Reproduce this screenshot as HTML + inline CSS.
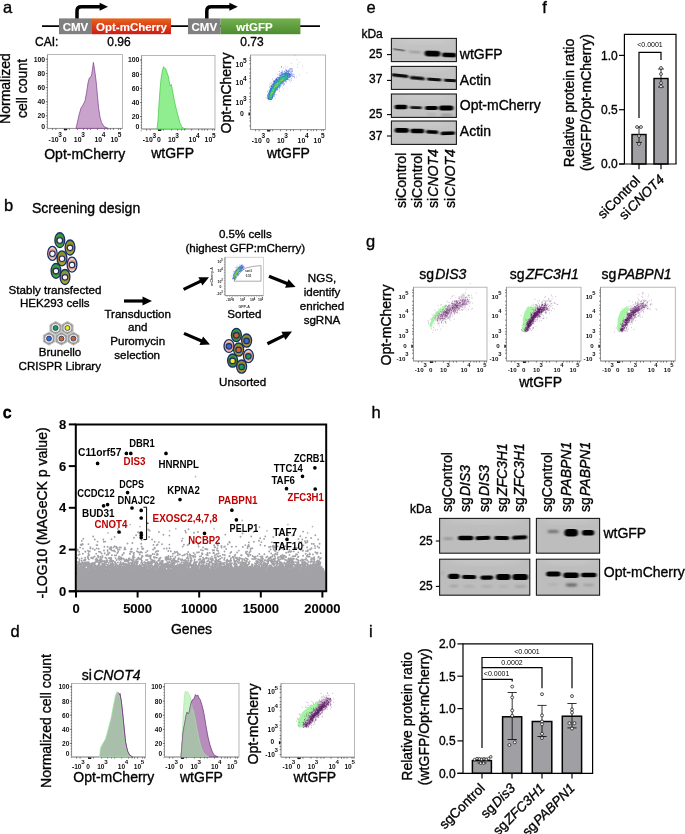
<!DOCTYPE html>
<html><head><meta charset="utf-8"><title>Figure</title><style>html,body{margin:0;padding:0;background:#fff}body{width:685px;height:834px;overflow:hidden;font-family:"Liberation Sans",sans-serif}svg{display:block;opacity:0.999;will-change:transform;filter:blur(0.35px)}</style></head><body><svg width="685" height="834" viewBox="0 0 685 834" font-family="'Liberation Sans', sans-serif" fill="#000"><defs><linearGradient id="gor" x1="0" y1="0" x2="0" y2="1"><stop offset="0" stop-color="#e8641c"/><stop offset="1" stop-color="#d01a12"/></linearGradient><linearGradient id="ggr" x1="0" y1="0" x2="0" y2="1"><stop offset="0" stop-color="#74b050"/><stop offset="1" stop-color="#4c8c30"/></linearGradient><linearGradient id="cellg" x1="0" y1="0" x2="0" y2="1"><stop offset="0.05" stop-color="#1f8a34"/><stop offset="0.25" stop-color="#3cb24a"/><stop offset="0.5" stop-color="#4e6c2a"/><stop offset="0.78" stop-color="#46ba50"/><stop offset="0.97" stop-color="#2a9a3c"/></linearGradient><linearGradient id="cello" x1="0" y1="0" x2="0" y2="1"><stop offset="0.05" stop-color="#5e9628"/><stop offset="0.25" stop-color="#8aa22a"/><stop offset="0.5" stop-color="#ad7c2a"/><stop offset="0.78" stop-color="#a8b234"/><stop offset="0.97" stop-color="#8aa82c"/></linearGradient><linearGradient id="cellp" x1="0" y1="0" x2="0" y2="1"><stop offset="0.05" stop-color="#f2dccc"/><stop offset="0.25" stop-color="#eec0ae"/><stop offset="0.5" stop-color="#de9484"/><stop offset="0.78" stop-color="#f0ccb4"/><stop offset="0.97" stop-color="#f2e2cc"/></linearGradient><filter id="bl1" x="-20%" y="-80%" width="140%" height="260%"><feGaussianBlur stdDeviation="0.9 0.7"/></filter><filter id="bl2" x="-20%" y="-80%" width="140%" height="260%"><feGaussianBlur stdDeviation="1.5 1.1"/></filter><filter id="bl3" x="-10%" y="-10%" width="120%" height="120%"><feGaussianBlur stdDeviation="5"/></filter><clipPath id="bc391_38"><rect x="391.4" y="38.4" width="65.0" height="23.2"/></clipPath><clipPath id="bc391_66"><rect x="391.4" y="66.4" width="65.0" height="23.0"/></clipPath><clipPath id="bc391_94"><rect x="391.4" y="94.0" width="65.0" height="23.4"/></clipPath><clipPath id="bc391_121"><rect x="391.4" y="121.0" width="65.0" height="23.4"/></clipPath><clipPath id="bc439_518"><rect x="439.6" y="518.4" width="90.2" height="34.8"/></clipPath><clipPath id="bc536_518"><rect x="536.4" y="518.4" width="63.2" height="34.8"/></clipPath><clipPath id="bc439_559"><rect x="439.6" y="559.2" width="90.2" height="36.0"/></clipPath><clipPath id="bc536_559"><rect x="536.4" y="559.2" width="63.2" height="36.0"/></clipPath></defs><text x="3.0" y="13.2" font-size="16.5" stroke="#000" stroke-width="0.35">a</text><line x1="42.0" y1="26.2" x2="320.0" y2="26.2" stroke="#000" stroke-width="1.7"/><rect x="59.0" y="18.4" width="33.0" height="15.8" fill="#808080"/><rect x="92.0" y="18.4" width="79.0" height="15.8" fill="url(#gor)"/><rect x="188.0" y="18.4" width="32.6" height="15.8" fill="#808080"/><rect x="220.6" y="18.4" width="79.8" height="15.8" fill="url(#ggr)"/><text x="75.5" y="31.0" font-size="11.5" text-anchor="middle" font-weight="bold" fill="#fff" stroke="#fff" stroke-width="0.12">CMV</text><text x="131.5" y="31.0" font-size="11.5" text-anchor="middle" font-weight="bold" fill="#fff" stroke="#fff" stroke-width="0.12">Opt-mCherry</text><text x="204.3" y="31.0" font-size="11.5" text-anchor="middle" font-weight="bold" fill="#fff" stroke="#fff" stroke-width="0.12">CMV</text><text x="254.5" y="31.0" font-size="11.5" text-anchor="middle" font-weight="bold" fill="#fff" stroke="#fff" stroke-width="0.12">wtGFP</text><path d="M77 18.6V11Q77 6.8 81.4 6.8H102" stroke="#000" stroke-width="3.5" fill="none"/><path d="M99.6 2.8L108 6.8L99.6 10.8Z" fill="#000"/><path d="M206.8 18.6V11Q206.8 6.8 211.20000000000002 6.8H231.8" stroke="#000" stroke-width="3.5" fill="none"/><path d="M229.4 2.8L237.8 6.8L229.4 10.8Z" fill="#000"/><text x="35.0" y="46.2" font-size="12" stroke="#000" stroke-width="0.35">CAI:</text><text x="119.0" y="46.2" font-size="12" text-anchor="middle" stroke="#000" stroke-width="0.35">0.96</text><text x="252.0" y="46.2" font-size="12" text-anchor="middle" stroke="#000" stroke-width="0.35">0.73</text><text x="10.2" y="88.5" font-size="14" text-anchor="middle" transform="rotate(-90 10.2 88.5)" stroke="#000" stroke-width="0.35">Normalized</text><text x="27.2" y="88.5" font-size="14" text-anchor="middle" transform="rotate(-90 27.2 88.5)" stroke="#000" stroke-width="0.35">cell count</text><rect x="47.4" y="54.6" width="75.0" height="73.8" fill="#fff" stroke="#a6a6a6" stroke-width="0.8"/><line x1="47.4" y1="54.6" x2="47.4" y2="128.4" stroke="#8c8c8c" stroke-width="0.8"/><line x1="47.4" y1="128.4" x2="122.4" y2="128.4" stroke="#8c8c8c" stroke-width="0.8"/><text x="45.2" y="61.6" font-size="6.9" text-anchor="end" font-weight="bold" fill="#111">100</text><text x="45.2" y="76.0" font-size="6.9" text-anchor="end" font-weight="bold" fill="#111">80</text><text x="45.2" y="90.0" font-size="6.9" text-anchor="end" font-weight="bold" fill="#111">60</text><text x="45.2" y="104.2" font-size="6.9" text-anchor="end" font-weight="bold" fill="#111">40</text><text x="45.2" y="118.2" font-size="6.9" text-anchor="end" font-weight="bold" fill="#111">20</text><text x="45.2" y="128.6" font-size="6.9" text-anchor="end" font-weight="bold" fill="#111">0</text><path d="M45.8 59.2h1.6M45.8 73.6h1.6M45.8 87.6h1.6M45.8 101.8h1.6M45.8 115.8h1.6M46.5 59.2h0.9M46.5 62.0h0.9M46.5 64.9h0.9M46.5 67.7h0.9M46.5 70.5h0.9M46.5 73.4h0.9M46.5 76.2h0.9M46.5 79.0h0.9M46.5 81.8h0.9M46.5 84.7h0.9M46.5 87.5h0.9M46.5 90.3h0.9M46.5 93.2h0.9M46.5 96.0h0.9M46.5 98.8h0.9M46.5 101.7h0.9M46.5 104.5h0.9M46.5 107.3h0.9M46.5 110.1h0.9M46.5 113.0h0.9M46.5 115.8h0.9M46.5 118.6h0.9M46.5 121.5h0.9M46.5 124.3h0.9M46.5 127.1h0.9M46.5 129.9h0.9" stroke="#333" stroke-width="0.6" fill="none"/><text x="48.6" y="141.6" font-size="6.9" font-weight="bold" fill="#111">-10<tspan dy="-4.6" dx="-0.3" font-size="6.5">3</tspan></text><text x="62.8" y="141.6" font-size="6.9" font-weight="bold" fill="#111">0</text><text x="73.8" y="141.6" font-size="6.9" font-weight="bold" fill="#111">10<tspan dy="-4.6" dx="-0.3" font-size="6.5">3</tspan></text><text x="94.4" y="141.6" font-size="6.9" font-weight="bold" fill="#111">10<tspan dy="-4.6" dx="-0.3" font-size="6.5">4</tspan></text><text x="110.4" y="141.6" font-size="6.9" font-weight="bold" fill="#111">10<tspan dy="-4.6" dx="-0.3" font-size="6.5">5</tspan></text><path d="M52.4 128.4v1.6M55.9 128.4v1.6M64.4 128.4v1.6M66.9 128.4v1.6M69.4 128.4v1.6M77.4 128.4v1.6M83.4 128.4v1.6M87.4 128.4v1.6M90.4 128.4v1.6M97.4 128.4v1.6M104.4 128.4v1.6M107.9 128.4v1.6M110.4 128.4v1.6M113.4 128.4v1.6M118.4 128.4v1.6M120.4 128.4v1.6" stroke="#333" stroke-width="0.6" fill="none"/><path d="M63.9 129.6h3" stroke="#111" stroke-width="1.4"/><polygon points="76.0,128.4 77.5,122.0 79.0,115.0 81.0,108.0 83.0,105.0 85.0,101.0 86.5,93.0 88.0,83.0 89.3,78.0 90.5,77.3 91.6,75.0 92.5,69.0 93.4,62.4 94.2,67.0 95.2,74.0 96.2,82.0 97.4,95.0 98.6,108.0 100.0,117.0 101.5,122.5 104.0,126.6 108.0,128.4" fill="#c9a3cb" stroke="#7d3c8e" stroke-width="0.7" stroke-linejoin="round"/><text x="84.7" y="159.0" font-size="14" text-anchor="middle" stroke="#000" stroke-width="0.35">Opt-mCherry</text><rect x="141.6" y="55.4" width="73.4" height="73.6" fill="#fff" stroke="#a6a6a6" stroke-width="0.8"/><line x1="141.6" y1="55.4" x2="141.6" y2="129.0" stroke="#8c8c8c" stroke-width="0.8"/><line x1="141.6" y1="129.0" x2="215.0" y2="129.0" stroke="#8c8c8c" stroke-width="0.8"/><text x="139.4" y="62.4" font-size="6.9" text-anchor="end" font-weight="bold" fill="#111">100</text><text x="139.4" y="76.8" font-size="6.9" text-anchor="end" font-weight="bold" fill="#111">80</text><text x="139.4" y="90.8" font-size="6.9" text-anchor="end" font-weight="bold" fill="#111">60</text><text x="139.4" y="105.0" font-size="6.9" text-anchor="end" font-weight="bold" fill="#111">40</text><text x="139.4" y="119.0" font-size="6.9" text-anchor="end" font-weight="bold" fill="#111">20</text><text x="139.4" y="129.4" font-size="6.9" text-anchor="end" font-weight="bold" fill="#111">0</text><path d="M140.0 60.0h1.6M140.0 74.4h1.6M140.0 88.4h1.6M140.0 102.6h1.6M140.0 116.6h1.6M140.7 60.0h0.9M140.7 62.8h0.9M140.7 65.7h0.9M140.7 68.5h0.9M140.7 71.3h0.9M140.7 74.2h0.9M140.7 77.0h0.9M140.7 79.8h0.9M140.7 82.6h0.9M140.7 85.5h0.9M140.7 88.3h0.9M140.7 91.1h0.9M140.7 94.0h0.9M140.7 96.8h0.9M140.7 99.6h0.9M140.7 102.5h0.9M140.7 105.3h0.9M140.7 108.1h0.9M140.7 110.9h0.9M140.7 113.8h0.9M140.7 116.6h0.9M140.7 119.4h0.9M140.7 122.3h0.9M140.7 125.1h0.9M140.7 127.9h0.9M140.7 130.8h0.9" stroke="#333" stroke-width="0.6" fill="none"/><text x="142.8" y="142.2" font-size="6.9" font-weight="bold" fill="#111">-10<tspan dy="-4.6" dx="-0.3" font-size="6.5">3</tspan></text><text x="157.0" y="142.2" font-size="6.9" font-weight="bold" fill="#111">0</text><text x="168.0" y="142.2" font-size="6.9" font-weight="bold" fill="#111">10<tspan dy="-4.6" dx="-0.3" font-size="6.5">3</tspan></text><text x="188.6" y="142.2" font-size="6.9" font-weight="bold" fill="#111">10<tspan dy="-4.6" dx="-0.3" font-size="6.5">4</tspan></text><text x="204.6" y="142.2" font-size="6.9" font-weight="bold" fill="#111">10<tspan dy="-4.6" dx="-0.3" font-size="6.5">5</tspan></text><path d="M146.6 129.0v1.6M150.1 129.0v1.6M158.6 129.0v1.6M161.1 129.0v1.6M163.6 129.0v1.6M171.6 129.0v1.6M177.6 129.0v1.6M181.6 129.0v1.6M184.6 129.0v1.6M191.6 129.0v1.6M198.6 129.0v1.6M202.1 129.0v1.6M204.6 129.0v1.6M207.6 129.0v1.6M212.6 129.0v1.6M214.6 129.0v1.6" stroke="#333" stroke-width="0.6" fill="none"/><path d="M158.1 130.2h3" stroke="#111" stroke-width="1.4"/><polygon points="157.0,129.0 158.0,120.0 159.0,104.0 160.0,90.0 161.0,79.0 162.3,71.0 163.6,66.6 164.6,68.4 165.6,68.6 167.0,72.6 168.2,76.0 169.3,82.0 170.2,86.0 171.4,84.4 172.4,90.0 174.0,99.0 176.0,108.0 178.0,115.5 180.0,123.0 182.0,127.4 186.0,129.0" fill="#90ee90" stroke="#3ccc3c" stroke-width="0.7" stroke-linejoin="round"/><text x="172.6" y="158.2" font-size="14" text-anchor="middle" stroke="#000" stroke-width="0.35">wtGFP</text><text x="231.2" y="93.0" font-size="14" text-anchor="middle" transform="rotate(-90 231.2 93.0)" stroke="#000" stroke-width="0.35">Opt-mCherry</text><rect x="250.6" y="55.0" width="74.8" height="74.6" fill="#fff" stroke="#a6a6a6" stroke-width="0.8"/><line x1="250.6" y1="55.0" x2="250.6" y2="129.6" stroke="#8c8c8c" stroke-width="0.8"/><line x1="250.6" y1="129.6" x2="325.4" y2="129.6" stroke="#8c8c8c" stroke-width="0.8"/><text x="246.6" y="67.1" font-size="6.9" text-anchor="end" font-weight="bold" fill="#111">10<tspan dy="-4.6" dx="-0.3" font-size="6.5">5</tspan></text><text x="246.6" y="85.3" font-size="6.9" text-anchor="end" font-weight="bold" fill="#111">10<tspan dy="-4.6" dx="-0.3" font-size="6.5">4</tspan></text><text x="246.6" y="105.3" font-size="6.9" text-anchor="end" font-weight="bold" fill="#111">10<tspan dy="-4.6" dx="-0.3" font-size="6.5">3</tspan></text><text x="243.8" y="116.4" font-size="6.9" text-anchor="end" font-weight="bold" fill="#111">0</text><path d="M249.2 58.0h1.4M249.2 60.5h1.4M249.2 63.8h1.4M249.2 69.0h1.4M249.2 73.0h1.4M249.2 76.0h1.4M249.2 78.5h1.4M249.2 82.0h1.4M249.2 88.0h1.4M249.2 93.0h1.4M249.2 96.5h1.4M249.2 99.5h1.4M249.2 102.0h1.4M249.2 107.0h1.4M249.2 110.0h1.4M249.2 114.0h1.4M249.2 118.0h1.4M249.2 121.0h1.4M249.2 126.0h1.4" stroke="#333" stroke-width="0.6" fill="none"/><path d="M249.2 112.6v3" stroke="#111" stroke-width="1.4"/><text x="251.8" y="142.8" font-size="6.9" font-weight="bold" fill="#111">-10<tspan dy="-4.6" dx="-0.3" font-size="6.5">3</tspan></text><text x="266.0" y="142.8" font-size="6.9" font-weight="bold" fill="#111">0</text><text x="277.0" y="142.8" font-size="6.9" font-weight="bold" fill="#111">10<tspan dy="-4.6" dx="-0.3" font-size="6.5">3</tspan></text><text x="297.6" y="142.8" font-size="6.9" font-weight="bold" fill="#111">10<tspan dy="-4.6" dx="-0.3" font-size="6.5">4</tspan></text><text x="313.6" y="142.8" font-size="6.9" font-weight="bold" fill="#111">10<tspan dy="-4.6" dx="-0.3" font-size="6.5">5</tspan></text><path d="M255.6 129.6v1.6M259.1 129.6v1.6M267.6 129.6v1.6M270.1 129.6v1.6M272.6 129.6v1.6M280.6 129.6v1.6M286.6 129.6v1.6M290.6 129.6v1.6M293.6 129.6v1.6M300.6 129.6v1.6M307.6 129.6v1.6M311.1 129.6v1.6M313.6 129.6v1.6M316.6 129.6v1.6M321.6 129.6v1.6M323.6 129.6v1.6" stroke="#333" stroke-width="0.6" fill="none"/><path d="M267.1 130.8h3" stroke="#111" stroke-width="1.4"/><path d="M266.2 97.8h0m1.3-1.9h0m0 .7h0m.1-5.2h0m0 3.9h0m.1 3h0m.1-.5h0m.1-3h0m0 3.9h0m.1-2.2h0m0 .8h0m0 1.7h0m.3-3.2h0m.1-2.6h0m0 .7h0m.1 3.9h0m.1 .3h0m0 .5h0m.1-2.8h0m0 .1h0m0 .2h0m.1-2.2h0m.1 1.3h0m0 1.4h0m0 1.5h0m0 .5h0m0 .4h0m.1-8.7h0m0 3.9h0m0 4.7h0m.1-6h0m0 1.7h0m0 3.8h0m0 1h0m.1-7.5h0m0 1.3h0m.1-.9h0m0 1.4h0m0 2.9h0m0 1.2h0m0 .7h0m.1-4.6h0m0 .1h0m0 1.2h0m0 .8h0m0 1.9h0m0 1.4h0m.1-9.1h0m0 2.4h0m0 2.7h0m0 1.6h0m0 .9h0m.1-10.9h0m0 4.7h0m0 0h0m0 3.2h0m0 3.4h0m.1-13.9h0m0 7.2h0m.1 2.8h0m0 3h0m0 .4h0m.1-3h0m.1-7.6h0m0 3.2h0m0 8.5h0m.1-8.2h0m0 1.4h0m0 2.7h0m.1-2.9h0m0 6.2h0m.1-9.5h0m0 .5h0m0 8.2h0m0 0h0m0 .1h0m0 .8h0m.1-10h0m0 2.5h0m0 .7h0m0 3.1h0m0 4.1h0m0 .2h0m0 .5h0m.1-9.7h0m0 2.1h0m0 2.4h0m0 2.1h0m0 .6h0m0 1.4h0m0 .1h0m0 .6h0m0 .5h0m0 0h0m.1-10.2h0m0 4.5h0m0 5.2h0m.1-8.6h0m0 1.1h0m0 .5h0m0 2.1h0m0 1.2h0m0 0h0m0 .6h0m0 1.9h0m0 .1h0m0 0h0m.1-6.8h0m0 5.3h0m0 .2h0m0 1.2h0m0 1.8h0m.1-13.5h0m0 2.3h0m0 .6h0m0 3.5h0m0 1.1h0m0 3.6h0m0 1.7h0m.1-15.3h0m0 6.6h0m0 1h0m0 4.6h0m0 1.4h0m.1-7.1h0m0 2h0m0 2.5h0m0 .3h0m0 .4h0m0 .3h0m.1-9.4h0m0 2.2h0m0 0h0m0 .4h0m0 0h0m0 4.5h0m0 2h0m0 .7h0m.1-9.2h0m0 3h0m0 2h0m0 .8h0m0 .2h0m0 .5h0m0 3.5h0m0 .8h0m0 .9h0m0 .7h0m.1-1.5h0m0 1.4h0m.1-12.6h0m0 9.3h0m0 1.5h0m0 2h0m0 .2h0m.1-12.7h0m0 .2h0m0 3.8h0m0 1.1h0m0 .7h0m0 .2h0m0 .8h0m0 3.3h0m.1-10.5h0m0 3.9h0m0 .1h0m0 2.6h0m.1-7.8h0m0 1h0m0 .4h0m0 2.8h0m0 .8h0m0 2.8h0m0 2.9h0m0 .5h0m.1-7.3h0m0 .4h0m0 4.3h0m0 4.4h0m0 1.4h0m.1-7.8h0m0 3.1h0m0 .6h0m.1-9.4h0m0 1.9h0m0 3.3h0m0 1.3h0m0 .4h0m0 .9h0m0 .4h0m0 2.2h0m0 .2h0m.1-10.2h0m0 1.8h0m0 .3h0m0 1.9h0m0 1.9h0m0 1.4h0m0 1.5h0m0 1.6h0m0 .7h0m.1-12.1h0m0 5.5h0m.1 6h0m0 1.6h0m.1-7.8h0m0 .4h0m0 3.6h0m0 .7h0m0 1.2h0m0 .6h0m0 .4h0m0 0h0m0 .2h0m.1-11.6h0m0 .8h0m0 3.2h0m0 .5h0m0 .1h0m.1-11.7h0m0 5.4h0m0 4.6h0m0 1.2h0m0 2.8h0m0 3.1h0m.1-4.4h0m0 .9h0m0 .7h0m.1-9h0m0 2.4h0m0 .3h0m0 2.3h0m0 .9h0m0 4.7h0m0 0h0m.1-11.8h0m0 4.1h0m0 1h0m0 4.6h0m.1-3.5h0m0 5.9h0m.1-14.1h0m0 5.7h0m0 2.4h0m.1-4.7h0m0 3.5h0m0 6.3h0m0 0h0m.1-13.2h0m0 6.2h0m0 2.4h0m0 2.4h0m0 .7h0m.1-8.5h0m0 0h0m0 2.6h0m0 .3h0m0 2h0m0 2.6h0m0 3.4h0m.1-13h0m0 4.2h0m0 2.9h0m.1-7.8h0m0 1.7h0m0 .5h0m0 1.3h0m0 .3h0m.1-.8h0m0 0h0m0 .7h0m0 1.4h0m0 6.7h0m0 .8h0m0 2.5h0m.1-12.6h0m0 5.4h0m0 3.7h0m.1-6.5h0m0 2.8h0m0 1.1h0m0 1.5h0m.1-9.9h0m0 4.9h0m0 7.7h0m.1-12.8h0m0 8.4h0m0 .1h0m0 3h0m.1-12.2h0m0 .1h0m0 4.5h0m0 .1h0m0 1h0m0 5.2h0m0 1.1h0m.1-8.7h0m0 2.9h0m0 1.5h0m0 1.2h0m0 0h0m0 1.7h0m.1-8.5h0m0 2.5h0m0 4.6h0m0 5.5h0m.1-14.6h0m0 1.5h0m0 1.2h0m0 2.9h0m0 .6h0m0 1.2h0m.1-7.9h0m0 1h0m0 .6h0m0 .8h0m0 2h0m0 .3h0m0 4.6h0m0 1.5h0m0 .6h0m0 2.6h0m.1-8.4h0m0 .2h0m0 3.8h0m0 1.3h0m0 .2h0m0 .8h0m.1-9.2h0m.1-.9h0m0 1.1h0m0 4.8h0m.1-6.7h0m0 4.9h0m0 2.1h0m0 1.5h0m0 .3h0m0 .5h0m.1-10.1h0m0 4.1h0m0 .1h0m0 1h0m0 3.5h0m.1-7.3h0m0 .4h0m0 3.9h0m0 4.5h0m.1-8.5h0m0 6h0m.1-.9h0m.1-5.7h0m0 1.3h0m0 .7h0m.1-4.2h0m0 .8h0m0 9.1h0m0 0h0m.1-3.2h0m0 2.8h0m.1-10h0m0 .4h0m0 6.8h0m.1-7.7h0m0 1.3h0m0 1.9h0m0 1.4h0m0 4.4h0m0 1.4h0m.1-3.6h0m0 1.8h0m0 7.1h0m.1-15.2h0m0 1.2h0m0 2.3h0m0 .3h0m0 2.3h0m0 2.1h0m.1-6.3h0m0 1.6h0m0 .1h0m.1-3.9h0m0 .3h0m0 .9h0m0 4.4h0m0 1.1h0m0 1.2h0m0 .4h0m0 .1h0m.1-8.6h0m0 3.4h0m0 .3h0m0 2h0m0 3.3h0m0 1.2h0m.1-5.7h0m0 .9h0m0 1h0m.1-6.5h0m0 .8h0m0 6.6h0m.1-6h0m0 2.3h0m0 5.3h0m0 2.3h0m.1-7h0m0 1.4h0m0 2.6h0m0 2.6h0m0 .3h0m.1-6h0m0 3.3h0m0 .9h0m.1-10.6h0m0 9h0m0 .8h0m.1-13.2h0m0 5.7h0m0 3.1h0m0 1.7h0m0 2.7h0m0 .1h0m0 1.6h0m.1-9.9h0m0 .4h0m0 .8h0m0 1.2h0m0 1.7h0m.1 1.3h0m0 .1h0m0 1.4h0m.1-4.1h0m0 1.3h0m.1-5.6h0m0 5.1h0m0 .9h0m0 1h0m0 3.7h0m.1-5.8h0m0 .4h0m0 .5h0m0 .1h0m0 .2h0m.1-6.6h0m0 3.3h0m0 4.7h0m0 4.5h0m.1-5.2h0m0 1.5h0m0 3h0m.1-8.7h0m0 .9h0m.1-3.5h0m0 .2h0m0 4h0m0 3.4h0m0 1.5h0m0 0h0m.1-7.9h0m0 1.6h0m0 2.9h0m0 .8h0m0 2.9h0m.1-7.2h0m0 1.7h0m0 3.2h0m.1-7.3h0m0 2.4h0m0 3.2h0m0 1.6h0m0 .8h0m.1 .4h0m.1-7.3h0m0 .9h0m.1 4.9h0m0 2h0m.1-5.9h0m0 1.8h0m.1-6.7h0m0 2.9h0m0 2h0m0 2.1h0m0 1.7h0m0 1.1h0m0 1.6h0m.1-6.4h0m0 4.9h0m.1-5.2h0m0 .8h0m0 .5h0m0 1.8h0m.1-3.2h0m0 7.6h0m.1-10.6h0m0 4.4h0m0 1.1h0m0 8.4h0m.1-19.6h0m0 11.6h0m0 3.8h0m.1-8h0m0 .1h0m0 2.3h0m0 3.8h0m0 3.7h0m.1-15h0m0 13.3h0m.1-1.7h0m0 1.4h0m.1-12h0m0 2.6h0m0 1.4h0m0 3.6h0m.1-5.4h0m0 3.8h0m0 1.8h0m0 3.3h0m.1-10.5h0m0 .3h0m0 3.1h0m0 .2h0m0 .9h0m.1-.3h0m.1-.2h0m0 3.9h0m.1-7.4h0m0 2.6h0m0 1.5h0m0 2.4h0m0 2h0m0 .8h0m.1-7.4h0m.1-2.6h0m0 .3h0m0 3h0m0 2.3h0m0 .9h0m0 1.3h0m.1-3.7h0m0 3.8h0m0 .2h0m.1-4.6h0m0 4.7h0m0 .5h0m.1-4.7h0m0 4.6h0m.1-1.3h0m.1-9.8h0m0 4h0m0 3.3h0m.1 2.4h0m0 2.7h0m.1-12h0m0 9.8h0m.1-1.3h0m.1-14.3h0m0 7.2h0m0 3.9h0m0 1.1h0m.1-13h0m0 8.4h0m0 7.8h0m.1-5.5h0m0 2.1h0m0 1h0m.1-7.6h0m0 2.8h0m0 3.8h0m0 1.5h0m0 2.4h0m.1-6h0m0 2.7h0m.1-7.1h0m0 10.3h0m.1-5.4h0m0 1.6h0m.1-7.7h0m0 1.6h0m0 1.2h0m0 3.4h0m0 1.8h0m.1-1.4h0m0 4.9h0m.1-8.8h0m0 6.4h0m0 2.7h0m.1-9.3h0m0 2.4h0m0 2.6h0m.1-6.8h0m0 4.4h0m0 4.2h0m0 2.2h0m.1-6.5h0m0 5.2h0m.1-5.4h0m0 1.1h0m0 1h0m0 2.5h0m.2 1.9h0m.1-9h0m0 6.5h0m.1-5.2h0m0 2.3h0m0 .9h0m0 2.6h0m.1-7.3h0m0 5.2h0m0 1.3h0m0 4.2h0m.1-3.2h0m0 .8h0m.1-5.4h0m.1 0h0m0 1.8h0m0 7h0m.1-7.8h0m0 2.8h0m0 1.6h0m.1-8h0m0 7.7h0m.1-4.1h0m0 2.4h0m.1-4.6h0m0 4.1h0m0 .7h0m0 0h0m.1-5.9h0m0 .1h0m.1-2h0m0 3.9h0m0 2.6h0m0 1h0m.1-8.6h0m0 6.2h0m0 6.3h0m.1-5h0m0 2.5h0m.1-4.5h0m.1-3.1h0m0 3.2h0m.1-5.5h0m0 3.8h0m0 5.8h0m.1-7.2h0m.1 .8h0m0 1.9h0m.1-2.8h0m0 1.7h0m0 .3h0m0 4.4h0m.1-6.3h0m0 6.4h0m.1-4.8h0m0 1.1h0m.1-3.5h0m0 1.5h0m0 5.1h0m.2-8.6h0m0 2.4h0m0 8h0m.1-12.3h0m0 5.4h0m0 5.1h0m.1-7h0m.1 4.3h0m.1-2.3h0m0 1h0m0 4.2h0m.1 3h0m.1-3.3h0m0 .7h0m.2-7.9h0m0 .2h0m0 9h0m.1-8.6h0m0 .3h0m0 .3h0m0 .1h0m0 6.3h0m.1-9.6h0m0 7.2h0m0 1.7h0m.1-5.3h0m0 1.6h0m.1-5.4h0m0 .7h0m0 2.6h0m0 2h0m.1-1.6h0m0 2.3h0m0 .7h0m.1 .1h0m.1-5.2h0m.1 6.7h0m0 .7h0m.1-8.8h0m0 1.1h0m0 .3h0m0 2.6h0m0 3.8h0m0 .6h0m.1-2.8h0m0 3.4h0m0 .1h0m.1-3.2h0m0 2.5h0m0 .5h0m.1-4.1h0m.1 .3h0m0 2.9h0m.1-4.1h0m0 2.5h0m0 .1h0m.1-5.5h0m0 2.5h0m0 1.8h0m.1-2.4h0m0 .5h0m.2 .2h0m.1-1.1h0m0 2h0m.1-.6h0m0 .3h0m0 2.9h0m.1-5.2h0m.1 1.6h0m.1-2.8h0m0 1.9h0m0 2.7h0m.1-4.3h0m0 6.4h0m.1-7.2h0m.1 3.4h0m0 5.5h0m.1-5.5h0m0 3h0m.3-2.3h0m0 .2h0m0 2.2h0m.1-6.3h0m0 4.7h0m0 .3h0m0 1.5h0m.1-3.6h0m0 2.3h0m.1-6.9h0m0 5.3h0m0 .5h0m.1-3.4h0m0 3h0m.1 3.2h0m.1-3.5h0m0 5.7h0m.5-8.6h0m0 5h0m0 .2h0m.1-2.2h0m.1-5.2h0m0 5.6h0m0 1.2h0m.1-1.5h0m.2-5.4h0m0 3.9h0m0 3.5h0m.1-1h0m.1-6h0m0 3.6h0m.1-1.1h0m.2 3.8h0m.1-2.1h0m.2-4.9h0m0 6h0m0 3.9h0m0 1.7h0m.1-9.5h0m.4 1.1h0m.1-.7h0m.2-1.3h0m0 4.9h0m.1 2.1h0m.2-1.1h0m.3-1.8h0m.6 2.5h0m.4-1.8h0m.2 1.8h0m.5 1.2h0" stroke="#3a52d8" stroke-width="0.55" stroke-linecap="round" fill="none"/><path d="M268 92.6h0m2.1 8.8h0m1-12.4h0m.1-6.5h0m1.8 2.6h0m2.1 2.2h0m.2 11.2h0m.3-15.9h0m0 7h0m.2 .7h0m.1-8.3h0m.4-3.7h0m.8 10.8h0m.8-8h0m.1-1.7h0m2 5.9h0m.1 1.2h0m.7-12.6h0m0 11h0m.1-11.2h0m.4 8.6h0m.5 2.8h0m.3-4.9h0m.1-9.5h0m0 .3h0m0 16.1h0m.1-6.4h0m.6 2.4h0m.4-15.2h0m.1 9.2h0m.1 11.8h0m.6-10.1h0m.2 5.7h0m.1-.9h0m.9-17.4h0m.1 7.1h0m.6-2.8h0m1.4 2.9h0m.3-6.1h0m.6 12.7h0m.5-8.6h0m.2-1.8h0m.3 .3h0m.4 10.9h0m.3-4.9h0m.3 6.1h0m1-18.7h0m.2 12.6h0m.6-7.3h0m.4 2.7h0m1.6 4.9h0m.6-21.1h0m1.9 21.8h0m.4-17h0m.7 7.2h0m.1-2.8h0m1.5-2h0m0 12.5h0m3.1-8.5h0m4.5 6.6h0" stroke="#6a7ce0" stroke-width="0.45" stroke-linecap="round" fill="none"/><path d="M268.7 93.9h0m0 .6h0m.1 3.3h0m0 0h0m0 .5h0m0 1h0m.1-1.3h0m0 .7h0m.1-2.4h0m0 1.4h0m0 1.6h0m.1-3.1h0m0 1.1h0m0 1.3h0m.1-1.1h0m0 1h0m.1-.9h0m0 .8h0m0 .1h0m0 .2h0m.1-2.6h0m0 3.3h0m.1-8.3h0m0 2.9h0m0 1.7h0m0 .5h0m0 .1h0m0 .9h0m0 .3h0m0 .2h0m0 1h0m0 .4h0m0 0h0m.2-3.2h0m0 .2h0m0 1h0m0 1.5h0m0 .1h0m.1-3.6h0m0 .1h0m0 .7h0m0 .4h0m0 .6h0m.1-1.3h0m0 .7h0m.1-1h0m0 1.7h0m.1-2.3h0m0 .2h0m0 2.1h0m0 .6h0m0 .1h0m0 .4h0m.1-4.6h0m0 .1h0m0 1h0m0 .2h0m0 .5h0m0 .7h0m0 .7h0m0 .4h0m.1-4.5h0m0 .3h0m0 .5h0m0 .4h0m0 1.2h0m.1-4.1h0m0 2.3h0m0 1.5h0m0 1.4h0m0 .6h0m0 .3h0m0 2.2h0m.1-10.2h0m0 6.5h0m0 1h0m0 1h0m0 1.8h0m.1-7.8h0m0 3.2h0m0 .6h0m0 .8h0m0 .4h0m.1-7.4h0m0 .3h0m0 2.8h0m0 .1h0m0 4.8h0m0 1.1h0m.1-9h0m0 2.1h0m0 1.5h0m0 1.3h0m0 .7h0m0 .2h0m0 0h0m0 .4h0m0 .1h0m0 1.3h0m.1-6h0m0 .6h0m0 5.4h0m0 1.4h0m.1-5.6h0m0 1.7h0m0 .1h0m0 1.3h0m0 1.9h0m.1-.4h0m0 .1h0m0 .1h0m0 1.5h0m.1-9.5h0m0 .9h0m0 .2h0m0 2.5h0m0 .1h0m0 2.8h0m0 1.5h0m0 1.7h0m.1-10h0m0 .9h0m0 .8h0m0 1.2h0m0 3.1h0m0 1.4h0m0 .6h0m.1-8.5h0m0 .1h0m0 5.3h0m0 2.6h0m0 2.5h0m0 .1h0m.1-6h0m0 2.6h0m0 1.6h0m0 .3h0m.1-8.1h0m0 4.6h0m0 .2h0m0 .7h0m0 2.2h0m0 .3h0m.1-9.2h0m0 1.1h0m0 4.4h0m0 2.8h0m0 .1h0m0 .6h0m0 .3h0m.1-1.2h0m0 .8h0m0 1.3h0m.1-10.4h0m0 4.6h0m.1-5.3h0m.1 1.2h0m0 .5h0m0 4.9h0m.1-6.3h0m0 .3h0m.1 5h0m0 2.1h0m0 .6h0m0 .1h0m.1-7.9h0m0 1h0m0 .6h0m0 .2h0m0 .4h0m0 4.9h0m0 1.4h0m.1-12.3h0m0 3.5h0m0 1.6h0m0 .6h0m0 1h0m0 1h0m0 .9h0m0 1.7h0m0 .7h0m0 2.7h0m.1-8.9h0m0 1h0m0 1.7h0m0 .5h0m0 .2h0m0 .4h0m0 .1h0m.1-5.1h0m0 .1h0m0 1.7h0m0 3.2h0m.1-5.8h0m0 .9h0m0 1.4h0m0 3.8h0m0 1.7h0m.1-5.2h0m0 3h0m.1-5.4h0m0 .6h0m0 2h0m0 2.9h0m0 1.4h0m.1-8.5h0m0 .7h0m0 2.3h0m0 1.6h0m0 2h0m0 .3h0m.1-2.2h0m0 .7h0m0 .9h0m0 1.5h0m.1-9h0m0 2.4h0m0 .8h0m0 1.4h0m0 .5h0m0 .3h0m.1-3.1h0m0 1.1h0m0 3.1h0m0 1.7h0m.1-4.1h0m0 2.4h0m0 2.1h0m.1-8.4h0m0 5.6h0m0 1.5h0m.1-3.7h0m.1-3.5h0m0 2.3h0m0 .5h0m0 .4h0m0 .3h0m0 3.4h0m.1-3.6h0m0 6.1h0m0 2.6h0m.1-12.3h0m0 1.4h0m0 .8h0m0 3.5h0m0 1.3h0m.1-7.6h0m0 3.5h0m0 4.4h0m0 .5h0m.1-5.2h0m0 4.1h0m.1-7.3h0m0 3.5h0m0 .6h0m0 .8h0m0 1.8h0m.1-4.5h0m0 .4h0m0 .9h0m0 .7h0m0 2.4h0m0 .9h0m.1-7.3h0m0 1.8h0m0 1.3h0m0 1h0m0 .3h0m0 .7h0m0 1h0m.1-5h0m0 1.4h0m0 4.1h0m.1-4.2h0m0 .5h0m0 1.7h0m0 1.4h0m.1-6.4h0m0 1.5h0m.1-4h0m.1 .4h0m0 4.2h0m0 1.4h0m0 2h0m0 2.2h0m.1-6.7h0m0 1h0m0 .6h0m.1-1.9h0m0 .2h0m0 .3h0m0 5.4h0m.1-6h0m0 1.4h0m0 .2h0m0 2.5h0m0 .5h0m0 0h0m0 1.5h0m0 .3h0m.1-7.2h0m0 3.2h0m0 .6h0m0 3.2h0m0 2h0m.1-7h0m0 .4h0m0 0h0m0 4h0m.1-8.5h0m0 5.2h0m0 .2h0m0 .1h0m0 1.1h0m0 .9h0m.1-6.8h0m0 2.7h0m0 3.9h0m.1-5.2h0m0 4.5h0m0 .8h0m0 .7h0m0 .5h0m.1-7.4h0m0 .2h0m0 2.1h0m0 1.3h0m.2-3.6h0m0 2.5h0m.1-1.2h0m0 3.5h0m0 .7h0m0 1.1h0m.1-7.3h0m0 1.7h0m0 2h0m0 1.7h0m0 1h0m.1-3.2h0m0 .8h0m.1-4.1h0m0 1.5h0m0 .5h0m0 1.3h0m0 .6h0m.1-4.2h0m0 1.8h0m0 2h0m.2-1.6h0m.1-3.3h0m0 1.1h0m0 .5h0m0 2.5h0m0 0h0m0 3.2h0m.1-5.1h0m0 1.6h0m0 1h0m.1 1.9h0m.1-3.2h0m0 3.2h0m.1-1.5h0m.1-3h0m.1 1.8h0m0 1.3h0m.1-3.5h0m0 1.1h0m.1-1.3h0m0 1.8h0m.1-3.2h0m0 .3h0m0 6h0m.2-5h0m0 4h0m.1-5.9h0m0 1.3h0m0 0h0m0 0h0m0 1.5h0m0 3.4h0m.1-5.1h0m0 .5h0m0 .7h0m0 .1h0m0 2.7h0m.1-3.5h0m0 .4h0m0 .3h0m0 3.3h0m.1-3.7h0m.1 .4h0m0 0h0m0 1.3h0m.1-3.1h0m0 0h0m0 3.2h0m0 .1h0m.1-2.4h0m0 .5h0m0 2.6h0m.1 .5h0m.1-5.6h0m0 1.2h0m0 .3h0m.1-.1h0m.1 2.4h0m.1-2.2h0m0 1.1h0m0 3.1h0m.1-2.7h0m0 .8h0m0 .2h0m0 1.3h0m.1-4.9h0m.1-2h0m0 2.9h0m0 2.5h0m.1-5.5h0m0 .1h0m0 .1h0m0 1.2h0m0 .1h0m0 2.9h0m0 1.3h0m0 .1h0m.1-1.2h0m0 .3h0m.1-3.6h0m0 .9h0m0 .6h0m.1 1.6h0m0 .7h0m.1-1.2h0m0 2.7h0m.1-6.9h0m0 1.5h0m0 .1h0m0 4.7h0m.1-.7h0m.1-5.1h0m0 9.2h0m.1-9h0m0 1.2h0m0 .7h0m.1 .6h0m0 1.7h0m.2-5.7h0m0 2.6h0m0 2.9h0m0 1h0m.1-6.9h0m.1 6h0m0 .2h0m.1-3.7h0m0 2.9h0m0 .6h0m.1-4.7h0m0 5.6h0m.1-4.9h0m0 1.9h0m.1 .1h0m0 .3h0m.2-.3h0m.1-.5h0m0 2.2h0m.1-6h0m0 4.8h0m.1-.2h0m.1-2.1h0m0 1.6h0m.1-3.7h0m0 .9h0m0 2.2h0m.1-5.8h0m0 6.8h0m.1-4.5h0m.1-.7h0m0 0h0m0 1.6h0m0 1.6h0m.1-1.6h0m0 4.6h0m0 .4h0m.1-3.9h0m0 1.8h0m0 1.4h0m0 0h0m.1-.5h0m0 .4h0m0 .4h0m0 .1h0m.1-6.5h0m.1 3.7h0m.1 .5h0m.1 1.1h0m0 .4h0m.1 .3h0m.1-3.2h0m.1 .5h0m0 1.8h0m0 2.8h0m.1-2.4h0m.1-6.6h0m0 6.9h0m.2-5.9h0m0 1.4h0m0 .6h0m0 .3h0m0 .7h0m0 1.7h0m0 .6h0m.2-3.1h0m0 1.3h0m0 .4h0m.2-5h0m0 1.3h0m0 1.2h0m.1 3h0m.1-3.1h0m.1-1.5h0m0 1.2h0m0 .6h0m0 2h0m.1-.2h0m0 .4h0m0 1h0m.1-5.6h0m.1 .1h0m0 1.2h0m0 1.9h0m0 2h0m.1-5.7h0m0 .3h0m0 .6h0m.1 3.1h0m0 .4h0m0 1.7h0m.1-6.3h0m0 7h0m.2-4.5h0m.2 .3h0m0 .8h0m0 .5h0m.1-1.6h0m0 1.4h0m.1-2h0m0 .3h0m0 2h0m0 .5h0m.1-5.2h0m.1 2.5h0m0 5.4h0m.1-2.6h0m0 1h0m.1-4.1h0m0 .8h0m.1-.8h0m0 .9h0m.1 1.1h0m0 1.4h0m.3-1.8h0m.1-2.3h0m0 2.5h0m0 2.2h0m.1-4.6h0m.1 3.7h0m0 .7h0m0 .3h0m.2-7.3h0m0 2.4h0m0 1h0m.1-1.5h0m.1 .2h0m0 1.9h0m.1 .1h0m.1 1.2h0m0 .4h0m0 .5h0m.2-1.2h0m.1-2.4h0m0 2.3h0m.1-2.8h0m0 3.5h0m.2-3.8h0m0 3.9h0m.2-5.5h0m0 .8h0m.3 5.3h0m.1-1.7h0m.1-.6h0m.1 1.4h0m.1-1.5h0m.2 .1h0m0 1.4h0m.2-.9h0m.1-2.9h0m.1 3.7h0m1.1 0h0m.1-.5h0" stroke="#2a8ad0" stroke-width="0.6" stroke-linecap="round" fill="none"/><path d="M267.6 94.8h0m1.4 1.7h0m.4 1.4h0m.1-.8h0m0 0h0m.1-.3h0m0 1.2h0m0 .5h0m.1-3.8h0m0 1h0m0 .5h0m0 0h0m0 .6h0m0 .4h0m0 .6h0m.1-2.1h0m0 .2h0m0 2.1h0m.1-2.7h0m0 1.6h0m0 1.2h0m.1-2.3h0m.1-.3h0m0 .3h0m0 2.2h0m.1-3.9h0m0 1.8h0m0 .1h0m0 1.6h0m.1-1.8h0m0 .8h0m0 .1h0m0 .1h0m0 .3h0m0 .3h0m0 .2h0m.1-2.9h0m0 2.3h0m0 .8h0m.1-2.7h0m0 .5h0m0 .3h0m0 1.4h0m.1-3.6h0m0 0h0m0 1.9h0m0 2.6h0m.1-5.7h0m0 1.5h0m0 0h0m.1 .9h0m0 1.7h0m0 1.1h0m0 .4h0m.1-5.1h0m0 1h0m0 .3h0m0 3.4h0m0 .3h0m0 .9h0m.1-6h0m0 1.1h0m0 3h0m0 .1h0m0 1.7h0m0 0h0m.1-7h0m0 1.4h0m0 1.1h0m0 .1h0m0 2.3h0m0 .8h0m.1-5.9h0m0 .5h0m0 .3h0m0 .8h0m0 .2h0m0 .3h0m0 .8h0m0 1.6h0m0 1.3h0m0 .9h0m0 .1h0m.1-4.7h0m0 1.4h0m0 .1h0m.1-3.2h0m0 .6h0m0 1.6h0m0 .6h0m0 .5h0m0 1.4h0m.1-6h0m0 3.9h0m0 2.1h0m0 .3h0m0 1.8h0m.1-7.4h0m0 1.5h0m0 .1h0m0 .2h0m0 1.7h0m.1-3.8h0m0 2.3h0m0 .2h0m0 .3h0m0 0h0m0 .3h0m0 .7h0m0 .1h0m0 3.1h0m.1-8h0m0 1h0m0 .8h0m0 .2h0m0 2.6h0m0 0h0m0 .4h0m0 .6h0m.1-5.8h0m0 2.3h0m0 1.3h0m0 2h0m0 .8h0m.1-4.8h0m0 .4h0m0 1.2h0m.1-4.3h0m0 3h0m0 0h0m0 .7h0m0 .2h0m0 1.9h0m0 .4h0m.1-4.1h0m0 .2h0m0 1h0m0 .2h0m0 .6h0m0 .3h0m0 .1h0m.1-2.7h0m0 .7h0m0 1.4h0m0 .8h0m0 .6h0m.1-5.2h0m0 1.1h0m0 1.3h0m0 1.8h0m.1-3.9h0m0 .3h0m0 1.7h0m0 .4h0m.1-1.1h0m0 .9h0m0 0h0m0 2.9h0m.1-4.6h0m0 .9h0m0 .9h0m0 .9h0m0 .6h0m.1-3.6h0m0 .9h0m0 .7h0m0 .9h0m.1-3.6h0m0 1.5h0m0 1.7h0m0 1.9h0m.1-5.1h0m0 2.5h0m0 1.7h0m.1-5.6h0m0 3.3h0m0 5h0m.1-7.8h0m0 1.8h0m0 3.6h0m.1-3.5h0m0 1h0m0 .3h0m.1-.7h0m0 .8h0m.1-2.2h0m0 1h0m0 .2h0m0 1.1h0m0 1.1h0m0 .1h0m.1-3.9h0m0 .8h0m0 .2h0m0 1.3h0m0 .7h0m.1-3.2h0m0 1.9h0m0 3.6h0m.1-2.1h0m0 0h0m.1-.9h0m.1-2.7h0m0 .3h0m0 1.7h0m0 .3h0m.1-2.3h0m0 1.2h0m.1-2.5h0m0 .9h0m0 2.8h0m0 .3h0m0 .3h0m0 1.1h0m.1-5.4h0m0 3.5h0m.1-3h0m0 1.5h0m0 .3h0m.1-4.7h0m0 3.1h0m0 1.1h0m0 .8h0m.1 .4h0m0 .7h0m.1-5.2h0m0 2.9h0m0 1.9h0m0 2.6h0m.1-4.9h0m0 .8h0m0 1.1h0m.1-4.1h0m0 1.2h0m0 1.9h0m0 1.1h0m.1-4.6h0m0 2.3h0m0 3.1h0m.1-7.6h0m0 3.2h0m0 .7h0m0 .5h0m0 .4h0m0 .7h0m.1-3.3h0m0 .9h0m0 2.2h0m0 .8h0m.1-3h0m0 .6h0m0 1.9h0m.2-3.8h0m0 .1h0m0 .8h0m0 .1h0m.1 1.1h0m.1-3.2h0m.1 1.3h0m0 1.9h0m.1-1.2h0m0 .2h0m0 .8h0m.1-1.6h0m0 3h0m0 .3h0m.1-1.4h0m.1-.9h0m.1-3h0m0 3h0m0 1.4h0m.1-.9h0m.1 0h0m0 .2h0m.1-3h0m0 1.9h0m.1-2.3h0m0 .9h0m0 1.8h0m0 .5h0m.1-1.9h0m0 1.4h0m0 .1h0m.1-.6h0m.1-.1h0m0 1.6h0m.1-3.2h0m.1-1.6h0m0 .5h0m0 4h0m.1-5h0m0 1.1h0m0 2.2h0m0 1.5h0m.1-4.3h0m0 1.5h0m0 2.9h0m.1-4.3h0m0 .6h0m0 .2h0m0 2.6h0m.1-3.3h0m0 .9h0m.1-.3h0m0 .2h0m0 2.2h0m0 .2h0m.1-1.8h0m0 .6h0m0 .3h0m.1 2.3h0m.1-3.2h0m0 .3h0m0 .4h0m0 .3h0m0 .2h0m.1-2.4h0m0 0h0m0 2.1h0m0 .4h0m0 1.1h0m.1-6.4h0m0 1h0m0 1.4h0m0 1h0m0 .8h0m.2 .6h0m.1-3.9h0m0 2.9h0m0 1.5h0m0 .2h0m.1-4.9h0m0 2.6h0m0 .5h0m0 1.7h0m.1-3h0m.2-1.9h0m0 2.8h0m.1-2.2h0m0 2.2h0m0 1h0m.1-3.9h0m0 1.1h0m.1-.6h0m0 2.2h0m0 .1h0m0 .2h0m.2-1h0m0 2.2h0m.1-2.1h0m0 1h0m.1-2.4h0m0 3.2h0m0 .1h0m.1-4.1h0m0 .9h0m.1 .5h0m0 .5h0m0 .8h0m0 .4h0m.1-2.1h0m.1-.1h0m0 1.7h0m0 .2h0m.2-3.7h0m0 2h0m0 0h0m0 1.4h0m0 .2h0m.1-4.5h0m0 2.3h0m0 1h0m0 1.8h0m.1-4.2h0m0 4.3h0m.1-.8h0m0 1.2h0m.1-2h0m.1-4h0m0 .5h0m0 2.5h0m0 1.7h0m0 .3h0m0 .3h0m.1-4.2h0m.1 2.9h0m0 .9h0m.1-3.5h0m0 .3h0m0 1.1h0m.1 1.7h0m.1-1.3h0m.1-.5h0m0 .7h0m.1-2.6h0m0 2.6h0m.1-.4h0m.1-1.8h0m0 2.6h0m.2-1.4h0m0 .3h0m.2-2.8h0m.1 1.4h0m0 .5h0m.1-2.3h0m0 2h0m0 1.2h0m0 .3h0m.1-.7h0m0 .4h0m.1-4h0m0 .7h0m.1 2.1h0m.1-.4h0m.1-.1h0m0 .6h0m0 .2h0m.1-1.5h0m0 .7h0m0 2.3h0m.1-4.2h0m.1 1.2h0m.1 1h0m0 1.4h0m0 1.2h0m.2-3h0m0 2.4h0m.1-5h0m.1 3.5h0m.1-1.3h0m.1 1.4h0m.1-2.6h0m0 2.1h0m.2-.4h0m0 1.8h0m.1-.2h0m.1-4.5h0m.1 1.8h0m0 2.3h0m.1-2.6h0m.1-2.6h0m0 3.6h0m.1-.7h0m.1-.2h0m.1-1.1h0m0 .7h0m0 1.5h0m0 1.4h0m.2-4.3h0m.1 2.2h0m0 .2h0m0 .6h0m.1-.6h0m.1 .5h0m0 .6h0m.1-2.6h0m0 .9h0m.1-.7h0m0 1.4h0m0 .9h0m.1-3.2h0m0 .7h0m0 3h0m.1-1.7h0m.1-2.1h0m0 .5h0m0 .3h0m.1 1.6h0m.1-2.3h0m.1 .6h0m.2 .6h0m.3-2.1h0m0 3.3h0m.1-2.1h0m0 1.5h0m.1 .3h0m.2 .2h0m.1-.2h0m0 .4h0m1.5-1.1h0" stroke="#30c088" stroke-width="0.62" stroke-linecap="round" fill="none"/><path d="M270 96.3h0m.9-2.5h0m0 .6h0m.1-1.1h0m0 1.4h0m0 .3h0m.1 1.5h0m.1-4.7h0m.3 2h0m.1-1.3h0m.1 0h0m.2 2.3h0m.3-1.6h0m.1-1.3h0m0 0h0m0 .6h0m.4 0h0m.1-3h0m.2 2.7h0m.1-2.5h0m.1 1h0m.2 .6h0m.3-1.7h0m0 .9h0m.4-.8h0m.1-1.9h0m.2-1.3h0m.1 .4h0m.3 .5h0m.3-1.5h0m0 1.3h0m.3-1.4h0m.4 .6h0m.4-2.6h0m0 .2h0m0 .4h0m0 2.5h0m.1-.2h0m.2-.8h0m.2-.7h0m.3-1.6h0m.1 1.9h0m.1-.3h0m.1-.8h0m.2-.8h0m.1 1.6h0m.2-2h0m.1 0h0m.3 .6h0m.2-.6h0m1 .3h0m.4-2.1h0m.1 .8h0m.1-.4h0m.2-1.5h0m.8-.7h0m.1 1.2h0m.1-.2h0m.1 .1h0m.4-.5h0m.3-1.1h0m.4 .9h0m.2-.1h0m0 .2h0m.1 .2h0m.3-1.2h0m.3-1h0m0 .5h0m.7-.7h0m.1 1.8h0" stroke="#a4dc3c" stroke-width="0.55" stroke-linecap="round" fill="none"/><text x="288.4" y="158.2" font-size="14" text-anchor="middle" stroke="#000" stroke-width="0.35">wtGFP</text><text x="4.0" y="211.0" font-size="16.5" stroke="#000" stroke-width="0.35">b</text><text x="32.0" y="212.8" font-size="14" stroke="#000" stroke-width="0.35">Screening design</text><ellipse cx="59.8" cy="240.2" rx="4.9" ry="7.5" fill="url(#cellg)" stroke="#1b2f63" stroke-width="1.3"/><ellipse cx="59.8" cy="240.5" rx="4.1" ry="4.6" fill="#4e6c2a" opacity="0.75"/><circle cx="59.8" cy="240.5" r="2.75" fill="#f6f6f6" stroke="#1b2f63" stroke-width="1.15"/><ellipse cx="70.0" cy="247.5" rx="4.9" ry="7.5" fill="url(#cello)" stroke="#1b2f63" stroke-width="1.3"/><ellipse cx="70.0" cy="247.8" rx="4.1" ry="4.6" fill="#ad7c2a" opacity="0.75"/><circle cx="70.0" cy="247.8" r="2.75" fill="#f6f6f6" stroke="#1b2f63" stroke-width="1.15"/><ellipse cx="52.4" cy="253.4" rx="4.7" ry="7.0" fill="url(#cellp)" stroke="#1b2f63" stroke-width="1.3"/><ellipse cx="52.4" cy="253.7" rx="4.1" ry="4.6" fill="#de9484" opacity="0.75"/><circle cx="52.4" cy="253.7" r="2.75" fill="#f6f6f6" stroke="#1b2f63" stroke-width="1.15"/><ellipse cx="62.0" cy="258.4" rx="4.9" ry="7.5" fill="url(#cello)" stroke="#1b2f63" stroke-width="1.3"/><ellipse cx="62.0" cy="258.7" rx="4.1" ry="4.6" fill="#ad7c2a" opacity="0.75"/><circle cx="62.0" cy="258.7" r="2.75" fill="#f6f6f6" stroke="#1b2f63" stroke-width="1.15"/><ellipse cx="72.0" cy="264.6" rx="4.9" ry="7.5" fill="url(#cellp)" stroke="#1b2f63" stroke-width="1.3"/><ellipse cx="72.0" cy="264.9" rx="4.1" ry="4.6" fill="#de9484" opacity="0.75"/><circle cx="72.0" cy="264.9" r="2.75" fill="#f6f6f6" stroke="#1b2f63" stroke-width="1.15"/><ellipse cx="56.0" cy="270.8" rx="4.9" ry="7.5" fill="url(#cellg)" stroke="#1b2f63" stroke-width="1.3"/><ellipse cx="56.0" cy="271.1" rx="4.1" ry="4.6" fill="#4e6c2a" opacity="0.75"/><circle cx="56.0" cy="271.1" r="2.75" fill="#f6f6f6" stroke="#1b2f63" stroke-width="1.15"/><ellipse cx="65.0" cy="277.0" rx="4.9" ry="7.5" fill="url(#cello)" stroke="#1b2f63" stroke-width="1.3"/><ellipse cx="65.0" cy="277.3" rx="4.1" ry="4.6" fill="#ad7c2a" opacity="0.75"/><circle cx="65.0" cy="277.3" r="2.75" fill="#f6f6f6" stroke="#1b2f63" stroke-width="1.15"/><text x="55.0" y="294.0" font-size="11.6" text-anchor="middle" stroke="#000" stroke-width="0.35">Stably transfected</text><text x="54.8" y="307.0" font-size="11.6" text-anchor="middle" stroke="#000" stroke-width="0.35">HEK293 cells</text><polygon points="55.6,321.4 61.3,324.7 61.3,331.3 55.6,334.6 49.9,331.3 49.9,324.7" fill="#959595" stroke="#c4c4c4" stroke-width="1.0" stroke-linejoin="round"/><circle cx="55.6" cy="328.0" r="3.9" fill="#fff" stroke="#c8c8c8" stroke-width="0.5"/><circle cx="55.6" cy="328.0" r="2.5" fill="#1aa04a" stroke="#1b2f63" stroke-width="0.8"/><polygon points="67.4,321.4 73.1,324.7 73.1,331.3 67.4,334.6 61.7,331.3 61.7,324.7" fill="#959595" stroke="#c4c4c4" stroke-width="1.0" stroke-linejoin="round"/><circle cx="67.4" cy="328.0" r="3.9" fill="#fff" stroke="#c8c8c8" stroke-width="0.5"/><circle cx="67.4" cy="328.0" r="2.5" fill="#f4ea1c" stroke="#1b2f63" stroke-width="0.8"/><polygon points="49.0,332.0 54.7,335.3 54.7,341.9 49.0,345.2 43.3,341.9 43.3,335.3" fill="#959595" stroke="#c4c4c4" stroke-width="1.0" stroke-linejoin="round"/><circle cx="49.0" cy="338.6" r="3.9" fill="#fff" stroke="#c8c8c8" stroke-width="0.5"/><circle cx="49.0" cy="338.6" r="2.5" fill="#3a6ad0" stroke="#1b2f63" stroke-width="0.8"/><polygon points="61.4,332.0 67.1,335.3 67.1,341.9 61.4,345.2 55.7,341.9 55.7,335.3" fill="#959595" stroke="#c4c4c4" stroke-width="1.0" stroke-linejoin="round"/><circle cx="61.4" cy="338.6" r="3.9" fill="#fff" stroke="#c8c8c8" stroke-width="0.5"/><circle cx="61.4" cy="338.6" r="2.5" fill="#d8641c" stroke="#1b2f63" stroke-width="0.8"/><polygon points="73.4,332.0 79.1,335.3 79.1,341.9 73.4,345.2 67.7,341.9 67.7,335.3" fill="#959595" stroke="#c4c4c4" stroke-width="1.0" stroke-linejoin="round"/><circle cx="73.4" cy="338.6" r="3.9" fill="#fff" stroke="#c8c8c8" stroke-width="0.5"/><circle cx="73.4" cy="338.6" r="2.5" fill="#d8641c" stroke="#1b2f63" stroke-width="0.8"/><text x="60.0" y="356.4" font-size="11.6" text-anchor="middle" stroke="#000" stroke-width="0.35">Brunello</text><text x="59.8" y="370.4" font-size="11.6" text-anchor="middle" stroke="#000" stroke-width="0.35">CRISPR Library</text><line x1="124.0" y1="301.0" x2="143.5" y2="301.0" stroke="#000" stroke-width="3.2"/><polygon points="152.0,301.0 142.5,305.6 142.5,296.4" fill="#000"/><text x="137.7" y="317.6" font-size="11.6" text-anchor="middle" stroke="#000" stroke-width="0.35">Transduction</text><text x="137.7" y="331.4" font-size="11.6" text-anchor="middle" stroke="#000" stroke-width="0.35">and</text><text x="137.7" y="345.4" font-size="11.6" text-anchor="middle" stroke="#000" stroke-width="0.35">Puromycin</text><text x="137.2" y="359.0" font-size="11.6" text-anchor="middle" stroke="#000" stroke-width="0.35">selection</text><line x1="183.6" y1="289.4" x2="201.3" y2="280.9" stroke="#000" stroke-width="3.2"/><polygon points="209.0,277.2 202.4,285.5 198.4,277.2" fill="#000"/><line x1="184.0" y1="333.4" x2="202.2" y2="341.2" stroke="#000" stroke-width="3.2"/><polygon points="210.0,344.6 199.5,345.1 203.1,336.6" fill="#000"/><line x1="269.0" y1="276.2" x2="287.7" y2="283.8" stroke="#000" stroke-width="3.2"/><polygon points="295.6,287.0 285.1,287.7 288.5,279.2" fill="#000"/><line x1="267.4" y1="343.8" x2="284.4" y2="335.4" stroke="#000" stroke-width="3.2"/><polygon points="292.0,331.6 285.5,339.9 281.4,331.7" fill="#000"/><text x="245.3" y="238.4" font-size="11.6" text-anchor="middle" stroke="#000" stroke-width="0.35">0.5% cells</text><text x="245.3" y="252.0" font-size="11.6" text-anchor="middle" stroke="#000" stroke-width="0.35">(highest GFP:mCherry)</text><rect x="225.0" y="257.2" width="38.6" height="38.4" fill="#fff" stroke="#b4b4b4" stroke-width="0.6"/><line x1="225.0" y1="257.2" x2="225.0" y2="295.6" stroke="#666" stroke-width="0.6"/><line x1="225.0" y1="295.6" x2="263.6" y2="295.6" stroke="#666" stroke-width="0.6"/><text x="222.8" y="262.6" font-size="3.4" text-anchor="end" font-weight="bold" fill="#111">10<tspan dy="-1.5" font-size="2.6">5</tspan></text><text x="222.8" y="271.8" font-size="3.4" text-anchor="end" font-weight="bold" fill="#111">10<tspan dy="-1.5" font-size="2.6">4</tspan></text><text x="222.8" y="282.5" font-size="3.4" text-anchor="end" font-weight="bold" fill="#111">10<tspan dy="-1.5" font-size="2.6">3</tspan></text><text x="221.4" y="288.2" font-size="3.4" text-anchor="end" font-weight="bold" fill="#111">0</text><text x="222.8" y="294.9" font-size="3.4" text-anchor="end" font-weight="bold" fill="#111">-10<tspan dy="-1.5" font-size="2.6">3</tspan></text><text x="226.0" y="301.4" font-size="3.4" font-weight="bold" fill="#111">-10<tspan dy="-1.5" font-size="2.6">3</tspan></text><text x="232.2" y="301.4" font-size="3.4" font-weight="bold" fill="#111">0</text><text x="240.0" y="301.4" font-size="3.4" font-weight="bold" fill="#111">10<tspan dy="-1.5" font-size="2.6">3</tspan></text><text x="250.0" y="301.4" font-size="3.4" font-weight="bold" fill="#111">10<tspan dy="-1.5" font-size="2.6">4</tspan></text><text x="258.0" y="301.4" font-size="3.4" font-weight="bold" fill="#111">10<tspan dy="-1.5" font-size="2.6">5</tspan></text><path d="M223.8 259.2h1.2M227.0 295.6v1.2M223.8 261.9h1.2M229.7 295.6v1.2M223.8 264.6h1.2M232.4 295.6v1.2M223.8 267.3h1.2M235.1 295.6v1.2M223.8 270.0h1.2M237.8 295.6v1.2M223.8 272.7h1.2M240.5 295.6v1.2M223.8 275.4h1.2M243.2 295.6v1.2M223.8 278.1h1.2M245.9 295.6v1.2M223.8 280.8h1.2M248.6 295.6v1.2M223.8 283.5h1.2M251.3 295.6v1.2M223.8 286.2h1.2M254.0 295.6v1.2M223.8 288.9h1.2M256.7 295.6v1.2M223.8 291.6h1.2M259.4 295.6v1.2M223.8 294.3h1.2M262.1 295.6v1.2" stroke="#555" stroke-width="0.4"/><text x="213.2" y="276.5" font-size="3.6" text-anchor="middle" font-weight="bold" fill="#333" transform="rotate(-90 213.2 276.5)">mCherry-A</text><text x="244.2" y="307.6" font-size="3.7" text-anchor="middle" font-weight="bold" fill="#333">GFP-A</text><path d="M232 276h0m.5 2.6h0m0 .2h0m.3-.5h0m.2-.4h0m.2-4.7h0m.2 2.6h0m.2-4.1h0m0 3.4h0m.1-.6h0m0 1.6h0m0 1.1h0m0 .3h0m0 1.1h0m.1-1.7h0m0 1.8h0m.1-1h0m.1-3.4h0m0 1.4h0m.1-.1h0m0 3.3h0m0 .2h0m.1-4.4h0m0 2.7h0m.1-3.5h0m0 .7h0m0 .7h0m.1-3.2h0m.1 4.1h0m0 2.2h0m.1-6.5h0m0 3.5h0m0 1h0m0 1.5h0m0 .9h0m0 .8h0m.1-7.3h0m0 4.5h0m.1-2.4h0m0 .5h0m0 3.5h0m0 .3h0m.1-2.4h0m0 .4h0m.1-3.2h0m0 .6h0m0 .8h0m0 .9h0m.1-4.4h0m0 1.2h0m0 1.1h0m.1-1.5h0m0 3.1h0m0 1.9h0m0 2h0m.1-11.4h0m0 6.7h0m.1-1.4h0m.1 1.7h0m0 2.4h0m.1-4.1h0m0 1.8h0m0 .4h0m0 1.7h0m.1-5.3h0m0 .8h0m0 2.3h0m0 .7h0m0 1.2h0m.1-6.2h0m0 2.5h0m0 4.2h0m.1-7.1h0m0 2.9h0m0 3.7h0m.1-5.8h0m0 .2h0m0 .3h0m0 3.5h0m.1-2h0m0 1.6h0m.1-4.1h0m.2 .2h0m0 .4h0m0 1.8h0m0 3.2h0m.1-4.7h0m0 2.9h0m0 .1h0m.1-7.2h0m0 6.1h0m.1-1.5h0m.1-2.2h0m0 1.2h0m0 .4h0m0 2h0m.1-5.5h0m0 1.5h0m0 5.4h0m0 .2h0m.1-5.3h0m0 1.2h0m0 .6h0m0 2.6h0m0 1h0m.1-4.7h0m0 4h0m0 .1h0m0 .3h0m.1-5.2h0m0 1.7h0m0 2.2h0m0 .3h0m0 .1h0m.1-4.8h0m0 1.2h0m0 .3h0m0 .2h0m0 1.2h0m.1 .1h0m0 .1h0m0 1.4h0m.1-2.5h0m0 .1h0m0 2.2h0m0 .9h0m.1-4.8h0m.1 .5h0m0 4.3h0m.1-6.3h0m0 6.1h0m.1-7.6h0m0 3.4h0m0 3.7h0m.1-.9h0m0 1.5h0m0 1.3h0m.1-5.1h0m0 1.2h0m0 2.1h0m0 1.7h0m.1-5.1h0m0 .1h0m0 2.5h0m.1-3.4h0m.1 .3h0m.1-1.7h0m0 .4h0m0 3.5h0m.1-4.5h0m0 2.1h0m0 .7h0m0 .1h0m0 2.5h0m.2-5h0m0 .6h0m0 .5h0m0 0h0m0 .9h0m0 1h0m.1-2.6h0m0 1.4h0m0 2.5h0m0 1.8h0m.1-5.3h0m0 2.1h0m0 .1h0m.1-1.4h0m0 .1h0m0 2.5h0m.1-1.3h0m.1-5.5h0m0 4.6h0m0 .2h0m0 .8h0m.1-3.9h0m0 2h0m0 .5h0m0 1.1h0m0 .8h0m0 .5h0m.2-4.4h0m0 2.6h0m0 1.1h0m0 .6h0m0 .4h0m.1-.8h0m.2-4.3h0m.1-.2h0m.1 .1h0m0 1h0m0 .3h0m.2 2.3h0m0 .7h0m.1-3.5h0m0 1.5h0m.1-1.7h0m0 1.9h0m.1-2.3h0m0 3.1h0m0 .5h0m0 .4h0m.1-5h0m0 5.5h0m.1 .2h0m.1-5.8h0m0 2.5h0m.1-3.2h0m0 2.2h0m0 .6h0m0 1.4h0m0 .9h0m.1-3.5h0m.1-1.2h0m0 3.1h0m0 .7h0m0 1.2h0m.1-3.9h0m0 1h0m0 2.6h0m.1-4.7h0m0 3h0m.1-3.3h0m0 .9h0m0 1.3h0m0 2.6h0m.1-4.2h0m0 2.7h0m0 .3h0m.2-1.5h0m0 .3h0m.2 .6h0m.1-1.5h0m0 .9h0m0 2.7h0m.1-4.8h0m0 3h0m0 .5h0m.1-3.9h0m0 1h0m0 2.2h0m.3-1.6h0m0 .6h0m.1-2.3h0m0 2h0m0 1h0m0 .1h0m0 .1h0m.1-.4h0m0 2.1h0m.1-2.6h0m.1-.2h0m0 .8h0m.3-2h0m0 .8h0m.3 2.8h0m.2-1h0m.2-1.8h0m0 .9h0m.6-.4h0" stroke="#3a52d8" stroke-width="0.45" stroke-linecap="round" fill="none"/><path d="M233.5 277.8h0m0 .3h0m.1-.4h0m.1-.2h0m0 .6h0m.1-.7h0m0 .3h0m.1-1h0m.1 .7h0m.1-1.9h0m0 1.2h0m0 1.4h0m.1-3h0m0 1.5h0m0 .3h0m0 .5h0m.1-2.6h0m0 .6h0m0 .2h0m.1 0h0m0 .3h0m0 1.7h0m0 .5h0m.1-2.2h0m0 .3h0m0 1.8h0m.1-3.7h0m0 1.2h0m0 2.2h0m.1-2.9h0m0 .2h0m0 .9h0m.1-.8h0m0 2.6h0m0 .6h0m0 .9h0m.1-4h0m0 0h0m.1-1.7h0m0 .1h0m0 1.2h0m0 .1h0m.1-1.7h0m0 .5h0m0 .5h0m0 .2h0m0 .6h0m0 1.5h0m0 .3h0m.1-5.5h0m0 2.5h0m0 0h0m0 .4h0m0 .1h0m.1-.3h0m0 0h0m0 1.2h0m.2-2.1h0m0 1.2h0m0 2.5h0m.1-2.7h0m0 .7h0m.1-.7h0m0 1.3h0m.1-3.1h0m0 1h0m0 1.6h0m.1 .2h0m.1-2.1h0m.1-1h0m0 .7h0m0 .5h0m0 0h0m0 .4h0m0 1.2h0m0 .2h0m.1-2.2h0m0 0h0m0 .6h0m0 .4h0m.1-1.6h0m0 .5h0m0 1.2h0m.1-2h0m0 2.2h0m0 .3h0m0 0h0m.1-3h0m0 .6h0m0 2.3h0m.1-2.7h0m0 1.5h0m0 .4h0m0 .5h0m.1-2.7h0m0 .1h0m.1 .5h0m0 .6h0m0 .8h0m0 .1h0m.1-.4h0m0 .3h0m0 1.1h0m.2-2.8h0m0 .1h0m.1-.3h0m0 0h0m.1-1h0m0 .2h0m.1-.1h0m0 1.6h0m0 .4h0m.1-2.7h0m.1 1.5h0m0 1.2h0m.1-1.9h0m0 .4h0m.1-.7h0m0 1.2h0m0 .3h0m.1-2h0m0 .2h0m0 .7h0m0 1.1h0m0 .2h0m.1-2.6h0m0 1.5h0m0 1.3h0m.1-3.7h0m0 1.5h0m0 .1h0m.1-.1h0m0 .2h0m0 .1h0m0 .2h0m.1-.3h0m0 1.7h0m.1-2.2h0m.1 .9h0m0 1.5h0m.1-1h0m.1-2.6h0m.1 1.3h0m0 1h0m0 0h0m.1-2.6h0m0 0h0m0 .6h0m0 1.1h0m0 .5h0m.1-1.4h0m0 .8h0m0 .4h0m.1-2h0m0 .4h0m0 .6h0m0 .6h0m0 .1h0m0 1h0m.1-.6h0m.1-1.3h0m.1-1.2h0m0 1.2h0m0 .2h0m0 .2h0m.1-.5h0m0 .4h0m0 .1h0m.1-1.4h0m0 .8h0m0 1.2h0m.2-1.8h0m.1 .1h0m0 1.1h0m0 .1h0m0 .2h0m0 .7h0m.1-2.6h0m0 .4h0m0 .8h0m0 .7h0m.1-2.1h0m0 1h0m.1-.4h0m0 .3h0m0 .5h0m0 .1h0m.1-2h0m0 1.5h0m0 .4h0m.1-1.2h0m0 .4h0m0 .7h0m.4 .8h0m.2-1h0m.2 .1h0m0 .1h0m.1 0h0m.4-.9h0m0 1.2h0" stroke="#2aa8a0" stroke-width="0.5" stroke-linecap="round" fill="none"/><path d="M234.3 276.3h0m.2-.1h0m.1-.4h0m0 .5h0m.3-1.5h0m0 1.1h0m.1-1.6h0m.1 .6h0m0 .4h0m0 .1h0m.1-.9h0m0 .9h0m.1-1h0m0 .6h0m.1-1.6h0m0 .5h0m0 .5h0m0 .9h0m.1-1.6h0m0 .6h0m.1 .2h0m.2-1.1h0m0 1.2h0m0 .2h0m.1-.8h0m0 .7h0m.2-1.8h0m0 .3h0m.1 .2h0m0 .2h0m0 .5h0m.1-1.4h0m0 .2h0m0 .2h0m.1-.3h0m0 .1h0m0 0h0m.1-.4h0m.1-.2h0m.1 .3h0m0 .5h0m.1-1.5h0m0 .8h0m0 .2h0m0 .1h0m0 .2h0m0 1h0m.1-2h0m0 .8h0m0 .8h0m.1-1.4h0m0 .1h0m0 .1h0m.1-1.1h0m.1 .2h0m0 .3h0m0 .3h0m.1-.7h0m.1-.9h0m0 1.4h0m0 .2h0m0 .2h0m0 .4h0m.1-2.1h0m.1-.1h0m0 1.4h0m.1-.7h0m.1-.5h0m0 .2h0m0 .7h0m.1-1h0m0 .1h0m.1-.2h0m.1-.1h0m.1-.3h0m0 .6h0m0 .1h0m.2 .5h0m.1-1.3h0m0 .4h0m0 .1h0m0 .2h0m0 .2h0m.1-1.3h0m0 1.1h0m0 .2h0m.8-1.4h0m0 .8h0m.1-.1h0m.3-.4h0" stroke="#8ad040" stroke-width="0.5" stroke-linecap="round" fill="none"/><path d="M234 281.2H261V265.6Q252 266 246 268Q240 271 234 281.2Z" fill="none" stroke="#444" stroke-width="0.45"/><text x="248.6" y="271.9" font-size="2.8" text-anchor="middle" font-weight="bold" fill="#222">sort1</text><text x="248.6" y="276.5" font-size="2.8" text-anchor="middle" font-weight="bold" fill="#222">0.51</text><text x="244.3" y="317.6" font-size="11.6" text-anchor="middle" stroke="#000" stroke-width="0.35">Sorted</text><ellipse cx="236.4" cy="335.0" rx="5" ry="6.6" fill="url(#cellg)" stroke="#1b2f63" stroke-width="1.3"/><ellipse cx="236.4" cy="335.3" rx="4.1" ry="4.6" fill="#4e6c2a" opacity="0.75"/><circle cx="236.4" cy="335.3" r="2.75" fill="#d8641c" stroke="#1b2f63" stroke-width="1.15"/><ellipse cx="246.6" cy="340.6" rx="5" ry="6.6" fill="url(#cello)" stroke="#1b2f63" stroke-width="1.3"/><ellipse cx="246.6" cy="340.9" rx="4.1" ry="4.6" fill="#ad7c2a" opacity="0.75"/><circle cx="246.6" cy="340.9" r="2.75" fill="#3a6ad0" stroke="#1b2f63" stroke-width="1.15"/><ellipse cx="229.0" cy="346.0" rx="5" ry="6.4" fill="url(#cellp)" stroke="#1b2f63" stroke-width="1.3"/><ellipse cx="229.0" cy="346.3" rx="4.1" ry="4.6" fill="#de9484" opacity="0.75"/><circle cx="229.0" cy="346.3" r="2.75" fill="#3a6ad0" stroke="#1b2f63" stroke-width="1.15"/><ellipse cx="238.6" cy="349.6" rx="5" ry="6.6" fill="url(#cello)" stroke="#1b2f63" stroke-width="1.3"/><ellipse cx="238.6" cy="349.9" rx="4.1" ry="4.6" fill="#ad7c2a" opacity="0.75"/><circle cx="238.6" cy="349.9" r="2.75" fill="#d8641c" stroke="#1b2f63" stroke-width="1.15"/><ellipse cx="248.4" cy="356.0" rx="5" ry="6.6" fill="url(#cellp)" stroke="#1b2f63" stroke-width="1.3"/><ellipse cx="248.4" cy="356.3" rx="4.1" ry="4.6" fill="#de9484" opacity="0.75"/><circle cx="248.4" cy="356.3" r="2.75" fill="#1aa04a" stroke="#1b2f63" stroke-width="1.15"/><ellipse cx="232.6" cy="360.6" rx="5" ry="6.6" fill="url(#cellg)" stroke="#1b2f63" stroke-width="1.3"/><ellipse cx="232.6" cy="360.9" rx="4.1" ry="4.6" fill="#4e6c2a" opacity="0.75"/><circle cx="232.6" cy="360.9" r="2.75" fill="#f4ea1c" stroke="#1b2f63" stroke-width="1.15"/><ellipse cx="241.6" cy="366.6" rx="5" ry="6.6" fill="url(#cello)" stroke="#1b2f63" stroke-width="1.3"/><ellipse cx="241.6" cy="366.9" rx="4.1" ry="4.6" fill="#ad7c2a" opacity="0.75"/><circle cx="241.6" cy="366.9" r="2.75" fill="#1aa04a" stroke="#1b2f63" stroke-width="1.15"/><text x="242.6" y="386.0" font-size="11.6" text-anchor="middle" stroke="#000" stroke-width="0.35">Unsorted</text><text x="322.0" y="281.6" font-size="11.6" text-anchor="middle" stroke="#000" stroke-width="0.35">NGS,</text><text x="322.0" y="295.6" font-size="11.6" text-anchor="middle" stroke="#000" stroke-width="0.35">identify</text><text x="322.0" y="309.6" font-size="11.6" text-anchor="middle" stroke="#000" stroke-width="0.35">enriched</text><text x="322.0" y="323.6" font-size="11.6" text-anchor="middle" stroke="#000" stroke-width="0.35">sgRNA</text><text x="3.0" y="418.4" font-size="16.5" stroke="#000" stroke-width="1.0">c</text><polygon points="76.8,591.3 76.8,572.2 78.1,570.4 79.4,571.4 80.7,570.0 82.0,569.9 83.3,573.2 84.6,573.5 85.9,568.7 87.2,572.1 88.5,572.2 89.8,567.8 91.1,570.8 92.4,568.7 93.7,570.8 95.0,569.8 96.3,572.7 97.6,569.9 98.9,568.5 100.2,570.5 101.5,569.2 102.8,569.6 104.1,573.2 105.4,569.1 106.7,570.1 108.0,571.8 109.3,573.4 110.6,568.5 111.9,570.8 113.2,569.4 114.5,568.4 115.8,569.4 117.1,568.2 118.4,571.3 119.7,568.9 121.0,571.0 122.3,568.1 123.6,568.4 124.9,573.0 126.2,572.8 127.5,572.3 128.8,567.9 130.1,571.0 131.4,569.9 132.7,571.8 134.0,570.6 135.3,571.3 136.6,571.5 137.9,570.1 139.2,570.2 140.5,568.3 141.8,569.6 143.1,568.1 144.4,568.6 145.7,567.8 147.0,569.6 148.3,572.6 149.6,568.5 150.9,567.9 152.2,568.3 153.5,570.2 154.8,569.4 156.1,572.3 157.4,568.7 158.7,570.2 160.0,571.9 161.3,573.2 162.6,568.6 163.9,567.8 165.2,573.0 166.5,568.9 167.8,571.2 169.1,572.7 170.4,571.9 171.7,569.1 173.0,568.5 174.3,573.3 175.6,570.0 176.9,573.3 178.2,569.4 179.5,571.6 180.8,568.4 182.1,567.8 183.4,570.6 184.7,567.7 186.0,571.8 187.3,573.1 188.6,570.1 189.9,573.4 191.2,572.4 192.5,571.2 193.8,570.0 195.1,572.7 196.4,573.3 197.7,568.5 199.0,571.7 200.3,568.0 201.6,568.3 202.9,571.4 204.2,570.9 205.5,570.5 206.8,569.8 208.1,570.1 209.4,570.3 210.7,569.9 212.0,568.1 213.3,570.6 214.6,571.0 215.9,569.4 217.2,572.2 218.5,571.8 219.8,567.9 221.1,570.5 222.4,570.4 223.7,573.5 225.0,571.1 226.3,570.2 227.6,573.4 228.9,570.0 230.2,569.9 231.5,573.2 232.8,569.9 234.1,570.8 235.4,569.6 236.7,571.5 238.0,569.4 239.3,569.3 240.6,573.4 241.9,573.2 243.2,569.6 244.5,567.9 245.8,572.1 247.1,570.9 248.4,570.1 249.7,571.7 251.0,571.4 252.3,571.7 253.6,571.4 254.9,570.1 256.2,571.8 257.5,571.4 258.8,569.1 260.1,573.4 261.4,570.2 262.7,569.3 264.0,571.8 265.3,572.3 266.6,568.9 267.9,572.2 269.2,572.5 270.5,571.0 271.8,569.5 273.1,573.0 274.4,571.7 275.7,571.6 277.0,568.7 278.3,571.0 279.6,568.6 280.9,572.6 282.2,571.6 283.5,569.8 284.8,568.4 286.1,570.9 287.4,572.3 288.7,572.9 290.0,570.5 291.3,572.5 292.6,568.9 293.9,568.7 295.2,572.5 296.5,571.9 297.8,568.9 299.1,569.8 300.4,568.9 301.7,571.5 303.0,572.8 304.3,571.9 305.6,568.9 306.9,572.0 308.2,571.5 309.5,571.1 310.8,571.1 312.1,571.2 313.4,568.2 314.7,572.7 316.0,573.5 317.3,568.1 318.6,568.4 319.9,567.8 321.2,571.0 322.5,568.0 323.8,568.1 325.1,572.3 325.2,591.3" fill="#a2a2a6"/><path d="M76.8 561.8h0m0 10.9h0m0 1.1h0m.2-1h0m0 1.4h0m.1-1.3h0m0 1h0m.1-8.2h0m0 0h0m0 1.7h0m0 .7h0m0 3.9h0m0 .4h0m.1-8.2h0m0 2.1h0m0 .2h0m0 1.8h0m0 1.4h0m0 4.4h0m.1-16.1h0m0 6.6h0m0 5.1h0m0 2.3h0m0 1h0m0 .4h0m.1-8.4h0m0 1.1h0m0 5.8h0m0 .1h0m.1-22.6h0m0 1.1h0m0 18.1h0m0 .7h0m0 .5h0m0 4.2h0m0 .5h0m.1-8.1h0m0 4.1h0m.1 2.9h0m.1-6.2h0m0 6.4h0m0 .7h0m.1-3.7h0m0 1h0m0 .1h0m.1-7.2h0m0 8.4h0m.1-8.1h0m.1-9.7h0m0 7.2h0m0 8.2h0m0 2.7h0m.1-1.4h0m.1-7h0m0 7.1h0m0 2h0m.1-9.6h0m0 4.4h0m0 3.3h0m.1-8.8h0m0 1h0m0 1.4h0m0 5.8h0m.1 .7h0m.1-3.1h0m0 5.1h0m0 .3h0m.1-5.7h0m0 2.8h0m0 .5h0m0 .5h0m.1-10.6h0m0 5.2h0m0 2.2h0m0 3.7h0m0 1.2h0m0 0h0m.1-22.4h0m0 13h0m0 7.8h0m0 0h0m0 .2h0m0 .3h0m.1-7.9h0m0 2.9h0m0 5.5h0m0 .1h0m.1-14.6h0m0 3.4h0m0 8.9h0m0 .2h0m0 0h0m0 .3h0m.1-11.7h0m0 9.5h0m0 1.5h0m0 1.2h0m.1-18.2h0m0 13.9h0m0 1.3h0m0 3.7h0m0 .2h0m.1-9.4h0m0 8.1h0m.1-8.2h0m.1 10.4h0m.1-9.5h0m0 7.9h0m0 .8h0m0 1.1h0m.1-26.9h0m0 25.9h0m.1-6h0m0 4.2h0m0 .7h0m0 1.9h0m.1-10.9h0m0 8.3h0m.1 1.7h0m.1-4h0m.1-.9h0m0 .1h0m0 3.1h0m0 .3h0m.1-6.6h0m0 1.8h0m0 6.2h0m.1-28.8h0m0 28.2h0m0 1h0m.1-2.5h0m0 .4h0m0 1.8h0m0 .2h0m.3-2.4h0m.1-6.8h0m0 .4h0m0 4.7h0m0 1.6h0m0 1.6h0m.1-27.5h0m0 24h0m0 3.9h0m0 .2h0m0 .6h0m.1-9.3h0m0 3.2h0m0 3.6h0m0 .2h0m.1-8.6h0m0 2.7h0m0 7.4h0m.1-12.5h0m0 2.5h0m0 1.2h0m0 6.2h0m.1-29.7h0m0 17.5h0m0 8.1h0m0 .6h0m0 5.1h0m.1-.4h0m.1 .6h0m0 .6h0m.1-6.3h0m.1 4h0m0 3.5h0m.1-30.2h0m0 18.2h0m0 4.2h0m0 1.3h0m.1-.5h0m0 .7h0m0 5.2h0m.1-.4h0m0 0h0m0 .3h0m0 1.5h0m.1-7h0m0 6.8h0m.1-30.1h0m0 .2h0m0 26.9h0m0 3.2h0m.1-20.7h0m0 15.7h0m0 1.6h0m0 3.4h0m.1-7h0m.1-18.9h0m0 14.1h0m0 7.5h0m.1-6.9h0m0 5.6h0m0 1.9h0m0 .5h0m0 1h0m.1-4h0m0 3.4h0m0 .8h0m0 2h0m.1-35.8h0m0 34.8h0m.1-8.9h0m0 5.9h0m.1-7h0m0 .9h0m0 1.4h0m.1 8.3h0m.1-6h0m.1 0h0m0 1h0m0 2.8h0m0 .7h0m0 .1h0m.2-12.4h0m0 12.3h0m.1-7.1h0m0 1.2h0m0 2.3h0m0 2.7h0m.1-2.7h0m0 3.1h0m.1-2.1h0m0 .6h0m0 1h0m.1-8.4h0m0 .3h0m0 8.7h0m.1-12.3h0m.1 5.7h0m0 2.7h0m0 .7h0m0 2.6h0m.1-9.1h0m0 11h0m0 0h0m.1-10.3h0m.1 7.8h0m.1-6h0m0 8.3h0m.1-15.5h0m.1 2.5h0m0 6.4h0m0 4.4h0m0 2.3h0m0 .2h0m.1-22.1h0m0 14.1h0m0 5.4h0m0 0h0m0 1h0m0 2.3h0m.1-8.8h0m.1-13.8h0m0 7.9h0m.1 5.5h0m.1-2.6h0m0 9.3h0m0 1.7h0m0 1.1h0m.1-2h0m.1 1.3h0m.1 .6h0m0 .1h0m.1-10.8h0m0 1.5h0m0 4.6h0m0 3.4h0m0 1.2h0m.1-1.1h0m.1-3.3h0m0 2.8h0m0 .2h0m0 .7h0m.1-5.2h0m0 1.7h0m0 2.8h0m.1-8.3h0m.1 8.1h0m.1-8.1h0m0 4.1h0m0 3.4h0m0 1.1h0m.1-1.2h0m.1 1.1h0m.1-2h0m.1-9h0m0 1.2h0m0 2h0m0 5.8h0m0 2.1h0m.1-9.9h0m0 2.8h0m0 6.6h0m0 .2h0m0 .3h0m0 .5h0m.1-10.5h0m0 .7h0m.1 7.7h0m0 1.7h0m.1-2.6h0m.1-13.9h0m0 8.7h0m0 3h0m.1 1.9h0m.1-5.9h0m0 4.7h0m0 2.1h0m0 1.1h0m.1-22h0m0 17.4h0m0 1.7h0m0 4.3h0m.1 .1h0m.1-15.7h0m0 9.9h0m0 5.1h0m.1-15.4h0m0 12.8h0m0 .2h0m0 .1h0m0 .6h0m0 .7h0m0 2h0m.1-8.2h0m0 3.7h0m0 2h0m0 2.1h0m.1-29.9h0m0 9.7h0m0 2h0m0 18.3h0m.1-3.8h0m.1 .5h0m0 2.5h0m.1-11.1h0m0 5.3h0m0 3.9h0m0 1.6h0m.1-21.2h0m0 16.1h0m.1-8.5h0m0 3.9h0m0 6.9h0m0 .2h0m0 2.9h0m.1-9.2h0m0 .5h0m0 6.4h0m.1 3h0m.1-19h0m0 8.2h0m0 9.5h0m0 .6h0m.1-8.7h0m0 2.8h0m0 0h0m0 3.7h0m.2-.5h0m0 1.9h0m0 1.3h0m.1-2.8h0m0 .2h0m.1-4.2h0m0 2.9h0m0 .3h0m0 3.1h0m.1-21.9h0m0 12.8h0m0 1.1h0m0 1.2h0m0 2.6h0m0 1.1h0m0 3.6h0m0 0h0m.2-4.7h0m0 4.8h0m.1-2h0m0 .7h0m0 1.1h0m.1-3.2h0m0 .1h0m.1-3.8h0m0 5.3h0m.1-24.8h0m0 1.3h0m0 22h0m0 1h0m.1-.5h0m0 .2h0m0 3.1h0m.1-7.5h0m.1-3h0m0 1.4h0m0 2.1h0m0 1.4h0m0 1.9h0m.1-2.3h0m0 2.6h0m.1-2.4h0m0 1.5h0m0 2h0m0 .8h0m0 .6h0m.1-7.2h0m.1-8.6h0m0 15.4h0m.2-2.5h0m.1-6.5h0m0 9.2h0m.1-5.4h0m0 6.2h0m.1-16.5h0m0 .4h0m0 11.1h0m0 3.1h0m0 .6h0m0 1.1h0m.1-3.1h0m0 1.5h0m.1-5.3h0m0 5.8h0m.1-7.9h0m0 3.6h0m0 .1h0m0 .7h0m.1-3.8h0m0 .7h0m0 4.8h0m0 3.1h0m.1-9.5h0m0 1.1h0m0 .2h0m0 .7h0m0 6.6h0m0 1.4h0m.1-11.6h0m0 8.9h0m0 .3h0m0 .2h0m.1-1.8h0m0 1h0m0 2.4h0m.1-1.3h0m0 .1h0m0 1h0m.1-2.8h0m0 1.1h0m.1-3.1h0m0 1.5h0m0 2.3h0m0 1.4h0m.1-15.7h0m0 11.1h0m.1-1.9h0m0 5.3h0m0 .4h0m.1-24.6h0m0 22.8h0m0 .7h0m.2-7.9h0m.1-27.9h0m0 30.8h0m0 .8h0m0 .6h0m.1-5.5h0m0 8h0m0 1.7h0m0 1.5h0m.1-1.3h0m.1-15.7h0m0 11.2h0m0 5.2h0m0 .3h0m0 .3h0m0 .1h0m.1-3.8h0m.1 1.3h0m.1-14.9h0m0 6.1h0m0 6.2h0m.1 1.8h0m.2-6.8h0m0 4.9h0m0 .1h0m0 3.2h0m.1-6.9h0m0 5.2h0m.1 1.1h0m.1-1.8h0m0 .4h0m0 3h0m.1 1h0m.1-18.2h0m0 7h0m.1 2.3h0m.1-26.2h0m0 10.4h0m0 17.2h0m0 5.4h0m0 1.5h0m.1-8.8h0m0 7h0m.1-2h0m0 3.6h0m.1-11.6h0m0 .5h0m0 4.6h0m0 2.7h0m.1-.5h0m0 .3h0m0 .7h0m.2-1.9h0m.1 5.2h0m.1-14.1h0m0 10.8h0m0 .1h0m0 3.7h0m.1-9.2h0m0 1.7h0m0 4.7h0m0 .8h0m.1-10.3h0m0 11h0m.1-1.5h0m0 1.3h0m0 1.6h0m.1-1.3h0m.1-3h0m0 3.3h0m.1-19.6h0m0 15.4h0m0 4.1h0m0 1.3h0m.1-4.2h0m0 .2h0m0 0h0m.1-12.1h0m0 15.1h0m.1-28.5h0m0 28.8h0m.1-25.5h0m0 12.6h0m0 7h0m0 4h0m0 1.1h0m.2 1.4h0m.1-2.8h0m.1-3.6h0m0 .6h0m0 3.4h0m0 2.5h0m.1-.4h0m.1-7.8h0m0 3.3h0m0 3.6h0m.1-13.8h0m0 2.2h0m0 7h0m0 5.1h0m.1-28.7h0m0 21.7h0m0 4.5h0m0 1.7h0m.1-11.7h0m0 4.6h0m0 7.3h0m0 .2h0m.1-31.8h0m0 25.1h0m0 4.4h0m0 .6h0m0 1.3h0m0 .9h0m.1-.5h0m.1-6.6h0m0 3.5h0m0 1.7h0m0 2h0m0 .5h0m.1-18.8h0m0 12h0m0 1.9h0m0 2.8h0m0 2h0m0 .1h0m.1-4.9h0m0 .6h0m0 1.8h0m0 2.1h0m.1-13.6h0m0 5.8h0m0 4.8h0m.1-13.9h0m0 12h0m0 3h0m.2-2h0m0 2.9h0m.1-1.5h0m.1-7.1h0m0 .6h0m.1-16.3h0m0 7.7h0m0 11.8h0m0 5.8h0m.1-22.5h0m0 11.2h0m0 5.8h0m0 3.3h0m.1-6.4h0m0 5h0m0 3.4h0m0 .5h0m.1-2h0m0 1.6h0m0 .1h0m0 .2h0m0 .3h0m.1-8.5h0m0 2.8h0m0 4.2h0m.1-4.7h0m0 3h0m0 2.1h0m.2-7.5h0m.1-.8h0m.1-2.6h0m0 1.7h0m0 8.3h0m.1-12.1h0m0 .5h0m0 6.6h0m0 4.5h0m0 .1h0m0 .2h0m0 .9h0m.1-.7h0m0 .5h0m0 .5h0m.1-.7h0m0 .3h0m.2-14.3h0m0 11h0m0 0h0m0 1.6h0m0 2h0m.1-4.4h0m0 4.3h0m.1-21.4h0m.1 8.4h0m.1-.1h0m0 7.6h0m0 .4h0m0 1.4h0m0 1.2h0m0 .3h0m0 3.4h0m.1-17.6h0m.1 10.5h0m0 4h0m.1-9.2h0m0 4.1h0m0 4.8h0m.1-1.3h0m0 3h0m.1-12h0m.1 7.3h0m0 4.4h0m0 1.4h0m.2-14.8h0m0 7.1h0m0 2.7h0m0 3.8h0m0 .4h0m.1-3.3h0m0 .4h0m0 3.2h0m.2-20h0m0 6.5h0m0 8.6h0m0 3.6h0m0 1.6h0m.1-4.1h0m.1-.1h0m0 4.3h0m.1-5.1h0m.1-3.6h0m0 .4h0m0 3.4h0m.1 1.9h0m0 .6h0m.1-8h0m0 4.6h0m0 4.3h0m.1-5.6h0m0 7.4h0m.1-16.7h0m0 17h0m.1-18.5h0m.1 13.8h0m0 1.9h0m0 2.7h0m.1-13.2h0m0 2.3h0m0 7.6h0m.1-5.9h0m0 2h0m0 3.2h0m0 3.3h0m.1-6.6h0m0 2.4h0m0 2.3h0m.1-3.1h0m0 3h0m.1-4.9h0m.1 .2h0m0 3.4h0m0 2.1h0m0 1.1h0m.1-34.1h0m0 25.4h0m0 4.2h0m0 4.1h0m.1 .8h0m.2-8.5h0m0 4h0m0 0h0m0 .5h0m0 3.8h0m.1-4.2h0m0 4.8h0m0 .1h0m.1-32.7h0m0 19.3h0m0 2.6h0m0 2.6h0m0 6.2h0m0 1.2h0m.1-2.6h0m.1-20.7h0m0 .1h0m0 14.3h0m0 7.3h0m.1-3h0m0 3.1h0m0 2h0m.1-10.2h0m0 9.1h0m.1-8.9h0m0 9.9h0m0 .2h0m.1-27.6h0m0 18.2h0m0 6.2h0m0 2.9h0m.1-10.8h0m0 6.8h0m0 2.8h0m0 .5h0m0 .4h0m.1-5.7h0m0 4.2h0m.1-19h0m0 .4h0m0 7.4h0m0 5.7h0m0 2.4h0m0 2.4h0m0 1.6h0m.1-10.8h0m0 11h0m.1-1.6h0m0 1.3h0m.1-7.2h0m.1 4.2h0m.1-28.4h0m0 31.6h0m.1-3.5h0m0 1.4h0m.1-4.6h0m0 7.2h0m0 .9h0m.1-16.9h0m.1 12.2h0m0 3.2h0m.1-1.7h0m.1 .6h0m.1-2.1h0m.1-7.7h0m0 9.9h0m.1-14h0m0 9.1h0m0 5.4h0m.1-8.4h0m0 6.5h0m.1-2.9h0m.1 3.1h0m.1-1.5h0m.1-10.5h0m0 2h0m0 13.3h0m.1-19.3h0m0 19.2h0m0 .5h0m.1-5.6h0m0 1h0m0 .7h0m0 1.2h0m.1-3.6h0m0 4.1h0m0 .3h0m.1-10.6h0m0 4.4h0m0 1.7h0m0 1.7h0m.1 1.8h0m0 .2h0m0 0h0m0 .4h0m0 2h0m.1-1.4h0m0 .3h0m0 1.1h0m.1-3.5h0m.1 1h0m0 1.5h0m0 1.1h0m.1-5.5h0m.1-22.1h0m0 3.5h0m0 10.5h0m0 10.4h0m0 1.4h0m.1-21.5h0m0 20.3h0m.1 2.3h0m0 .6h0m.1-21.2h0m0 11.7h0m0 6.7h0m.2-3.2h0m0 6.3h0m.1-5.8h0m0 .5h0m0 2.6h0m.1-17.4h0m0 13.2h0m0 5h0m.2-3.1h0m0 1.5h0m0 3.5h0m.1-8.6h0m0 7h0m0 .2h0m.1 1h0m.1-11.3h0m0 3.8h0m0 7.9h0m.1-16.6h0m0 14.6h0m0 1.3h0m.1-1.6h0m0 .3h0m.2-6.9h0m0 2.1h0m.1 5h0m.2-20h0m0 19.3h0m0 1.3h0m0 .2h0m.1-24.8h0m0 17.4h0m.1 1.3h0m0 2.9h0m.1 .1h0m.1-9.3h0m.1 .1h0m0 5.5h0m0 6.1h0m0 .1h0m.1-15.1h0m0 12.5h0m0 1.7h0m0 1.1h0m.1-6h0m0 1.5h0m0 2.1h0m.1-3.7h0m0 .4h0m0 4.6h0m.1-24.8h0m0 11.6h0m0 .5h0m0 5.1h0m0 1h0m0 8.6h0m.2-12.3h0m0 8h0m0 3h0m.2-5h0m0 3h0m0 .4h0m0 1.5h0m.1-3.8h0m0 0h0m0 1.5h0m0 3.8h0m.1-10.4h0m.1-14.1h0m0 8.3h0m.1-10.8h0m0 24.9h0m0 1h0m.1-25.1h0m0 26.2h0m.1-15.6h0m0 1.4h0m0 4.3h0m0 .5h0m0 2.4h0m0 .6h0m.1-28.5h0m0 30.5h0m0 1.8h0m0 2.2h0m.1-13.2h0m0 13.8h0m.1-7.5h0m0 5.4h0m.1-5.3h0m0 4.4h0m.1-16.2h0m0 5.6h0m0 3.8h0m0 .9h0m0 2.5h0m0 4.2h0m0 2.1h0m0 .3h0m.1-9.4h0m0 5.4h0m.1-.1h0m0 3h0m.1-22.9h0m0 13.8h0m0 6h0m0 .4h0m.1-7.7h0m0 7.4h0m0 2.1h0m.1-5.8h0m0 5h0m0 1.4h0m.1-11.4h0m0 6.4h0m.1 1.1h0m0 .1h0m.1-3.5h0m0 2.6h0m0 3.7h0m.1 1.5h0m.1-7.9h0m0 6h0m.1-4.8h0m0 7h0m.1-10.2h0m0 8.7h0m0 1.3h0m.1-4.4h0m0 .3h0m0 .3h0m0 2.1h0m0 0h0m0 .2h0m.1-11.3h0m0 3.2h0m0 1.6h0m0 5h0m0 1.1h0m0 1h0m.1-6.3h0m0 7.9h0m.1-27.1h0m0 19.6h0m0 2h0m0 .3h0m0 3.2h0m0 1.6h0m.1-7.2h0m0 .9h0m0 4.6h0m0 .7h0m0 1.4h0m.1-6.3h0m0 4.2h0m.1-21.7h0m0 18.8h0m.1-4.9h0m0 2.8h0m0 6h0m0 .1h0m0 .8h0m.3-2.7h0m0 1.5h0m.1-48.3h0m0 47.4h0m.1-21.5h0m0 15.4h0m0 .7h0m0 .6h0m0 3.1h0m0 .1h0m.2-33.7h0m0 9.4h0m0 22h0m0 4.7h0m.1 .2h0m.1-17.7h0m0 18.9h0m.1-12.3h0m0 .7h0m.1-11.2h0m0 18.4h0m0 1.2h0m0 .9h0m0 1.5h0m.1-4.7h0m.1-.3h0m.1-6.4h0m.1 .5h0m0 7h0m0 3h0m0 .4h0m.1-15h0m.1 4.7h0m.1 .5h0m0 .8h0m0 7.9h0m.1-4.3h0m.1-2.6h0m0 4.5h0m.1 2.2h0m.1-5.4h0m0 5.2h0m0 1.1h0m.1-25.9h0m0 20.9h0m0 1.4h0m0 2.6h0m0 1.5h0m.1-25.2h0m0 7.3h0m0 16.5h0m0 .1h0m0 1h0m.1-8.6h0m0 5.1h0m0 1.3h0m0 3.8h0m.1 0h0m.1-14.5h0m.1 6.8h0m.1 3.8h0m.1-3.4h0m0 .9h0m0 1h0m.2-4h0m0 2h0m0 3.7h0m0 3.1h0m.1-26h0m0 22.3h0m0 2.9h0m0 .6h0m0 0h0m0 .4h0m.1-21.1h0m.1 17h0m0 1.1h0m0 1.9h0m.3-.9h0m.1-6.2h0m0 5.5h0m0 2.4h0m.1-44.9h0m0 20.9h0m0 12.6h0m.1 9.1h0m0 2.3h0m.1-7.8h0m0 3.2h0m.1-17.5h0m0 6.8h0m0 12.4h0m0 2.4h0m.1-1.6h0m0 1h0m0 .3h0m.1-2h0m0 1.5h0m.2 .7h0m0 .1h0m.1-7.8h0m0 2.5h0m.1 .5h0m0 .7h0m0 2.3h0m.1-14.8h0m0 15.7h0m.1-6h0m0 7.3h0m.1-17.1h0m.1 2.2h0m0 14.7h0m.1-26h0m0 12.4h0m0 8.9h0m0 .4h0m0 3.8h0m0 .3h0m0 1.1h0m.1-16.1h0m0 8.2h0m0 6h0m.1-13.6h0m.1-9.3h0m0 16h0m.1 5h0m.1-6.7h0m0 7.4h0m0 .9h0m.1-6.1h0m.1 1.3h0m0 4.7h0m0 .3h0m0 2.2h0m.1-15.5h0m0 11.6h0m0 .5h0m.1 2.7h0m.1 0h0m0 .7h0m.1-42.1h0m0 36.6h0m0 3.7h0m.1-10.1h0m0 6.7h0m0 1.3h0m0 3.3h0m0 .1h0m.1-12.2h0m0 .9h0m0 4.5h0m0 7h0m.1-10.9h0m0 8h0m0 1h0m.1-2h0m0 2.6h0m.1-25.5h0m0 24.5h0m.1-14.8h0m0 1.1h0m0 7.9h0m0 2.3h0m0 0h0m.1-9h0m0 10.8h0m0 1.7h0m0 1.7h0m0 .9h0m.1-7.1h0m0 3.1h0m0 2.4h0m0 1.2h0m.1-14.4h0m0 4.9h0m0 .4h0m0 4.5h0m0 .6h0m0 .8h0m0 3.2h0m.1-4.9h0m.1-9.7h0m0 8.8h0m0 5.2h0m0 .3h0m.1-5.7h0m0 3.2h0m0 .2h0m0 1.9h0m.1-9.5h0m0 6.5h0m0 .3h0m.2-12.6h0m0 8.6h0m.1 4.1h0m0 2.1h0m.1-4.9h0m0 3.8h0m.1-4.3h0m0 3.9h0m0 1.1h0m.1-17.6h0m0 16.3h0m0 .2h0m.1 1.7h0m.1-9.2h0m0 9.9h0m0 .7h0m.1-7h0m0 3.1h0m0 3.3h0m.2-4h0m.1 .2h0m0 .4h0m0 0h0m0 4h0m.1-10.9h0m0 2.6h0m0 8h0m.1-11.7h0m0 7.3h0m0 2.2h0m0 1.3h0m.1 .1h0m.1-.9h0m.1-2.2h0m0 2.3h0m0 .3h0m0 1h0m.1-.7h0m.1-19.7h0m0 5.2h0m0 5.4h0m0 3.7h0m.1-2.7h0m0 1.8h0m0 5.9h0m.1-8.9h0m0 1.9h0m0 5.5h0m0 1.7h0m0 1h0m.1-21.1h0m0 15.4h0m0 3.6h0m.1-5.5h0m0 1h0m.1-3h0m0 9.9h0m.1-8h0m0 5.2h0m0 1.5h0m.1-8.3h0m0 2.3h0m0 4.3h0m0 .5h0m0 1.7h0m.1-24.4h0m0 10.5h0m0 .2h0m0 14.4h0m0 .2h0m.1-7.2h0m0 1.2h0m0 1.5h0m.1-2.5h0m0 .3h0m0 1.7h0m0 1.4h0m0 2h0m.2-25.5h0m0 27h0m0 .2h0m.1-13h0m0 10.5h0m.1-11.4h0m0 3.2h0m.1 3.8h0m0 4.3h0m0 .5h0m0 1h0m.1-1.1h0m0 0h0m0 2h0m.1-1h0m0 .6h0m0 .6h0m.1-4.1h0m.1-21.3h0m0 18.7h0m0 5.4h0m.1 .8h0m0 .2h0m.1-13.7h0m0 10.7h0m.1 1.1h0m0 .4h0m0 1.3h0m0 0h0m.1-13.2h0m0 3h0m0 .9h0m0 6.9h0m0 2.5h0m.1-8.8h0m0 .3h0m0 1.4h0m0 4.2h0m0 2.3h0m0 .1h0m.1-9.3h0m0 3.1h0m0 2.7h0m0 3.2h0m0 .3h0m.1-13.6h0m.1 7.1h0m0 2.6h0m0 .3h0m.1-10.6h0m0 9.5h0m.1 3.9h0m0 .1h0m0 1.5h0m.1-.7h0m.1-6.7h0m0 5.8h0m0 1.4h0m.1-5.5h0m.1-4.6h0m0 1.8h0m0 5.2h0m.1-9.8h0m0 13.1h0m.1-.1h0m.1-9.8h0m0 1.2h0m.2 8.5h0m.1-30.8h0m.1 21.1h0m0 8.9h0m.1-6.6h0m0 2.2h0m0 4.5h0m.1-13.3h0m0 7.6h0m0 2.3h0m0 2.4h0m0 1.7h0m.1-2.8h0m0 1h0m.1-.5h0m0 1.8h0m0 .8h0m.1-9.4h0m.1 4.3h0m0 1h0m0 1.9h0m.1-8.3h0m0 3.5h0m.2-5.3h0m0 6.3h0m.1 3.3h0m0 .7h0m0 .3h0m0 .1h0m.1-12.5h0m0 6.6h0m0 5.9h0m.1-14.2h0m0 13.3h0m.1 .6h0m0 .6h0m.1-9.1h0m0 3.5h0m0 6.7h0m.1-8.5h0m0 2.6h0m.1-8.6h0m0 4.9h0m0 .2h0m0 9.1h0m.1-16h0m0 5.4h0m0 8.4h0m.1-4.6h0m.1 .1h0m0 3.4h0m.1-5.1h0m0 6.8h0m0 .7h0m0 .5h0m0 .1h0m0 .4h0m.1-5.7h0m0 3.9h0m0 .8h0m0 .1h0m0 .2h0m0 .4h0m.1-3.9h0m0 2.3h0m0 2.2h0m.1-20.8h0m.1 19.7h0m.1-6.6h0m0 6.8h0m.1-19.7h0m0 19.5h0m.1-2.8h0m.1-18.8h0m0 21h0m0 1.3h0m0 .5h0m.1-2.3h0m.1 2.3h0m.1-9.5h0m0 8.6h0m0 .1h0m.1-6h0m0 4.6h0m.1-13h0m0 3.3h0m0 10.8h0m0 0h0m.1-6.1h0m0 .6h0m0 4.5h0m0 .4h0m0 1h0m.1-24.5h0m0 18.3h0m.1 3.7h0m0 1.1h0m.1-7.5h0m.1-4.9h0m0 12.1h0m0 1.1h0m.1-2.8h0m0 .8h0m.1-2.1h0m0 4.9h0m.1-10.5h0m.1-15h0m0 15.2h0m0 8.4h0m0 1.8h0m0 .1h0m.1-22.3h0m0 16h0m0 3.7h0m.1-7.4h0m0 2h0m0 .2h0m.1 1h0m0 .4h0m0 1.6h0m.1 4.1h0m0 .3h0m.1-4.8h0m0 3.3h0m0 1h0m0 1.2h0m.1-31.4h0m0 20.4h0m0 5.5h0m.1-6.9h0m.1-.8h0m0 1.9h0m0 .9h0m0 2h0m0 .4h0m0 .7h0m0 4.2h0m0 2.5h0m.1-15.8h0m0 10.9h0m0 4.2h0m0 .8h0m.1-8.1h0m0 .5h0m0 .4h0m0 .3h0m0 6.3h0m0 .3h0m0 .7h0m.1-16.2h0m0 1.8h0m0 10.1h0m.1-13.7h0m0 10.4h0m0 4.2h0m0 .5h0m0 2.7h0m.1-.4h0m.1-17.3h0m0 14.3h0m0 .6h0m0 .9h0m.1-2.7h0m0 1.5h0m.1-10.2h0m0 8.6h0m.1 1.9h0m.1-17.7h0m0 5.8h0m0 8h0m0 4.9h0m0 .3h0m0 1h0m0 .5h0m0 .4h0m.1-6.5h0m0 4.4h0m.1-1.4h0m0 1.2h0m0 0h0m.1-17.3h0m0 6h0m.1-23.1h0m0 14.9h0m0 12.3h0m0 1.9h0m0 2.7h0m0 2h0m.1-2.3h0m0 3.1h0m.1-7.2h0m0 2.3h0m0 5.1h0m0 1.3h0m.1-10.9h0m0 7.1h0m0 4.2h0m.1-8.5h0m0 2.2h0m0 3.1h0m.1-13.7h0m0 9.1h0m0 1.9h0m.1-4h0m0 8.3h0m.1-.9h0m.1-3.8h0m0 2.4h0m0 2.5h0m0 .2h0m.1 .6h0m.1-8.7h0m0 .3h0m0 2.8h0m0 3.9h0m0 .2h0m.1-.2h0m0 1.2h0m0 1.3h0m.1-2.3h0m0 2.2h0m.1-5.1h0m0 .7h0m.1-1.1h0m0 5h0m0 .4h0m.1-12.3h0m0 6.4h0m.2 2.1h0m0 1h0m0 .2h0m0 .3h0m.1 2.2h0m.1-13.1h0m0 5.5h0m0 .8h0m0 6.3h0m.1-.9h0m.1-37.6h0m0 27.9h0m0 10.5h0m.1-1.3h0m0 .2h0m0 .6h0m0 .3h0m.1-13.7h0m0 11.8h0m0 2.6h0m.1-11.3h0m0 2.8h0m0 6.9h0m.1-6.6h0m0 2.7h0m0 .8h0m0 .1h0m0 4.7h0m.1-12.6h0m0 8.4h0m.1-3.9h0m0 2.4h0m0 .3h0m0 5.8h0m.1-9.9h0m0 6.2h0m0 1.1h0m0 1.9h0m.1-4.2h0m0 2.6h0m.1-21h0m.1 15.6h0m0 2.8h0m.1-3.7h0m0 2.8h0m0 2.5h0m.1-2.2h0m0 1.3h0m0 3.6h0m.1-11.4h0m0 3h0m0 .8h0m0 4.3h0m0 1.1h0m0 1.4h0m0 .9h0m.1-15.1h0m.1 4.2h0m0 4.9h0m0 .6h0m0 1.7h0m.1-21.6h0m0 16.9h0m0 4.7h0m0 .6h0m.1-3.9h0m0 5.5h0m.1-11.3h0m0 11.1h0m0 .3h0m0 1.2h0m0 .2h0m.1-41.9h0m0 33.8h0m0 7.3h0m.1-6.5h0m0 .8h0m0 2.9h0m0 1.5h0m0 .8h0m0 .6h0m0 .6h0m.1-16.4h0m0 14.1h0m0 .1h0m0 1.4h0m0 .2h0m.2-21.2h0m0 17.5h0m0 2h0m0 1.4h0m.1-15.4h0m0 11.2h0m0 4.5h0m0 .4h0m0 .3h0m.1-3.5h0m0 2.2h0m.2 .6h0m0 .8h0m.1-41.6h0m0 41.9h0m.1-15.6h0m.1 11.5h0m.1-17.9h0m0 19.7h0m0 .1h0m0 .5h0m0 .3h0m.1-4.9h0m0 2.3h0m0 .5h0m0 3.2h0m.1-6.8h0m0 2.1h0m0 0h0m0 2.6h0m0 2.3h0m0 0h0m.1-1.2h0m0 .4h0m0 .5h0m.1-8.2h0m0 2.3h0m.1 .1h0m0 .2h0m0 3.8h0m.1-17.8h0m0 10.4h0m0 4.2h0m0 2.2h0m0 2.7h0m.1-21.6h0m0 6.6h0m0 11.2h0m0 .4h0m.1-.2h0m0 3h0m.1-4.8h0m0 4.8h0m.1-7.6h0m0 2.5h0m0 5.9h0m.1-7.4h0m0 2.9h0m0 4.3h0m.1-5h0m0 2.1h0m0 3.1h0m0 0h0m.1-2.8h0m0 2.5h0m.2-14.5h0m0 14.4h0m.1-1h0m0 1.3h0m.1-4.8h0m.1-17.3h0m0 16.9h0m0 1.2h0m0 1.1h0m.1-8.3h0m0 3.2h0m0 1.8h0m0 1.4h0m0 1.8h0m0 .7h0m0 .8h0m.1-28.8h0m0 23.9h0m.1-9.6h0m0 .7h0m0 8.6h0m0 1.6h0m0 1.6h0m0 3.3h0m.1-2.4h0m0 1.7h0m.1-6.6h0m0 6.3h0m0 .3h0m0 .6h0m.1-33.7h0m.1 6.7h0m0 18.3h0m.1-4.5h0m0 .8h0m0 8.2h0m0 3.1h0m.1-16h0m0 16.2h0m0 .6h0m.1-4.9h0m0 3.8h0m0 .2h0m.1-23.9h0m0 3.9h0m0 14.8h0m0 .1h0m0 .4h0m0 6h0m.1-4.9h0m0 .4h0m0 1.2h0m0 3.5h0m.1-18.4h0m0 9h0m0 8.7h0m0 .8h0m0 .1h0m.1-3.6h0m.1-35.8h0m0 21.5h0m0 6.6h0m0 6.1h0m0 3.2h0m0 1.9h0m.1-4.2h0m.1-2.1h0m0 .4h0m0 .4h0m0 .9h0m0 4.2h0m.1-5.9h0m0 .7h0m0 4.4h0m.1-1.6h0m0 3h0m.1-.5h0m0 .7h0m.1-2.3h0m.1-7.6h0m0 2.9h0m0 6.2h0m0 .5h0m.1-25.5h0m0 21.2h0m0 1.9h0m.1-2.8h0m.1-2.2h0m0 .4h0m0 1.9h0m0 2.9h0m0 1.9h0m.1-9.3h0m0 2.5h0m0 3.6h0m0 3.7h0m.1-9.5h0m0 3.1h0m0 .7h0m.1-1.3h0m0 1.2h0m0 1.7h0m.1 .5h0m.1-4.3h0m0 7.3h0m.1-7h0m0 4.6h0m0 .2h0m0 .6h0m.1-6.5h0m0 3.5h0m.1-3.4h0m0 .4h0m0 5.4h0m.1-9.8h0m0 4.6h0m0 3.7h0m.1-3.5h0m0 3.1h0m.1-2.1h0m0 2.6h0m.1 2.6h0m0 .2h0m0 0h0m.1 .8h0m0 .3h0m.1-8.1h0m0 1.8h0m0 6.1h0m.1-.6h0m.1-10h0m.1 4.4h0m.1 2h0m0 .5h0m0 .3h0m0 .5h0m0 3h0m0 0h0m.1-8.6h0m0 4.9h0m0 .6h0m.1-7h0m0 7.2h0m0 1.2h0m0 .9h0m0 .8h0m0 .5h0m.1-11.6h0m0 11.4h0m.1-.8h0m0 .8h0m.1-22h0m.1 3.4h0m0 15.9h0m0 .2h0m0 .3h0m0 1.2h0m.1-6h0m0 1.4h0m0 1.4h0m0 1.7h0m.1-11.9h0m0 9.9h0m.1 .3h0m0 3.5h0m0 .6h0m.1-18.5h0m0 12.2h0m0 4.5h0m0 .8h0m.1-7.6h0m.1 4.3h0m.1-4.7h0m0 7.7h0m0 .8h0m0 .1h0m.1-6h0m0 2.4h0m0 0h0m0 2.3h0m.1-17.3h0m0 18.1h0m.1-.1h0m.1-4.4h0m0 3.7h0m.1-10h0m0 3.8h0m0 .8h0m0 2.1h0m.1 2.6h0m0 .2h0m0 .9h0m.1-17.1h0m0 7.1h0m0 8.2h0m0 .8h0m0 .3h0m.1-21.3h0m0 20.1h0m0 1.5h0m.1-12.7h0m0 2.8h0m0 9.5h0m0 1.9h0m0 .3h0m0 .1h0m.2-19.4h0m.1 .1h0m0 7h0m0 7h0m.1-5.1h0m0 10.2h0m.1-2.1h0m0 .2h0m0 1.1h0m0 .9h0m0 .1h0m.1-12.6h0m0 4.5h0m0 8.1h0m.1-45h0m0 33.4h0m0 9h0m0 2.4h0m.1-3.4h0m.1-8.2h0m0 8.7h0m.1-1.3h0m.1 0h0m0 4.4h0m.2-2h0m0 2h0m.1-10.5h0m0 3h0m0 .2h0m.1-1.4h0m0 3.1h0m0 2.8h0m0 .2h0m.1-35h0m0 28.4h0m0 3.7h0m0 .3h0m.1-12.7h0m.1 15.9h0m0 1.9h0m.1-43.9h0m0 40.1h0m.1-.1h0m0 .3h0m0 3.8h0m.1-9h0m0 4.3h0m0 1.7h0m.1-15.9h0m.1 9.7h0m0 1.8h0m.2-4.4h0m.1 4.9h0m0 6.3h0m.1-12.2h0m0 10.8h0m0 .9h0m.1-10.6h0m0 9.8h0m0 .3h0m0 .5h0m.1-15h0m.1 7.8h0m0 3.4h0m0 3.8h0m.1-16.4h0m0 8h0m0 5.6h0m.1-4.3h0m.1-3.1h0m0 8h0m0 .1h0m.1 2.4h0m.1-18.3h0m0 14.1h0m0 .1h0m0 .4h0m0 1.9h0m0 1.3h0m.1-9.3h0m0 1.3h0m.1-1.9h0m0 2.9h0m0 3.4h0m.1-10.2h0m0 3.6h0m0 6.7h0m0 2.5h0m0 .9h0m.2-4.7h0m0 4h0m.1-3.6h0m0 5h0m.1-11.4h0m0 10.4h0m0 1.4h0m.1-4.1h0m0 .9h0m.1 3.1h0m.1-12.6h0m0 9.3h0m0 1.4h0m.1-32.8h0m0 21.4h0m0 10.5h0m0 3h0m.1-2h0m0 1.9h0m.1-11.2h0m0 2.3h0m0 7.4h0m0 1.5h0m.1-7.8h0m0 3.5h0m0 2.9h0m0 1.1h0m.1-6.3h0m0 1.5h0m.1-2h0m.1-13.2h0m0 6.1h0m0 10.7h0m0 3.4h0m0 .1h0m.1-1.9h0m.1-3h0m0 .6h0m.1-9.6h0m0 7.7h0m0 4.8h0m.1-23.4h0m0 18.5h0m0 6h0m.1-2.8h0m.1-3.3h0m0 6.5h0m.1-2.7h0m.1-26.8h0m0 16.8h0m.1 4.9h0m0 2h0m.1 4.1h0m0 1.6h0m.1-5.5h0m0 .5h0m0 2.8h0m0 .2h0m.1-5.7h0m0 2.8h0m.1-12.4h0m0 5h0m0 5.6h0m0 2.6h0m0 3.5h0m.1-4.2h0m0 4.5h0m.1-16.3h0m0 11.7h0m0 1h0m0 3.9h0m.1-4.4h0m0 .7h0m0 .9h0m0 1.8h0m0 .6h0m.1-2.2h0m0 1.8h0m.1-19.4h0m0 6.6h0m.2-19h0m0 5.9h0m0 .9h0m0 11.9h0m0 10.8h0m0 .6h0m0 .2h0m.1 1.4h0m0 .8h0m.1-8.9h0m0 1.1h0m0 1.4h0m0 3h0m.1-8h0m0 4.9h0m0 3.9h0m0 2.2h0m.2-16.4h0m0 14.1h0m0 1.2h0m0 .3h0m.1-9.2h0m0 10.3h0m.1-7h0m0 5.2h0m.1-1.5h0m0 .1h0m0 2.5h0m.1-6.4h0m0 5.4h0m.1-20.4h0m0 21.5h0m.1-1.3h0m.1-.6h0m0 1.3h0m.1-.6h0m0 2h0m.1-11.3h0m0 9.2h0m0 1.2h0m.1-11h0m0 6.5h0m0 5.3h0m.1 .2h0m.1-7.6h0m0 4.6h0m0 1.2h0m0 .8h0m.1-22.1h0m0 14h0m0 5.8h0m.1-9.1h0m0 10.4h0m.1-9.9h0m0 2.1h0m0 4.8h0m0 1.9h0m0 1.8h0m0 1.3h0m.1-29.2h0m0 12.6h0m0 8.9h0m0 1.3h0m.1-13h0m0 16.1h0m0 2.6h0m0 .3h0m.1-2.5h0m0 1.5h0m.1-6.1h0m0 3.4h0m0 .2h0m0 3h0m.1-10.6h0m0 7.7h0m0 3.2h0m.1-20.1h0m0 18.2h0m0 1.4h0m.1-5.8h0m0 2.6h0m.1-3.3h0m0 3.7h0m0 1.5h0m0 1.5h0m.1-29.1h0m0 27.2h0m.1 2.5h0m.1-5.1h0m.1-14.5h0m.1 9.6h0m0 10.4h0m.1-23.5h0m0 19.8h0m0 1.4h0m.1-11.5h0m0 .1h0m0 5.9h0m0 6.2h0m.1-8.1h0m.1-4h0m0 10.1h0m.1-.1h0m.1 .9h0m.1-1.5h0m0 2.6h0m.1-3.8h0m0 2.6h0m0 3h0m.1-42.7h0m0 10.2h0m0 22.7h0m0 8.7h0m.1-.8h0m0 1.7h0m.1-2.4h0m0 .3h0m0 1.2h0m0 .2h0m.1-15.2h0m0 5.4h0m0 4.7h0m.1 4.7h0m0 .6h0m.2-5.3h0m0 3.4h0m0 1.2h0m.1-13.5h0m0 11.1h0m0 .4h0m0 .2h0m.1-11.1h0m.1 6.8h0m0 3h0m.1-5.6h0m0 7.2h0m.1-5h0m0 1h0m0 2.9h0m.1-8.4h0m0 9.5h0m0 .6h0m0 1.5h0m.1-10.8h0m.1 9.2h0m0 .4h0m.1-3.7h0m0 .1h0m0 5.2h0m.1-4.9h0m0 3.6h0m.1-15.2h0m0 15.8h0m.1-4.7h0m0 3.6h0m.2-5.8h0m0 .4h0m0 4.8h0m0 2h0m.1-11.4h0m0 10.5h0m.1-4.1h0m.1-4.7h0m0 4.9h0m.1-1.5h0m0 2h0m0 2.1h0m0 1.4h0m.1-8h0m0 0h0m0 3.7h0m0 .6h0m0 3.6h0m0 .1h0m.1-1.9h0m0 1h0m0 2.1h0m.1-5.4h0m0 3.8h0m0 1.5h0m.1-7.2h0m0 4.8h0m0 .9h0m.1-11.7h0m0 6.9h0m0 .2h0m0 6.6h0m.1-4.6h0m0 2.2h0m.1-27.9h0m0 24.2h0m0 .8h0m0 .2h0m0 .4h0m0 .7h0m.1-6.5h0m0 7h0m0 2.2h0m.1-10.4h0m0 6.9h0m0 .4h0m0 .5h0m.1-5.8h0m0 5.6h0m0 .5h0m.1-7.5h0m0 2.1h0m0 .5h0m0 8.3h0m0 .2h0m.1-12.3h0m.1 .1h0m0 3.8h0m0 7h0m.1-6.8h0m0 .3h0m0 4.9h0m.1-10.7h0m0 5.9h0m0 .3h0m0 1.1h0m0 .2h0m0 3.2h0m0 .4h0m0 2.2h0m.1-13.6h0m0 6.6h0m0 4.5h0m.1-1.1h0m0 2h0m.1-3.8h0m0 3h0m0 1.6h0m.1-9.2h0m0 2.3h0m0 7.2h0m.1-6.7h0m0 2.3h0m0 .3h0m0 3.2h0m0 .8h0m0 1h0m.1-39.8h0m0 35.8h0m.1-4.7h0m0 3.4h0m0 4.7h0m.1-.9h0m.1-4.3h0m0 1.8h0m0 .1h0m.1-6.1h0m0 7.3h0m0 1.7h0m.1-8.3h0m0 4.1h0m.1-20.8h0m0 17.1h0m0 .5h0m.1 .7h0m0 4.2h0m0 1.5h0m.3-8.3h0m0 4.5h0m0 4h0m.1-.6h0m.2-3.3h0m0 1.8h0m.1-4.1h0m0 .3h0m0 5.1h0m.1-1.9h0m0 3.1h0m0 .9h0m0 .2h0m.1-7h0m.1 6.2h0m.1-4.2h0m.1-4.2h0m0 2.1h0m0 1.4h0m0 3.2h0m0 1.3h0m0 .3h0m.1-15.6h0m0 6.1h0m0 2.9h0m0 2.7h0m0 2.7h0m0 1.5h0m.1-2.5h0m.1-11.9h0m0 10.8h0m0 2.4h0m0 1.3h0m.1-6.1h0m0 4.5h0m.1-6.1h0m0 .2h0m0 3.5h0m0 .1h0m0 .2h0m0 .3h0m.2 3h0m0 .1h0m.1-9.2h0m.1 5.9h0m0 1.5h0m.1 .9h0m0 1.5h0m.2-17.2h0m0 3.7h0m.1-2.5h0m0 .8h0m0 1.2h0m0 3.3h0m0 10.4h0m.1-25.3h0m0 18.5h0m0 6.3h0m.1-8.4h0m0 9.6h0m.1-9.6h0m.1 .2h0m0 5.9h0m.1-7.9h0m0 2.1h0m0 7.6h0m.1 1.2h0m.1-.2h0m0 .7h0m.1-3.3h0m0 1h0m0 .2h0m0 1.7h0m.1-3.2h0m0 .3h0m0 1.9h0m0 1.2h0m0 .1h0m.1-1.8h0m0 .5h0m.1-11h0m0 10.6h0m0 .2h0m.1-8.9h0m0 10h0m.1-6.8h0m0 1.3h0m0 2.5h0m.1-5h0m0 3.6h0m0 1.6h0m0 0h0m0 .4h0m0 .1h0m0 2.4h0m.1-16.8h0m0 1.8h0m0 5.2h0m0 7.5h0m.1-1.6h0m0 1.1h0m.1-20.3h0m0 18.1h0m0 2.8h0m0 1.2h0m0 1.2h0m.1-16.6h0m0 .5h0m0 4.8h0m0 3.2h0m0 1.6h0m0 .2h0m0 3h0m0 2.4h0m.1-17.4h0m0 9.6h0m0 .8h0m0 3.6h0m0 3.4h0m.1-6.7h0m0 4.5h0m.1-12.6h0m0 10.4h0m0 .8h0m0 1.2h0m.1-5.9h0m0 3.7h0m0 .3h0m0 .2h0m0 3.6h0m0 1.1h0m0 .3h0m.1-.5h0m.1-14.9h0m0 7.5h0m0 4h0m0 1.5h0m0 1.1h0m.1-13.3h0m0 8.8h0m0 2.5h0m.2-5.2h0m0 3.7h0m0 4.4h0m.1-38.3h0m0 9h0m0 17.4h0m.1-13.8h0m0 16.4h0m0 6.1h0m0 .1h0m.1-.7h0m0 1.7h0m.1-5.2h0m.1 3.8h0m.1-4.9h0m0 1.6h0m.1-1.8h0m0 4.1h0m0 1.1h0m.3 .1h0m0 3.6h0m.1-14.8h0m0 8.1h0m0 6.1h0m0 .8h0m.1-6.8h0m0 3.1h0m0 0h0m.1-13.9h0m0 15h0m0 2.3h0m.1-8.1h0m0 6.8h0m0 .9h0m0 .7h0m.1-23.2h0m.1 13h0m0 1.1h0m0 4.9h0m0 1.5h0m.1-13.1h0m.1 5h0m0 6.1h0m0 2.6h0m.1-9.5h0m0 6.9h0m0 1.7h0m0 .9h0m.1 1.5h0m.1-13.1h0m.1 6.5h0m0 4.5h0m0 1.8h0m.1-1.7h0m.1-4.5h0m.2-2.3h0m0 5.7h0m0 3.1h0m.1-11.7h0m0 7h0m0 3.6h0m.1-10.1h0m0 4.2h0m0 4.8h0m0 1.5h0m.1-12h0m0 9h0m0 3.2h0m.1-2.1h0m0 2.7h0m.1-.5h0m0 .4h0m.1-17.7h0m0 9.3h0m0 3.9h0m0 1.8h0m.1-6.8h0m0 .8h0m0 4.6h0m0 1.8h0m.1-6.4h0m0 8.3h0m.1-7.3h0m0 7.2h0m0 .5h0m.1-10.3h0m0 2.4h0m0 1.1h0m0 1.9h0m0 3.4h0m0 .3h0m.1-18.9h0m0 19h0m.1-13h0m0 12.1h0m0 .5h0m.1-6h0m0 2.1h0m.1-5h0m0 5.3h0m0 3.8h0m.1-.5h0m0 1.5h0m.1-14.9h0m0 4.1h0m0 1.6h0m0 7h0m0 2h0m.1-14.7h0m0 5.4h0m0 1.2h0m0 4.1h0m0 4.1h0m.1-19.8h0m0 17.7h0m0 3.1h0m.1-13.3h0m.1 5.9h0m0 .9h0m0 3.6h0m0 .4h0m.1-7.7h0m.1-4.2h0m0 9.3h0m0 1.2h0m.1 1.1h0m0 2.6h0m0 .3h0m.1-5.2h0m0 1.9h0m.1-2.7h0m0 5h0m.1 1h0m.1-7.6h0m0 3.2h0m0 4.1h0m.1-15.8h0m0 14.1h0m.1-20.8h0m0 11.3h0m0 8.7h0m0 1.1h0m.1-10.7h0m0 9.3h0m0 1.9h0m.1-12.2h0m0 6.9h0m0 2.1h0m.1-3.9h0m.1 7h0m.2-16.4h0m0 3.8h0m.1-8h0m0 13.3h0m0 4.6h0m0 1.2h0m0 2h0m.1-1.5h0m0 1.5h0m.1-5h0m0 2.5h0m0 .9h0m.2-2.9h0m.1-1h0m0 4.1h0m.1-5.1h0m0 3.8h0m0 .2h0m0 .8h0m0 2.1h0m.1 .4h0m.1-.6h0m.1-7h0m0 4.4h0m.1-5.5h0m0 3.1h0m0 1h0m0 2.1h0m.1-10.5h0m0 10.8h0m.1-3.2h0m0 2h0m0 .2h0m0 1.8h0m0 1.5h0m.1-13.5h0m0 1h0m0 5.1h0m0 2.7h0m0 .4h0m0 1.8h0m0 1.2h0m.2-21.5h0m0 9.3h0m0 10.6h0m0 2.4h0m.1-5.7h0m0 2.1h0m0 .3h0m.1-.7h0m0 3.7h0m.1-4.8h0m.1-2.5h0m0 1.7h0m0 1.5h0m.1-14.4h0m0 14.1h0m0 3h0m0 1.8h0m.1-10.1h0m0 8.4h0m0 .8h0m.1-1.2h0m0 2h0m.2-21h0m0 13.6h0m0 6.9h0m.1-12.2h0m0 10h0m0 .3h0m0 1.8h0m0 .7h0m.2-15h0m.1 12.3h0m.1-2.9h0m0 3.5h0m0 1.6h0m.1-8h0m0 2.7h0m0 1h0m0 3h0m.1-14.2h0m0 14.9h0m.1-2.9h0m.1-8.4h0m0 6.3h0m.1-1.7h0m0 6.8h0m.1-2.6h0m0 2.5h0m.1-2.8h0m.1-15.8h0m0 12.6h0m0 3.1h0m0 1.8h0m.1-7.2h0m0 5.2h0m0 1.1h0m0 1.9h0m0 .1h0m.1-7h0m0 6.1h0m.1-3.1h0m0 2.9h0m.1-6.9h0m0 8.4h0m.1-2.4h0m.1-.3h0m.1-16.3h0m0 15.5h0m0 3.1h0m0 1.1h0m.1-1.2h0m0 1h0m.1-14.9h0m0 6.8h0m0 7.1h0m.1-8.9h0m0 3.8h0m0 2.8h0m0 3.7h0m0 .1h0m.1-1.3h0m.1-6.5h0m0 3.4h0m0 .4h0m0 2.1h0m0 .4h0m0 .8h0m0 .2h0m.1-8.4h0m0 6.8h0m0 1h0m.1-4h0m0 2.1h0m0 1.9h0m.1-7h0m0 2.1h0m0 2.9h0m0 2.5h0m.1-9.5h0m0 4h0m0 1.8h0m0 4.4h0m.1-6.3h0m0 2.6h0m0 3.3h0m.1-11.1h0m0 9.6h0m0 1.5h0m.2-13.9h0m0 4.8h0m0 4.4h0m0 4.9h0m.1-4.2h0m0 1.3h0m0 1.2h0m0 1.4h0m.1-9.4h0m0 .6h0m0 2.8h0m0 .3h0m.1-.8h0m0 .1h0m0 1h0m.1-2h0m.1 3h0m.1-28.8h0m0 27.2h0m0 5.5h0m.1-13.7h0m0 2.3h0m0 7.7h0m0 .5h0m0 1h0m0 .4h0m0 .4h0m0 .6h0m.1-5.8h0m0 5.1h0m0 .1h0m0 1.4h0m0 .7h0m0 0h0m.1-3.3h0m0 1.5h0m0 1.6h0m0 .4h0m.1-15.4h0m0 9.1h0m.1-12.6h0m0 16.7h0m.1-.2h0m0 .5h0m.2-34h0m0 29.4h0m0 .5h0m0 3.6h0m0 2.3h0m.1-27.8h0m0 23.7h0m0 .4h0m0 1.8h0m0 .2h0m.1-4.3h0m0 2h0m.1 0h0m0 1.9h0m.1-5.8h0m0 7h0m0 .4h0m.1-9.5h0m0 1.1h0m.3-5h0m0 7.5h0m0 3.3h0m0 2.5h0m0 0h0m.1-1h0m.1-2.4h0m0 .1h0m.2-7.7h0m.1-18h0m0 18.3h0m0 1.6h0m0 9.8h0m.1-19.3h0m0 17.9h0m0 .6h0m0 .4h0m.1-3.9h0m0 2h0m0 1.8h0m.1-2.1h0m.2-5.2h0m0 2.6h0m0 3.1h0m0 2h0m0 .2h0m.1-12.4h0m0 7h0m0 4.9h0m.1-7.9h0m0 4.7h0m.1-5.6h0m0 7.6h0m0 1.3h0m.1-7.6h0m0 4.9h0m0 1.5h0m0 .6h0m.1-13.5h0m0 5.5h0m0 .7h0m0 3.7h0m0 2.5h0m0 .7h0m0 .4h0m.1-19.2h0m0 19.7h0m.1-10h0m0 2.1h0m0 3.3h0m0 1.1h0m0 .4h0m0 1.8h0m0 .3h0m.1-10.8h0m0 4.6h0m.1-36.1h0m0 29.3h0m0 7.5h0m0 1.4h0m0 1.7h0m0 1.6h0m0 .9h0m0 .9h0m.1 .3h0m.1-1h0m.1-5h0m0 3.7h0m.1-11.8h0m0 13.9h0m.1-10.8h0m0 1.5h0m0 4.2h0m0 3.7h0m0 1.6h0m.1-41.9h0m0 28.8h0m0 6.1h0m0 1.7h0m.3 1.7h0m0 1.1h0m.1-2.8h0m0 5.1h0m0 .2h0m0 .1h0m.1-13.4h0m0 3.1h0m.1 5.9h0m0 1.8h0m0 2.5h0m.1-5.9h0m0 1.2h0m0 1.2h0m0 .7h0m0 .8h0m0 1.2h0m.1-15.3h0m0 10.2h0m0 .8h0m0 3h0m.1-3.1h0m0 2h0m.1-7h0m0 4.3h0m0 1.2h0m0 4.4h0m.1-11.8h0m0 3.7h0m0 5.8h0m0 .1h0m0 .2h0m0 .9h0m.1-19.2h0m0 16.5h0m0 1.7h0m.1-6.9h0m0 7.9h0m.1 .4h0m.1-9.1h0m0 1.9h0m0 4.3h0m.1-.4h0m.1-25h0m0 9.7h0m0 10.1h0m0 6.7h0m0 1.5h0m.2-9.9h0m0 8.7h0m.1-14.9h0m0 15.8h0m.1 1.5h0m.2-9h0m0 3.3h0m0 .9h0m0 .7h0m0 1.8h0m0 1.3h0m0 .6h0m0 .2h0m.1-22.1h0m0 8.8h0m0 6.2h0m0 3.4h0m.1-11.5h0m0 15.5h0m.1-45.1h0m0 37.6h0m0 .8h0m0 3.1h0m0 2.1h0m.1-3.8h0m0 4.2h0m.2-29h0m0 25.2h0m.1-1.7h0m0 .6h0m.1-3.2h0m0 1.1h0m0 1h0m0 1.1h0m0 1h0m0 .1h0m.1 1.3h0m0 2.6h0m.1-10.4h0m0 7.9h0m0 1h0m0 2h0m.1-1.5h0m.1-8.3h0m0 8.2h0m0 .9h0m0 .5h0m.1-1.5h0m0 .8h0m.1-3h0m0 .2h0m.1-.4h0m0 2.7h0m.1-18.3h0m0 1.6h0m0 9.3h0m0 4.7h0m0 1.6h0m0 1h0m.1-2.7h0m0 1.5h0m.1 .4h0m.1-8h0m0 1.4h0m.1-8.9h0m0 16.3h0m0 .2h0m.2-14.9h0m0 3.6h0m0 7.9h0m.1-7.9h0m0 1.1h0m0 7.6h0m0 1.9h0m0 .5h0m0 .4h0m.1-.8h0m0 1.8h0m.1-8.8h0m0 8.4h0m0 .7h0m0 .1h0m0 0h0m.1-18.8h0m0 4.6h0m0 5.4h0m0 4.4h0m0 1.9h0m0 2.8h0m.1-8.7h0m0 6.7h0m0 .8h0m0 .6h0m0 .1h0m.1-1.8h0m0 2.3h0m.1-13.1h0m0 10.4h0m0 1.4h0m.1-7.1h0m0 3.1h0m0 .9h0m0 2.2h0m.1-11.8h0m0 12.8h0m.1-15.1h0m0 9.7h0m0 5h0m0 .3h0m0 1.1h0m.1-2.2h0m0 .5h0m0 .1h0m0 1.8h0m.1-9.8h0m0 2.3h0m0 .7h0m.1-7.3h0m0 13.3h0m.1-6.7h0m.1-1.9h0m0 3.9h0m0 1.1h0m.2 1.4h0m0 .8h0m.1-6.2h0m0 5.3h0m.1-1h0m0 3.4h0m.1-2.3h0m0 1.6h0m.1-17.2h0m0 11.4h0m0 6h0m.1-5.7h0m0 .6h0m0 .4h0m0 2.7h0m0 1.1h0m0 .4h0m.1 0h0m0 .6h0m.1-8.1h0m0 9.2h0m.1-7.7h0m0 5.9h0m.1-31.3h0m.1 28.8h0m.1-5.6h0m0 7h0m0 .2h0m.2-5.3h0m0 5.6h0m0 .7h0m0 1.5h0m.1-4.4h0m0 1.1h0m0 .2h0m0 3h0m0 .1h0m.1-21.4h0m0 3h0m0 1.1h0m.1 8.2h0m0 2.8h0m0 3.6h0m.1-8.3h0m0 7.7h0m.1-6.5h0m0 8.2h0m0 .8h0m.1-40.8h0m0 36.5h0m.1 4.4h0m0 .4h0m0 .2h0m.1-4.3h0m0 .8h0m0 3.8h0m.1-.7h0m.1-11.9h0m0 5.7h0m.1-2h0m0 1.1h0m0 6.2h0m.1-12.8h0m0 8.9h0m0 4.4h0m.1-14h0m.2 9.4h0m0 4.8h0m0 .7h0m.1-19.8h0m0 8.6h0m0 4.2h0m0 6.4h0m0 .1h0m.1-3.3h0m0 .5h0m0 3.1h0m.1-11.8h0m0 9h0m0 1.8h0m.1-6.4h0m0 5.6h0m0 0h0m0 2.1h0m.1-17.6h0m0 5.9h0m0 .2h0m.1 2.8h0m0 .9h0m0 3.5h0m0 1.6h0m0 .4h0m0 .9h0m.1-7h0m0 .2h0m0 3.5h0m.1-27.6h0m0 26.3h0m0 3.3h0m0 .4h0m.1-7.3h0m0 6.2h0m0 .2h0m0 1.7h0m.1-6.2h0m0 6.8h0m0 .5h0m.1-10h0m0 7h0m0 2h0m.1-4.5h0m0 .7h0m.1 5.2h0m.1-9.2h0m0 2.4h0m0 5.2h0m0 .3h0m0 1.2h0m.1-6.8h0m0 .6h0m0 3.5h0m.1-9.3h0m0 6.8h0m0 5h0m0 .5h0m.1-1.8h0m.1 1.7h0m.1-5h0m0 1.9h0m.1 2.1h0m.2-21h0m0 9.1h0m0 6.7h0m0 1.9h0m.2-2.1h0m0 3.1h0m.2-.1h0m0 .1h0m0 1.8h0m.1-4.5h0m0 1.4h0m.1-3.8h0m0 7.4h0m0 .3h0m.1-6.3h0m.1 4.6h0m.1-40.1h0m0 34h0m0 5.1h0m0 2.1h0m0 .4h0m.1-6.4h0m0 1.7h0m0 2.6h0m0 2.2h0m.1-1.9h0m.1-27.5h0m0 25.6h0m0 .4h0m0 2.2h0m0 .8h0m0 .1h0m0 .3h0m.1-8h0m0 3.7h0m.1-1.5h0m0 4h0m0 .6h0m.1-26h0m0 27.1h0m0 .3h0m0 .4h0m.1-2.9h0m0 1.1h0m0 1.5h0m.1-9.8h0m.1-12h0m0 7.6h0m0 13.9h0m.1-.9h0m0 .7h0m0 .9h0m.1-5h0m0 4.4h0m.1-10h0m0 9.4h0m.1-10.8h0m0 2.4h0m0 .4h0m0 5.5h0m0 .3h0m0 3.1h0m.1 .3h0m.1-15.2h0m0 11.3h0m0 3.6h0m0 .1h0m.2-4.1h0m0 1h0m0 1.7h0m.1-1.3h0m0 0h0m0 2.3h0m0 .3h0m.1-17.7h0m0 16.7h0m0 1.4h0m.4-8h0m0 1.2h0m0 3.1h0m0 3.4h0m.1-12.9h0m0 6.1h0m0 5.3h0m0 .6h0m.1-14.3h0m0 6.6h0m0 2.2h0m0 1.6h0m0 3.9h0m0 .8h0m.1-2.1h0m0 .5h0m.1 .6h0m.1-11.2h0m0 8.8h0m0 .9h0m0 .7h0m0 .3h0m.1-3.6h0m.1-19.1h0m0 23.6h0m0 0h0m.1-1.9h0m0 .2h0m0 1.9h0m0 .3h0m0 .1h0m0 .3h0m.1-8h0m0 .5h0m0 3.4h0m0 .4h0m0 .1h0m0 1.2h0m0 .7h0m0 1h0m.1-17.6h0m0 7.3h0m0 2h0m0 .5h0m0 2.2h0m0 3.4h0m.1 1.1h0m0 .1h0m0 .6h0m.1-.4h0m.1-10.5h0m0 .4h0m0 2.8h0m0 8.2h0m.2-7.6h0m0 8.1h0m.1-20.4h0m0 12.7h0m0 3h0m0 4.8h0m.1-21.2h0m0 7.6h0m0 5.1h0m0 3.6h0m0 3.2h0m.1-4.2h0m0 2.9h0m.1-5.3h0m0 4.7h0m0 3.7h0m.1-6.6h0m0 .1h0m0 4.5h0m.1-4.3h0m0 3.5h0m.1-10.8h0m0 7.9h0m0 2.1h0m0 2.2h0m0 1h0m.1-20.1h0m0 19.2h0m0 1.3h0m.1-14.4h0m0 12.9h0m0 1.3h0m.1-7.3h0m.1-16.6h0m0 14.4h0m0 7h0m0 .9h0m0 1.8h0m.1-27h0m0 10.3h0m.1 4.7h0m0 8.1h0m0 0h0m0 1.8h0m.1-6.9h0m0 1.8h0m0 2.5h0m0 2.2h0m0 1.9h0m.1-10.3h0m0 3.8h0m.1 .5h0m0 3.8h0m0 2.8h0m.1-14.7h0m0 14.4h0m.1-14.5h0m0 9.2h0m0 4.7h0m0 0h0m.2-2.2h0m0 .9h0m0 1.3h0m.1-33.2h0m0 18.2h0m0 4.3h0m0 2.3h0m0 2.9h0m0 4.9h0m.1-10.5h0m0 4.8h0m0 .9h0m0 2.3h0m.1-8.9h0m0 6.9h0m0 1.4h0m0 .8h0m0 2.8h0m.1-13.6h0m0 11h0m.1-2.1h0m0 4.5h0m0 1.2h0m.1-5.4h0m0 1.9h0m.1 1.6h0m0 .9h0m0 .2h0m.1-2.8h0m0 2.3h0m.1-6h0m0 5.2h0m0 1.3h0m0 .3h0m0 0h0m0 .2h0m0 .1h0m.1-12h0m0 5.3h0m.2-.7h0m0 4.8h0m.1-6.1h0m.1 5.2h0m0 .7h0m.1-22.5h0m.1 18.7h0m0 .4h0m0 4.6h0m0 .5h0m.1-1.9h0m.2-13.2h0m0 9.9h0m0 .4h0m0 2.1h0m0 .5h0m0 .5h0m0 1h0m0 2h0m.1-3h0m.1-2.3h0m0 0h0m0 3.5h0m.1 1.4h0m.1-15.5h0m0 6.6h0m0 3.5h0m0 2.7h0m0 2.5h0m.1-25h0m0 5.7h0m0 18.8h0m.2-5.6h0m0 .6h0m0 1.8h0m0 1.6h0m0 1.7h0m.1-1.7h0m0 1.5h0m.1-15.5h0m0 5.9h0m0 8.1h0m.1-4.8h0m0 4.6h0m.1-5.1h0m0 3.6h0m0 3.7h0m.1-.1h0m0 .4h0m0 .1h0m.1-19.5h0m0 12.8h0m0 3.6h0m0 2.7h0m.1-2.7h0m0 1.2h0m0 1.2h0m0 1.1h0m.1-20.2h0m0 7.1h0m0 10.4h0m0 .1h0m0 .2h0m.1-.4h0m0 2.1h0m0 .2h0m.1-24.6h0m0 23.2h0m0 .2h0m0 .6h0m0 .4h0m.1-4.1h0m.1-16.8h0m0 14.7h0m.1-.2h0m0 0h0m0 3.6h0m0 1.7h0m0 1.2h0m.1-18.7h0m0 10.2h0m0 8.1h0m.1-5.9h0m.1-2.3h0m.1 1.5h0m0 4.4h0m0 1.2h0m.1-2.1h0m0 2.9h0m0 .7h0m.1-15.5h0m0 0h0m0 1.9h0m0 9.4h0m0 2.2h0m0 1.2h0m.1-5.8h0m0 4.6h0m0 1.6h0m.1-9.9h0m.1 2.8h0m0 3.7h0m0 .7h0m0 .3h0m0 1.1h0m0 .9h0m0 .8h0m.1-8.8h0m0 7.8h0m0 .6h0m0 .4h0m.1-9.2h0m0 7.7h0m.1-2h0m0 1.1h0m.1-8.1h0m0 11h0m.1-9.6h0m0 7.8h0m.1-.5h0m.1-3.4h0m0 5.6h0m.1-12.7h0m0 12.1h0m.1-.6h0m.1-8.5h0m0 4.3h0m0 1.2h0m.1-17.3h0m0 19.7h0m0 1h0m.1-7.4h0m.1 7.6h0m.1-.7h0m.1-1.4h0m.1-9.1h0m.1-3.4h0m0 13.6h0m0 1.3h0m0 .1h0m.1-4.7h0m0 .5h0m0 .9h0m0 3.7h0m.1-2.1h0m0 .7h0m0 1.1h0m.1-16.2h0m0 .6h0m0 11.1h0m0 1h0m0 2.2h0m.1-1.7h0m0 2.3h0m0 .7h0m.1-2.1h0m0 1.3h0m0 .1h0m.1-4.5h0m.1-1.8h0m0 4.9h0m0 1.8h0m.1-11.8h0m.2 8.9h0m0 1h0m.1-10.7h0m.1 8.1h0m.1 2.5h0m0 .6h0m.2-12.6h0m.1 6.7h0m0 5.7h0m0 .1h0m0 1h0m.1-16.9h0m0 10.4h0m0 4.1h0m.1-5.9h0m0 .9h0m.1 0h0m0 8.1h0m.1-14.2h0m0 3.8h0m0 6.4h0m.1-11.6h0m0 7.1h0m0 .2h0m0 .4h0m0 2.4h0m.1 5.2h0m.1-8.6h0m0 3.9h0m0 1h0m0 .7h0m0 2.9h0m.1-23.7h0m0 13.1h0m0 6h0m.1 1.9h0m0 .8h0m.1-12.6h0m0 1.1h0m0 11.3h0m0 2.1h0m.1-23.2h0m0 18.2h0m0 1h0m0 4.5h0m0 .1h0m.1-6.6h0m.2-14.8h0m0 10.8h0m0 .5h0m0 3.2h0m.1 1.3h0m.1 3.4h0m0 2.2h0m.1-3.3h0m0 1.1h0m0 1.9h0m.1-10h0m.1 7h0m0 1.4h0m.1-5.3h0m.1 2.8h0m0 2.3h0m.1-27h0m0 5h0m0 2.8h0m0 14.1h0m0 4.6h0m.1-2.4h0m0 1.1h0m0 2.1h0m0 1.3h0m.2-7.9h0m0 3.6h0m0 4.6h0m.1-3h0m.1-5.2h0m0 7.1h0m0 1.2h0m.1-27h0m0 10.2h0m0 15.8h0m.1-17.9h0m0 8.6h0m0 7.8h0m0 .2h0m0 1.9h0m.1-12.8h0m0 4.7h0m0 .5h0m0 .4h0m0 7.4h0m.1-19h0m.1-7.8h0m0 13.7h0m0 6.8h0m0 4.5h0m0 .3h0m0 1.3h0m.1-12.1h0m0 .4h0m0 6.9h0m0 5.4h0m.1-3.5h0m0 1h0m.1-8.4h0m0 9.2h0m.1-6.4h0m0 4h0m0 1.4h0m.1-1.1h0m.1-13.3h0m0 6.4h0m0 2.3h0m0 .7h0m0 3.9h0m.1-13h0m0 9.5h0m0 1.4h0m0 3.3h0m.1-13h0m0 1.2h0m.1 8.9h0m0 .8h0m0 .3h0m.1-4.6h0m.1-6.3h0m0 1.7h0m0 11.8h0m0 1.4h0m0 .5h0m.1-10.7h0m0 .9h0m0 8.6h0m0 .9h0m.1-11.4h0m0 5.6h0m0 3.9h0m.1-18.1h0m0 19h0m0 .4h0m.1-8h0m0 4.1h0m0 2.3h0m.1-.9h0m.2 .4h0m0 1.9h0m0 .8h0m.1-24h0m0 10.1h0m0 11.6h0m0 1.1h0m.1-28.9h0m0 24.2h0m0 4.3h0m.1-6.9h0m.1-17.6h0m0 13.5h0m0 3.6h0m0 5h0m0 3.8h0m0 .1h0m.1-4h0m.1-13.9h0m0 16.4h0m0 .2h0m.1 .2h0m.1-5.7h0m0 .9h0m0 2.5h0m0 2.1h0m.1-.2h0m0 .2h0m0 1.7h0m.1-29.1h0m.1 8.1h0m0 16.1h0m.1-8.8h0m0 3h0m0 10.1h0m0 .2h0m0 .3h0m.1-23.6h0m0 16.6h0m0 1.3h0m0 3.8h0m0 .5h0m0 .4h0m.1-1.4h0m.1-5.2h0m0 .8h0m0 3.9h0m0 2.8h0m.1-7h0m0 .3h0m0 .8h0m.1-25.3h0m0 13.3h0m0 14.1h0m0 3.7h0m.1-21h0m0 7.9h0m0 3.2h0m0 2.2h0m0 5.7h0m.1-12.7h0m0 8.6h0m0 1.4h0m0 4.3h0m.1-5.6h0m.1-5.1h0m.1 7.1h0m0 4.2h0m.2-7.4h0m.1 3.6h0m0 3.9h0m.1-3h0m0 1.2h0m0 .8h0m.1-8h0m0 4.2h0m0 4.7h0m.1-7.7h0m.1-5.2h0m.1 3.3h0m0 1.7h0m0 2.2h0m0 .9h0m0 2h0m0 .1h0m0 1.5h0m.1 1h0m.1-3.1h0m0 1.4h0m0 .6h0m0 .1h0m0 .1h0m.1-17.5h0m0 2.8h0m0 10.7h0m0 .5h0m0 3.4h0m.2-8.9h0m0 7.7h0m0 1.5h0m.1-11.9h0m0 1.6h0m0 2.3h0m0 5.4h0m.1-2.6h0m0 2.1h0m0 2.6h0m.1-7.5h0m.1 6.7h0m0 0h0m0 1.7h0m.1-5.1h0m0 4.8h0m.1-1.5h0m.1-4.6h0m0 1.1h0m.1-.5h0m.1 4.7h0m0 .9h0m.1-27.9h0m0 28.1h0m0 .2h0m.1-.1h0m.1-26.6h0m0 21.7h0m0 4.4h0m0 .7h0m.1-8h0m0 5.7h0m0 2.2h0m0 .4h0m.1-10.7h0m0 5.5h0m0 2.5h0m0 1.8h0m.1-4.1h0m0 4.6h0m.1-16.5h0m0 11.1h0m0 3.6h0m0 1.8h0m.1-11.2h0m0 5.3h0m.1 2.3h0m0 1.2h0m.1-.1h0m0 2.8h0m0 .1h0m.1-10.7h0m0 5.8h0m0 .6h0m0 2.9h0m0 .6h0m.1-1.3h0m0 .6h0m.1-2.9h0m.1-3.5h0m0 1.8h0m0 3.3h0m.1-17.1h0m0 8.7h0m0 8.8h0m0 1.7h0m.3-4.1h0m0 .3h0m0 1.2h0m0 2.6h0m.2-3.8h0m.2-5.8h0m0 6.4h0m0 2.8h0m.1-6.3h0m0 1.1h0m0 3h0m0 .1h0m.1-1h0m.1-.2h0m0 1.6h0m0 2.3h0m.1-3.5h0m0 3.1h0m.1-10.7h0m0 9h0m0 0h0m.1-5.9h0m0 6h0m.1-25.3h0m0 12.9h0m0 8.5h0m0 4.1h0m0 1.4h0m0 .2h0m.1-2.9h0m0 .5h0m0 .3h0m.1-9h0m0 1.8h0m0 7.8h0m0 1h0m.1-21.9h0m0 20.6h0m0 .7h0m0 1.3h0m.1-19h0m0 2.9h0m0 9.6h0m0 2h0m0 3h0m0 .2h0m0 1.2h0m.3-27.5h0m0 8.8h0m0 11.9h0m0 1.2h0m0 1.3h0m0 2.1h0m.1-5.3h0m.1 2.3h0m0 1h0m0 4.7h0m.1-7.5h0m0 1.4h0m0 1h0m0 .2h0m0 2h0m0 1.7h0m.1-38.7h0m.1 33.6h0m0 1.8h0m0 .7h0m0 .5h0m.1 1.2h0m0 .8h0m.1-6h0m.1 6.3h0m.1-1.7h0m.1-1h0m0 2.7h0m.1-7.1h0m0 2.4h0m.1-19.8h0m0 19h0m0 5.1h0m0 .7h0m0 .7h0m.1-11.5h0m0 9.5h0m0 1.2h0m0 .8h0m.1-13.8h0m0 4.8h0m0 7.7h0m0 .5h0m.1-.8h0m.1-5.1h0m0 1.6h0m.1 1.2h0m0 1.7h0m.1-9.7h0m0 3.1h0m0 5.7h0m.1-8.4h0m0 8.2h0m0 .2h0m0 2.2h0m.1-10.6h0m0 1.1h0m0 .4h0m0 2h0m0 3.5h0m0 2h0m.1-11.2h0m0 .6h0m0 11h0m0 1.2h0m0 .7h0m.1-9.8h0m0 6.3h0m0 .6h0m0 .8h0m.1-7.4h0m0 3.8h0m.1-8.9h0m0 12h0m.1 .3h0m0 .3h0m.1-8.3h0m0 6.3h0m0 1h0m.1 2.5h0m0 .4h0m.1-9.7h0m0 5.3h0m0 .2h0m0 1.2h0m0 1.7h0m.1-28.6h0m0 23.4h0m.1 6.1h0m.1-10h0m0 1.7h0m0 6.6h0m.1-4.6h0m0 3.3h0m0 .3h0m.1 3h0m.1-7.3h0m0 2.6h0m0 2.7h0m.1-11.1h0m0 4.2h0m0 8.5h0m0 .6h0m.2-4.6h0m.1-5.4h0m.1 7.9h0m0 2.1h0m0 .2h0m.1-7.4h0m.2 6h0m0 1.3h0m.2-32.4h0m0 14.4h0m0 15.9h0m0 .6h0m.1-7.9h0m0 3.5h0m.1-3.3h0m0 0h0m0 4.2h0m0 2.3h0m0 .5h0m0 .5h0m0 .8h0m.2-17.5h0m.1-13.4h0m0 28.3h0m0 1.5h0m.1-9.9h0m0 11.2h0m0 .4h0m.1-13.4h0m0 4.9h0m0 3.1h0m0 3.7h0m0 .1h0m0 .7h0m.1 .3h0m0 .3h0m.1-10.7h0m0 .2h0m0 8h0m0 2.2h0m.1-20.4h0m0 18h0m0 1.6h0m0 .8h0m0 .4h0m.1-4.5h0m0 .9h0m0 1.7h0m0 1.2h0m.1-5.8h0m0 2.7h0m0 2.4h0m0 1.1h0m.1-3.7h0m0 1.5h0m0 .6h0m0 .1h0m.1-12.6h0m0 9.7h0m0 1h0m0 2.1h0m.1-5.8h0m.1-1.9h0m0 6.7h0m0 1.3h0m.1-14.4h0m0 11.4h0m.1-2.5h0m0 2.3h0m0 3.9h0m0 .1h0m.1-12.7h0m0 4.2h0m0 7.5h0m0 1.1h0m.1-21.5h0m0 13.8h0m0 1.1h0m0 1.5h0m0 2.3h0m0 3h0m.1-9.9h0m.1 7.4h0m0 1.9h0m0 1h0m.2-4h0m.1-23.4h0m0 19.8h0m0 4.4h0m.1-7.6h0m0 10.8h0m0 .2h0m.1-7.1h0m0 6.7h0m.1-2.2h0m0 .6h0m.2-1.3h0m0 2.5h0m.1-1.6h0m.3-14.9h0m0 12.2h0m0 5h0m0 .4h0m.1-3.4h0m.1-2.4h0m0 .6h0m0 .9h0m0 .1h0m.1-1.9h0m0 .1h0m0 .7h0m0 2.6h0m0 1.1h0m.1-1.2h0m.1 .8h0m.1-3.3h0m.1 .9h0m0 3.4h0m.1-1.8h0m0 .3h0m0 0h0m.2-13.7h0m0 10.7h0m0 3.3h0m0 1.1h0m.1-16.5h0m0 17.6h0m.1-10.3h0m0 7.7h0m0 .8h0m0 1.3h0m0 0h0m.1-14.4h0m0 9.2h0m0 .7h0m0 2h0m.1-.1h0m.2-10.8h0m0 1.4h0m0 5.2h0m0 3.4h0m0 .5h0m.1-3h0m0 3.1h0m.1-.5h0m.1-9.3h0m0 11.5h0m.1-9h0m0 9.6h0m.1-.6h0m.1-17.4h0m0 16.5h0m0 .2h0m0 .6h0m.1-11h0m0 7.1h0m0 1.3h0m.1-4.5h0m.1-11h0m.1 6.4h0m0 6.7h0m0 .5h0m0 .7h0m0 2.9h0m0 0h0m0 .9h0m.1-5.5h0m0 3.6h0m.1-4.5h0m0 2.9h0m0 3.1h0m.1-8.3h0m0 4.3h0m.1 4.8h0m0 .8h0m.1-16.4h0m0 3.4h0m0 3.5h0m0 6.7h0m0 1.7h0m0 1.1h0m.1-2.9h0m0 .2h0m0 0h0m0 .7h0m0 0h0m0 2.3h0m.1-27.8h0m0 16.7h0m0 .6h0m0 3.8h0m0 2.5h0m0 1.9h0m.1-.8h0m.1 2h0m0 .3h0m.1-3.9h0m.1 1.8h0m.1-11.1h0m0 8.9h0m0 1.2h0m.1-5.1h0m0 .2h0m0 2.7h0m.1-4h0m0 8.4h0m0 .5h0m.1-14.8h0m0 8h0m.1 5.6h0m.1-14.2h0m0 15.7h0m0 1h0m.1-22h0m0 21.8h0m.1-5h0m.1-3h0m.1 2h0m0 .7h0m0 2.3h0m0 2.9h0m.1 0h0m.1-5.5h0m0 3.9h0m.1-13.4h0m0 2.5h0m0 5.9h0m0 .6h0m.1 5.9h0m0 0h0m.1-6.1h0m0 5.2h0m.1-4.5h0m0 .3h0m0 .2h0m.2-1.5h0m0 5.5h0m.2-5.7h0m0 1.2h0m0 3.9h0m0 1.4h0m.1-3.2h0m0 .1h0m.1-7.8h0m0 5.7h0m0 4.3h0m0 1.3h0m.1-3h0m0 .6h0m0 .7h0m0 1.2h0m.1-23.3h0m0 16.6h0m0 4.1h0m0 1.2h0m0 2h0m.3-13.9h0m0 9.9h0m0 2.2h0m.1-14.8h0m0 1.9h0m.1 13.9h0m0 .8h0m.1-1.2h0m.1-15.7h0m0 11.4h0m0 3.5h0m0 1.3h0m.1-7.4h0m.1 6h0m.1-5.9h0m0 .7h0m0 5.5h0m0 1.1h0m.1-.4h0m0 .6h0m.1-11.5h0m0 7.8h0m0 2.1h0m0 1.6h0m.2-2.7h0m0 1.6h0m0 .6h0m.1-15.1h0m0 6.8h0m0 7.6h0m.1-.4h0m.1-35.6h0m0 31.4h0m0 3.7h0m0 .1h0m0 1.4h0m.1-8.7h0m0 .9h0m0 4.3h0m0 2.4h0m0 1.7h0m0 .6h0m0 0h0m.1-6.9h0m.1-5h0m0 7.3h0m0 .2h0m.2-1h0m0 .7h0m0 1.4h0m.1-16.1h0m.1 9.4h0m.1 1.5h0m0 7.7h0m.1-7h0m0 3h0m0 .9h0m.1 .7h0m0 1.3h0m.1-17.5h0m0 12h0m.2 3.9h0m0 1.7h0m0 .2h0m.1-11.1h0m.1-3.1h0m0 14h0m0 .2h0m.1-6.2h0m0 .5h0m.1 1.4h0m0 5.6h0m.1-10.8h0m0 2.3h0m0 3.6h0m0 .9h0m0 .2h0m0 2.6h0m0 .8h0m0 .1h0m.1-13.7h0m0 9.5h0m0 2.7h0m0 .2h0m.1 1.5h0m.1-40.7h0m0 36.3h0m0 2h0m.1 .9h0m.1-25.7h0m0 20.7h0m0 1.7h0m0 1.1h0m0 1.3h0m.1-4.6h0m0 0h0m0 5.4h0m0 .6h0m0 .5h0m.1-6.6h0m0 3.8h0m0 3.6h0m.1-5.5h0m0 .6h0m0 2.4h0m.2-7.9h0m.1 8.1h0m0 .8h0m0 .4h0m.1-10.9h0m.1 5h0m0 4h0m0 2.8h0m.1-5.9h0m0 1.6h0m0 2.3h0m0 0h0m0 1.2h0m0 .6h0m.1 .2h0m.1-8.3h0m0 4.2h0m.1 2.4h0m0 1.7h0m.1-15.1h0m0 12.2h0m.2-.3h0m0 .7h0m.2-6.7h0m0 4.2h0m0 1h0m0 .2h0m0 .8h0m0 1.7h0m.1-5.3h0m0 6.6h0m.1-10.7h0m0 2.8h0m0 .6h0m.1-4.1h0m0 4.2h0m.1-6.6h0m0 3.6h0m0 1.1h0m.1 .9h0m0 1.8h0m0 4.9h0m.2-2.8h0m0 .5h0m.1-25.4h0m0 21.7h0m0 1.3h0m0 1.3h0m.1-.3h0m0 1.7h0m0 2.4h0m.2-10.8h0m.1 7.4h0m0 4.5h0m0 .2h0m.1-16.2h0m0 10.4h0m0 .1h0m0 .1h0m0 2.1h0m0 .8h0m0 2.1h0m.1-20.9h0m0 17.1h0m.1-6.6h0m.1-11.9h0m.1 17.6h0m.1-4.5h0m0 .6h0m0 7h0m.1-2.7h0m0 4.9h0m.2-1.3h0m.1-12.5h0m0 6.9h0m0 .9h0m0 5.1h0m.1-5h0m0 2.8h0m0 .5h0m0 .2h0m0 .7h0m0 1.5h0m.1-12.8h0m0 12h0m.1-6.1h0m.1-13.2h0m0 10.8h0m0 2h0m0 1h0m0 .7h0m0 1.3h0m0 .8h0m0 .2h0m.1-19.4h0m0 22.8h0m.1-15.5h0m.1 15.6h0m.1-26.5h0m0 18.2h0m0 4.4h0m0 2h0m.1-7.3h0m0 3h0m0 1.6h0m0 3.9h0m.1-14.6h0m0 9h0m0 4.7h0m.1-26.7h0m0 26.6h0m0 1.6h0m.1-4.2h0m0 2.4h0m.1-7.8h0m0 3h0m0 3h0m0 3h0m.1-18.3h0m0 15.6h0m.1-16.3h0m.1 1.4h0m0 15.1h0m.1-3h0m0 3.5h0m0 .5h0m0 .3h0m.1-2.2h0m0 3.3h0m.1-10.9h0m0 8h0m0 .1h0m0 1.9h0m0 .1h0m.1-27.9h0m0 23.5h0m0 4.7h0m.1-1.9h0m.1-28.9h0m0 31.4h0m.1-27.4h0m0 24.1h0m.1-6.7h0m0 4.9h0m0 2h0m0 .5h0m0 .9h0m0 1.3h0m0 .6h0m0 .3h0m.1-1.7h0m.1-3.8h0m0 3.3h0m.1-19.3h0m0 17.9h0m0 2.7h0m0 1.2h0m.1-.7h0m0 .7h0m.1-22.2h0m0 9.1h0m0 5.2h0m0 2.5h0m0 .7h0m0 1.5h0m0 1.1h0m.1-42.5h0m0 41.8h0m.1-2.9h0m0 .4h0m.1 4.6h0m0 .4h0m.1-1.2h0m.1-18.2h0m0 12.6h0m0 2.6h0m0 4.1h0m.2-45.2h0m0 42.2h0m0 .9h0m.1-1.3h0m0 2.8h0m0 1h0m.1-23.3h0m0 3.7h0m0 16.8h0m0 1.2h0m.1-23.7h0m0 22.8h0m.1-23.7h0m0 19.6h0m0 5.3h0m.1-3.1h0m.1-3.6h0m0 3.6h0m0 2.8h0m0 .2h0m.1-4.8h0m0 .8h0m.2-32.7h0m0 33.9h0m0 1.3h0m.1-5.4h0m0 1.8h0m0 1.2h0m.3 .4h0m0 2.2h0m0 1.1h0m0 .2h0m.1-6.2h0m0 5.3h0m0 1.1h0m.2-9.1h0m.1 4.1h0m.1 2.4h0m0 2.4h0m.1-14.2h0m0 6.8h0m0 1.2h0m0 .1h0m0 .4h0m0 2.8h0m0 0h0m0 3h0m0 .7h0m0 .2h0m.1-25.9h0m0 21.1h0m0 2.9h0m0 .3h0m.1 1.6h0m.1-6.3h0m0 2h0m.1-5.1h0m0 4.1h0m0 3.7h0m0 .4h0m.1-17h0m0 13.3h0m0 .6h0m0 1.9h0m.2-.7h0m0 .4h0m.1-3h0m0 3.4h0m0 1.4h0m.1-4.9h0m0 .3h0m0 2.2h0m0 1.5h0m.1 1.8h0m.1-3.5h0m0 1.5h0m0 .1h0m0 .9h0m.3-41.3h0m0 35.4h0m0 .5h0m0 3h0m0 .9h0m.1-1.2h0m0 2.1h0m.1 .5h0m0 .2h0m.1-31.6h0m0 17.4h0m.1 13.4h0m0 .7h0m.1-6.3h0m0 2.8h0m.1-12.7h0m0 17.1h0m.1 0h0m0 .5h0m.1-4.6h0m0 2.3h0m.1-1.1h0m0 2.7h0m.1-8.2h0m0 1h0m.1-8h0m.1 10.4h0m.1-10.3h0m0 9h0m0 2.5h0m.1-6.9h0m0 2.2h0m0 2h0m0 6.6h0m.1-5.7h0m0 2.1h0m.1 .9h0m0 2.9h0m.1-.9h0m0 .2h0m0 .4h0m.1-17.5h0m0 12.2h0m0 2.9h0m.1-12.8h0m0 13.1h0m.1-5h0m0 5.1h0m0 1.6h0m.1-.2h0m.1-9.6h0m0 9.4h0m.1-14.9h0m0 14.9h0m.1-5.4h0m0 .5h0m0 1.8h0m0 3h0m.1 1.2h0m.1-6.6h0m0 2.7h0m0 2.9h0m.1-12.3h0m0 .7h0m0 10.1h0m0 .1h0m0 2.4h0m.1-13.5h0m0 8.8h0m.1-6.1h0m0 10.8h0m.1-12.4h0m0 3.3h0m0 1.3h0m0 7.8h0m.1 .2h0m.1-.4h0m.1-7.8h0m0 7.1h0m.1-12h0m0 .8h0m0 5.8h0m0 2.8h0m0 2.4h0m.1-3.5h0m0 1.4h0m0 .9h0m.1 .2h0m.1-6.8h0m0 5.9h0m.1-1.3h0m.1-14.2h0m.1 7.1h0m0 0h0m0 6.8h0m0 2.6h0m.1-1.2h0m0 .2h0m.3-11.6h0m0 9.8h0m0 .7h0m0 .5h0m0 .5h0m.1-12.1h0m0 2.8h0m0 11.2h0m0 1.2h0m0 .1h0m.1-4.4h0m0 2.2h0m.1-4.7h0m.1 3.4h0m0 .7h0m0 1h0m.1-3.8h0m0 4.8h0m.1-1.6h0m0 1.3h0m0 .6h0m.1-7.4h0m0 8h0m.1-4.4h0m0 1.6h0m.1-7.3h0m0 4.2h0m0 .3h0m0 2.4h0m0 2h0m0 .2h0m0 .4h0m.1-33.3h0m0 26.6h0m0 .8h0m0 .2h0m0 5.1h0m.1 .6h0m.1-2.6h0m0 .9h0m.1-18.3h0m0 18.8h0m0 .8h0m0 .8h0m.1-8.3h0m0 2h0m0 3h0m0 3.4h0m.1-47.4h0m0 32.9h0m0 9.8h0m0 3.1h0m0 1.2h0m.1-6.6h0m0 3.4h0m0 .1h0m0 1.1h0m0 .5h0m.1-10.4h0m0 8.2h0m0 1.6h0m.1-2.8h0m.1-9.6h0m0 10.4h0m0 3.8h0m.1-1.8h0m0 2.1h0m0 .2h0m.1-36.1h0m0 29.2h0m0 3.7h0m0 1h0m0 1.9h0m.1-9.5h0m0 7.8h0m0 1.5h0m0 .5h0m0 .3h0m.1-.2h0m0 0h0m.1-29.5h0m0 11.7h0m0 15.9h0m0 .5h0m.1-11.9h0m0 12.1h0m.1-2.1h0m0 3.2h0m.2-6.8h0m0 5.8h0m0 .2h0m.1-5.1h0m0 2.2h0m0 2.4h0m0 .8h0m0 .7h0m.1-18.1h0m0 11.6h0m0 4h0m.1-11.3h0m0 9h0m0 4.5h0m0 .2h0m.1-4.2h0m0 2.7h0m0 .2h0m.1-14.7h0m0 4.6h0m0 6.2h0m0 3.4h0m0 .8h0m.1-31.3h0m0 26.3h0m0 3.2h0m.1 .5h0m0 .3h0m0 .4h0m0 1h0m0 .7h0m.1-10.1h0m0 6.3h0m.1-8h0m0 1.9h0m0 4.4h0m0 1.8h0m.1 .4h0m0 2.2h0m.1-8.2h0m0 .9h0m0 5.7h0m.1-4.3h0m0 .1h0m0 4.1h0m.1-3.3h0m.1-10.9h0m0 2.7h0m0 13.6h0m.1-8h0m0 1.9h0m0 5.5h0m0 .9h0m.1-.9h0m0 .4h0m.1-17.2h0m0 9h0m0 7.8h0m0 .1h0m.1-12.2h0m0 6h0m0 3.8h0m0 1.1h0m0 2.1h0m.2-.4h0m.2-15h0m0 7.3h0m0 3.6h0m0 3.7h0m.1-1.1h0m.1-3h0m0 2.2h0m0 1.4h0m0 .1h0m.2 0h0m.1-3.8h0m0 3.2h0m0 1.4h0m.1-8.8h0m0 3.1h0m0 5.6h0m.1-10.2h0m0 1h0m0 4.3h0m.1-1.5h0m0 6.1h0m0 0h0m0 1.2h0m.1-11.9h0m.1-.2h0m.1-23.5h0m0 34.4h0m.1-6.1h0m0 3.6h0m.1-2.2h0m0 5.2h0m.1-19.5h0m.1 14.5h0m0 5.2h0m.1-4.2h0m0 1.2h0m0 1h0m.1-11.8h0m0 4.6h0m0 8h0m.1-27.1h0m.1 25.5h0m0 1.9h0m.1-5.2h0m.1-1.6h0m0 2.3h0m0 1.3h0m0 2.5h0m0 1.7h0m0 .1h0m.1-11.1h0m0 4.7h0m0 3.8h0m0 .3h0m0 1h0m.1-36.5h0m0 34.8h0m.1-3h0m0 2.9h0m0 .8h0m0 .4h0m.1-8.3h0m0 10.6h0m.1-2.3h0m0 .1h0m0 .1h0m.1-12.3h0m0 5h0m0 4.7h0m.1-3.5h0m0 3.6h0m0 4.2h0m.1-1.9h0m.1-5.3h0m0 6.7h0m.1-16.3h0m.1 14.3h0m0 2.6h0m.1-3h0m0 3h0m.1-2.3h0m.1-4.6h0m0 4.9h0m0 1.8h0m.1-8.4h0m0 6.7h0m.1-6.3h0m0 4.8h0m.1 2.9h0m.1-.8h0m.1 .2h0m0 .5h0m.1-7.8h0m.1-2.5h0m0 4.7h0m0 1.4h0m0 3.3h0m0 1.5h0m.1-17.8h0m0 4.7h0m0 3.2h0m0 3.3h0m.1-1.8h0m0 5.8h0m0 .4h0m.2-8.5h0m0 7h0m0 1.9h0m.1-6.7h0m.1 3.7h0m0 2.1h0m0 2.5h0m.1-14.4h0m0 10.1h0m0 2.9h0m0 1.7h0m.1 0h0m.1-12.6h0m0 1.5h0m.1 6.6h0m0 1.5h0m0 1h0m0 .6h0m0 .6h0m.1-6h0m0 .7h0m0 1.4h0m0 1.7h0m.1-1.5h0m0 .4h0m0 .3h0m0 .1h0m0 3.7h0m.2-15.6h0m0 14.1h0m0 1.3h0m.1-6.6h0m0 4.2h0m.1-3h0m0 3.4h0m.1-13.4h0m0 .3h0m0 15.3h0m.1-27.4h0m0 13.2h0m0 9.1h0m0 3.4h0m0 .7h0m.1-.7h0m0 .7h0m.1-21.9h0m0 6.3h0m0 8.3h0m0 3.5h0m.1 1.6h0m0 1.3h0m0 .7h0m.1-1.1h0m0 1h0m.1-12.7h0m.1 12.5h0m.1-3h0m.1 1.7h0m0 1h0m.1-7.4h0m0 3.9h0m.1-2.8h0m0 2.8h0m.1-1.9h0m0 3.5h0m.1-4.6h0m0 7.4h0m.1-6.6h0m0 5.3h0m.1-14.2h0m0 14.9h0m.1-23.5h0m0 11.6h0m0 6.1h0m0 .6h0m0 0h0m0 .2h0m0 1.3h0m.1-22.4h0m0 11.4h0m0 13.5h0m.1-.7h0m0 2.5h0m.1-1h0m.1-1.3h0m0 2.7h0m.1-17h0m0 2.2h0m0 2.1h0m0 6.2h0m0 5.7h0m0 .8h0m.1-4.4h0m0 .3h0m0 1.9h0m0 .4h0m.1-18.7h0m.1 13.1h0m0 4.1h0m.1-8.3h0m0 3.4h0m0 1.9h0m0 1.2h0m0 .8h0m0 .5h0m.1-9.8h0m0 .9h0m0 12.6h0m.1-5.4h0m0 3.6h0m0 1.5h0m.1-7h0m.1 2.5h0m0 2.4h0m.1-29.2h0m0 29.9h0m.1-4.8h0m0 6.4h0m0 .3h0m.1-10.4h0m0 6.3h0m.1-8h0m0 5.5h0m.1-3.3h0m0 3.6h0m0 2.3h0m.1-8.5h0m0 8.3h0m0 1.2h0m0 0h0m0 2.4h0m.1-16.9h0m0 14.4h0m0 .9h0m0 1h0m.1-1.7h0m.1-16h0m0 16.9h0m0 .9h0m.1-26.6h0m0 13.5h0m0 14h0m.1-12.4h0m0 6.8h0m0 5.9h0m.1-11.8h0m0 6.8h0m0 1.3h0m.1-1.9h0m0 4h0m.1-24.7h0m0 21.6h0m0 1.2h0m0 1.9h0m0 .7h0m0 .6h0m.1-36.9h0m0 8.8h0m0 24.9h0m0 2.3h0m0 1.5h0m.1-6.4h0m0 6h0m.1-10.7h0m.1 7.4h0m0 1.1h0m.1-8.4h0m0 1.7h0m0 4.4h0m0 4.3h0m0 .4h0m.1-24.7h0m.1-3.5h0m0 12.6h0m0 6h0m0 .6h0m0 2.4h0m0 6.6h0m.1-26.6h0m0 24.9h0m0 .7h0m.1-5.7h0m0 4h0m0 1.9h0m.1-1.6h0m.1-12.4h0m0 8.9h0m0 1.5h0m0 1.8h0m0 .3h0m.1-8.2h0m0 .6h0m0 4.9h0m0 .4h0m0 3.1h0m.1-18.3h0m0 7.2h0m0 7.9h0m0 2.5h0m.2-21.6h0m.1 10.9h0m0 13h0m.1-18h0m0 3.8h0m0 6.8h0m0 5.2h0m.1-24.7h0m0 24h0m0 .3h0m.1 2h0m0 .1h0m.1-1.5h0m0 2h0m.1-2.8h0m0 2.9h0m.1-16.1h0m0 10.3h0m0 5.4h0m0 0h0m.1-22.7h0m0 20.2h0m0 1.8h0m.1-6.8h0m0 3.5h0m.1-.5h0m0 3.7h0m.1-22.8h0m0 3.4h0m0 18.6h0m0 .4h0m.1-11.1h0m.1 6h0m0 6.1h0m.2-10h0m0 7.8h0m0 .1h0m0 .5h0m.1-6.3h0m0 4.2h0m.1-6.7h0m0 3h0m.1 3.9h0m.1-7.1h0m0 9.8h0m.1-5h0m0 3.2h0m0 2.3h0m.1-1.6h0m.1-1.8h0m.1-.7h0m0 2.4h0m0 1h0m.1-5.1h0m0 1.7h0m0 4.7h0m0 .1h0m.1-12.9h0m0 3.3h0m0 0h0m0 8.4h0m0 .2h0m.1-18.6h0m0 8.2h0m0 4.7h0m.1 5.5h0m.1-20.3h0m0 17h0m0 4.4h0m0 .4h0m.1-28.2h0m0 14.7h0m0 2.7h0m0 6.2h0m.1-1.9h0m0 2.9h0m.1 .1h0m.1-1.4h0m0 1.4h0m0 1.3h0m0 1h0m.1-16h0m0 1h0m0 12.6h0m0 .7h0m.1-1.6h0m0 0h0m0 1h0m.1-2.2h0m0 2.3h0m.1-11.3h0m0 13.6h0m.1-7.2h0m0 7h0m0 .2h0m.1 1.1h0m.1-39.7h0m0 34.6h0m0 1.8h0m0 1.6h0m0 1h0m.1-5.2h0m0 .2h0m0 4.1h0m.1-6.6h0m0 3.4h0m0 1h0m0 2.5h0m.1-22.8h0m0 16.7h0m0 1.8h0m0 1.9h0m.1-4.6h0m0 4.6h0m0 .4h0m0 0h0m0 2.5h0m.1-4.2h0m.1-5.9h0m0 3.4h0m.1-5.8h0m0 9.9h0m0 1.5h0m.1-9h0m0 9h0m0 1.7h0m.1-10.3h0m0 3.3h0m0 6.2h0m.1-10.5h0m0 5h0m0 6h0m.1-4.3h0m0 .9h0m0 1.1h0m0 2.3h0m.2-17h0m0 10.9h0m0 1h0m.1 2.3h0m0 1.9h0m.1-13.8h0m0 12.2h0m0 .3h0m0 1h0m0 1.5h0m.1-11.5h0m0 1.1h0m0 4.4h0m0 1h0m0 1.8h0m.1-6.2h0m0 1.7h0m.1 3.8h0m.1-5.1h0m0 3.4h0m.2-6.4h0m0 5.2h0m0 .8h0m0 4h0m.1-1.4h0m0 1.7h0m0 2h0m.1-18.7h0m0 12.9h0m.1 3.4h0m0 0h0m0 0h0m.1 1.7h0m0 .1h0m.1-17.3h0m0 7.6h0m.1-.9h0m0 1.9h0m0 2.3h0m0 1.6h0m0 1.6h0m0 1.6h0m0 .1h0m.1-9.7h0m0 5.7h0m0 4.9h0m.1-3.8h0m0 3.1h0m.1-24.7h0m0 19.9h0m0 4h0m0 .4h0m.1-16.7h0m0 3.2h0m0 13.7h0m0 1h0m.1-7h0m0 3.4h0m0 3.8h0m.1-29.5h0m0 13.5h0m0 5.4h0m.1 1h0m0 5.4h0m0 1.1h0m0 1.1h0m0 .8h0m0 .5h0m0 .7h0m0 .6h0m.1 .2h0m.1-.8h0m.1-7.3h0m0 3.3h0m0 .3h0m0 3.4h0m0 1h0m.1-3.1h0m.1-27h0m.1 10.6h0m0 17.3h0m.1-.9h0m.1-1.4h0m.2-5.5h0m0 7.9h0m0 2.2h0m.1-15.8h0m0 7h0m0 3.9h0m0 .7h0m.1-13.5h0m0 11.2h0m.1-18.4h0m0 19.7h0m0 3.3h0m.1-5.9h0m0 7.3h0m0 0h0m0 0h0m0 .5h0m.1-6h0m0 3.4h0m0 1.1h0m0 .8h0m.2-2.5h0m0 1.2h0m0 .4h0m0 1.6h0m0 .1h0m.1-16.4h0m0 12.9h0m.1 2.6h0m0 .8h0m.1-4.4h0m.1-14.4h0m0 14.6h0m0 0h0m0 .8h0m.1-8.4h0m0 6.1h0m0 2.3h0m0 0h0m0 1.7h0m.1-4.4h0m0 3.6h0m.1-9.4h0m0 5.5h0m0 5.4h0m0 .1h0m0 1h0m.2-4.7h0m0 .2h0m0 .6h0m0 1.1h0m0 2.3h0m0 .2h0m0 .1h0m.1-11.5h0m0 .6h0m0 7.9h0m0 1.1h0m0 1.2h0m.1-.9h0m.1-26.6h0m0 26h0m.1 .3h0m0 .3h0m.1-13h0m0 8.1h0m.1-1.4h0m0 3.1h0m0 .4h0m0 1.6h0m.1-6.1h0m0 5.9h0m0 2.6h0m.1-17.2h0m0 6.8h0m0 8.1h0m0 .2h0m0 1.2h0m.1-7.3h0m0 8.3h0m.2-17.7h0m0 11h0m0 2.9h0m0 1.7h0m0 2.4h0m.1-.3h0m.1-6.8h0m0 4.1h0m0 1.8h0m.1-8.5h0m0 4h0m0 .7h0m0 4.6h0m.1-21.3h0m0 4.6h0m0 6.2h0m0 4.6h0m0 3.3h0m0 .7h0m0 2.1h0m.1-5h0m0 4.2h0m.1-5h0m0 3.5h0m0 .6h0m.1-.7h0m0 .1h0m.1-11.7h0m0 11.3h0m.1 .4h0m.1-9h0m0 11.2h0m.1-13.5h0m0 10.2h0m.2-6.1h0m0 8.9h0m0 .5h0m.1-11h0m0 3.7h0m0 6.1h0m0 1.5h0m.1-6.9h0m0 2.4h0m0 1.2h0m0 .1h0m0 1.5h0m0 .9h0m0 .3h0m0 .5h0m.1-8.2h0m0 2.1h0m.1-3.3h0m0 .4h0m0 9h0m.1-12.5h0m0 3.8h0m0 2.7h0m0 1.6h0m0 1h0m0 1.3h0m0 1h0m0 1.3h0m.1-3.5h0m0 3.1h0m.1-8.3h0m0 6.9h0m.1-2.3h0m0 .8h0m.1-2h0m0 .6h0m0 3h0m0 .3h0m.2-37.8h0m0 26h0m0 4.6h0m0 .7h0m0 2h0m0 .3h0m0 2h0m.1-18.7h0m0 6.8h0m0 2.6h0m0 3h0m0 5.3h0m0 1.3h0m0 2.2h0m.1-.9h0m0 .3h0m0 .2h0m0 .1h0m0 1.3h0m.1-9.7h0m0 7.8h0m.1-5.2h0m.1-7.6h0m0 12.1h0m0 .5h0m.1-9.7h0m0 9.5h0m0 .7h0m.1-21.2h0m0 6.8h0m0 6.4h0m0 4.6h0m.1-4.5h0m0 2.6h0m0 3h0m0 .2h0m0 .5h0m0 2.9h0m0 .4h0m.1-8.2h0m0 .8h0m0 6.5h0m0 .2h0m.1 0h0m.1-3.7h0m0 1.2h0m0 .3h0m0 1.6h0m.1-11.5h0m0 4.4h0m0 5h0m.1-1.1h0m0 1.8h0m.1-21.9h0m0 4.9h0m0 8.6h0m0 8.2h0m0 1.8h0m0 .3h0m.1-4.5h0m.1-10.7h0m0 2.4h0m0 3.2h0m0 1.4h0m0 6.9h0m0 1.6h0m0 0h0m0 .1h0m.1-1.7h0m0 .1h0m.1 1.9h0m.1-12.1h0m0 9.4h0m.1 .5h0m.1-12.8h0m0 10.2h0m0 2h0m0 2h0m.1-7.6h0m0 7.2h0m.1-10.9h0m0 2.4h0m.1-13.1h0m0 19h0m0 1.2h0m.1-.2h0m0 .2h0m.1-4.5h0m0 3.4h0m0 2.8h0m0 0h0m.1-5.9h0m0 5.7h0m.1-15.1h0m0 14.8h0m0 .5h0m.1-5.4h0m.1-7.6h0m0 9.5h0m.1-10h0m0 8.2h0m0 1.5h0m.1-9.9h0m0 4.8h0m0 5.1h0m0 3.5h0m0 .6h0m.1-22.5h0m0 14.5h0m0 4.4h0m0 .5h0m0 .2h0m.1-5.2h0m0 7.9h0m0 .8h0m.1-11h0m0 6.6h0m0 .8h0m.1-1.4h0m0 3.5h0m.1-11h0m0 9.6h0m.1-7.3h0m0 1.2h0m0 3.9h0m.1-.9h0m0 2.7h0m.1-10h0m0 9.3h0m0 .6h0m.1 1h0m0 1.6h0m0 0h0m.1-7.2h0m0 1.6h0m0 .5h0m0 2.7h0m0 1.5h0m.1-37.3h0m0 33h0m.1-9.6h0m0 15.4h0m.1-17.8h0m0 5.1h0m0 6.8h0m0 3.6h0m.1-11.9h0m0 14.4h0m.1-6.2h0m0 3.5h0m0 1.3h0m0 .6h0m0 .7h0m.1-10.1h0m0 2.4h0m.1-3.2h0m0 6.9h0m0 3.8h0m.1-3.7h0m.1-1.1h0m0 3.1h0m0 .4h0m.1-10.5h0m0 .5h0m0 7h0m0 1.5h0m0 .1h0m0 2.4h0m0 .2h0m.1-11.6h0m0 6.9h0m0 4.6h0m.1-5.4h0m0 3.4h0m0 1.6h0m0 1h0m.1-10h0m.1-13.2h0m0 4.9h0m0 7.5h0m0 7h0m0 3.1h0m0 0h0m.1-10.1h0m0 9.3h0m.1-11.2h0m0 8.3h0m0 2.5h0m0 .4h0m0 1.3h0m.1-15.6h0m0 10h0m0 3h0m0 1h0m0 .4h0m.1-1.9h0m0 1.4h0m0 1h0m0 .2h0m.1-26.2h0m0 20.4h0m0 6.2h0m0 .1h0m.1-1.4h0m0 1.1h0m.1-4.1h0m0 2.9h0m.1-3.7h0m0 .4h0m0 .3h0m0 3.9h0m.1-5.5h0m0 4.8h0m.1-3.1h0m.1-1.2h0m0 3.7h0m0 .5h0m0 .4h0m.1-3.4h0m0 .8h0m0 3.8h0m.1-8.8h0m0 1.3h0m0 1.7h0m0 4.6h0m.1-8.5h0m0 4h0m0 1.1h0m0 4.1h0m.1-4.2h0m0 4.3h0m.1-18.2h0m0 10.3h0m0 4.6h0m0 .4h0m0 1h0m0 .4h0m0 1.7h0m.1-7.3h0m0 5.3h0m0 .1h0m.1-5.9h0m0 7.3h0m.1-3.5h0m0 1.7h0m0 1.2h0m0 .6h0m.1 .4h0m.1-26.4h0m0 14.2h0m0 9.6h0m0 .5h0m.1-2.3h0m.1 2.6h0m0 .9h0m.1-19.2h0m0 12.6h0m0 7.4h0m.1-1.5h0m0 .7h0m0 .7h0m.1-7.8h0m0 4.6h0m.1-11.6h0m.1 5.5h0m0 .1h0m0 3.6h0m0 0h0m0 2.7h0m0 .6h0m0 .6h0m0 1.1h0m.1-4.4h0m0 1.4h0m0 1.1h0m0 .3h0m0 2.5h0m.1-15.1h0m0 13.5h0m0 0h0m.1-4.7h0m0 3.1h0m0 1.5h0m0 1.7h0m.1-8.9h0m0 .1h0m0 2.4h0m0 .2h0m0 2h0m0 3.7h0m.1-6.2h0m0 2.8h0m0 .3h0m0 .6h0m0 1.3h0m.1-24.8h0m0 16.6h0m0 4.6h0m0 1.7h0m0 2.6h0m0 .1h0m.1-18.9h0m0 8.4h0m0 2.8h0m0 6.7h0m.1 .1h0m.1-10.2h0m.1 3.4h0m0 3.9h0m0 4.4h0m.1-3.5h0m0 .8h0m0 2.2h0m.1-13.8h0m0 2.3h0m0 8.8h0m0 2.3h0m.1-6.9h0m0 7.2h0m.1-10.4h0m0 7.1h0m.1-13.2h0m0 9.7h0m0 .3h0m0 5.5h0m.1-1h0m0 .8h0m.1-.5h0m0 2.6h0m.1-22h0m0 21.5h0m.1-17.2h0m0 7.5h0m0 7.3h0m.1-32.5h0m0 21.5h0m0 6.8h0m0 .3h0m.1-1.3h0m0 7.4h0m.1-11.2h0m0 5.4h0m.1 1.6h0m0 .6h0m0 .1h0m0 2.2h0m0 .8h0m0 1.2h0m.1-4.8h0m.1 .2h0m0 .9h0m0 0h0m.1-2.2h0m0 1.5h0m.1 2.1h0m0 2h0m.1-4.6h0m0 3.1h0m.1-30.5h0m.2 25.2h0m0 4.4h0m.1-5.8h0m0 6.1h0m0 1.1h0m0 0h0m.1 .8h0m.1-6.1h0m0 4.7h0m.1-7.9h0m.1 2.6h0m0 .9h0m.1-1.3h0m0 4.7h0m0 1.4h0m0 .5h0m.1-37.1h0m0 31.4h0m0 .4h0m0 4.6h0m0 .2h0m.3-12.4h0m0 5.3h0m.1-5.2h0m0 4.1h0m0 9.1h0m.1-23.9h0m0 17.4h0m0 .7h0m.1-.4h0m0 4.4h0m.2-5.1h0m.1 1.2h0m0 3.2h0m.1-22.6h0m0 23.2h0m.1-1h0m.1-28.9h0m0 22.9h0m0 9h0m.1-4.1h0m.1-.1h0m0 .8h0m0 1h0m.1-7.2h0m0 3.6h0m.1 1.5h0m.1-7.1h0m0 7.7h0m0 .5h0m0 .5h0m0 2.7h0m.1-14.3h0m0 12.6h0m.1 .4h0m.1-33h0m0 29.5h0m0 4.8h0m.1-11.3h0m0 9.1h0m0 .3h0m0 1.8h0m0 .7h0m.1-12.9h0m0 8.6h0m0 1.9h0m0 2.7h0m.1-14.3h0m0 7.6h0m0 5.9h0m.1-12h0m0 5.3h0m.1-16.2h0m0 13.8h0m0 3.8h0m0 4.8h0m.1-12.6h0m0 12.8h0m.1-23.1h0m0 15.5h0m0 1.5h0m0 2.6h0m0 .9h0m0 .7h0m0 1h0m.1-41h0m0 24.2h0m0 7h0m0 1.5h0m0 7.5h0m.1 1.1h0m.1-8.6h0m0 6.9h0m0 0h0m0 1.3h0m.1-27.1h0m0 22.4h0m.1-3.6h0m0 4.5h0m.1-6h0m0 1.8h0m0 2.8h0m0 6.7h0m.1-3.2h0m0 3.1h0m0 .6h0m.1-6.9h0m0 3.7h0m0 .9h0m0 1.8h0m.1-8.6h0m.1-5.6h0m0 6.9h0m0 6.9h0m.1-1.1h0m0 .1h0m0 .5h0m0 .6h0m0 .6h0m.1-11.1h0m0 2.9h0m0 8h0m.1-6h0m0 5.2h0m.1-3.9h0m0 1.5h0m.1 1.2h0m.1-10.2h0m0 5h0m0 3.1h0m.1-4.7h0m0 5h0m0 3h0m0 .2h0m0 .6h0m.1-7.8h0m0 6.3h0m.1-.6h0m0 1.5h0m.1-32.3h0m0 22.4h0m0 .5h0m0 4.9h0m0 .5h0m0 1.8h0m0 2.6h0m.1-9.1h0m0 6.2h0m0 2.7h0m.1-.8h0m.1-10.6h0m0 3.9h0m0 3h0m0 3.5h0m0 1.8h0m.2-31.8h0m0 23.5h0m0 2.4h0m0 .3h0m.1-15.2h0m0 15.1h0m0 2.5h0m0 .8h0m.1-5.7h0m0 3.7h0m0 2.5h0m0 .1h0m.1-13.1h0m0 3.6h0m0 9.3h0m0 .1h0m0 .4h0m0 .2h0m.1-35.6h0m0 35.8h0m0 1h0m.1-31.6h0m0 15.5h0m0 14.9h0m.1-22.1h0m0 15.2h0m0 5h0m0 2.5h0m.1-.5h0m.1-5.2h0m.1-.7h0m0 .1h0m0 6.3h0m0 .1h0m.1-1.4h0m0 .8h0m.1-4.1h0m.1-2h0m0 4.5h0m0 1.4h0m0 1.4h0m0 0h0m.1-18.6h0m0 7.5h0m0 8h0m0 1.1h0m0 1.7h0m.2-6.8h0m0 6.1h0m.1-26.3h0m0 21.8h0m.1-8.7h0m0 3.9h0m0 9.1h0m0 .8h0m.1-33.3h0m0 31.1h0m0 1h0m0 1.4h0m.1-32.2h0m0 29.7h0m0 .2h0m0 0h0m0 1.3h0m0 1.3h0m.1-11.1h0m0 .9h0m0 2.7h0m0 .2h0m.1-1.2h0m0 3.3h0m.1-18.1h0m0 14.9h0m0 5.1h0m.1-16.6h0m0 14.6h0m0 4.5h0m.1-23.6h0m0 14.6h0m0 7.6h0m0 .7h0m.1-16.3h0m.1 8.5h0m.1 3.6h0m0 1.6h0m0 4h0m.1-4.4h0m0 .2h0m.1-3.6h0m0 2.9h0m0 3.7h0m.1-.9h0m0 .2h0m.1-10.8h0m0 7.3h0m0 .7h0m0 .7h0m.1 1.9h0m0 1.5h0m.1-7.1h0m0 2.4h0m0 .3h0m0 1.9h0m0 .5h0m.1 1.3h0m.1-2.2h0m.1-5.3h0m0 3.8h0m.1 2.7h0m.1-4h0m0 1.5h0m0 2.9h0m0 .2h0m0 1.7h0m.1-7.7h0m0 4.8h0m0 .2h0m0 0h0m0 1.9h0m.1-6.4h0m0 1.1h0m.1-11.8h0m0 14.1h0m.1-17.3h0m0 18.6h0m0 1.2h0m0 1.2h0m.2-20h0m0 16.5h0m.1-3.1h0m0 2.8h0m0 1.8h0m0 .4h0m.1-23.3h0m0 21.5h0m0 3.1h0m.1-2h0m.1-2h0m0 .3h0m.1-21h0m0 15.9h0m0 2.3h0m0 6.7h0m.1-7.3h0m.1-2.5h0m0 1.3h0m0 7.6h0m.1-11.4h0m0 10.3h0m.1-1h0m0 .2h0m.1-9.5h0m0 7.9h0m0 2.2h0m.1-1.7h0m0 2.6h0m0 .1h0m.1-35.1h0m0 21.7h0m0 9.6h0m0 .3h0m0 3.8h0m.1-2.9h0m0 .9h0m.1-13.3h0m0 15.2h0m.1-4.4h0m0 4.1h0m.2-24.7h0m0 23.8h0m.1-4.2h0m0 1.7h0m0 .7h0m.1-26.5h0m0 21.6h0m.1 5.3h0m0 .4h0m.1-4.4h0m0 7.5h0m.1-13.1h0m0 6.5h0m0 4.7h0m.1-4.1h0m0 5.3h0m.1-.9h0m.1-.9h0m.1-4.4h0m0 .3h0m0 3.2h0m.1-4.8h0m0 5.3h0m0 1.2h0m0 1.2h0m.1-15h0m0 11h0m.1-5.5h0m0 4.3h0m0 3.8h0m0 1h0m.1-18.9h0m0 12.7h0m0 3.9h0m0 2.5h0m.1-15.3h0m0 9.1h0m0 6.8h0m0 .2h0m.1-4.7h0m.1-7h0m0 5.4h0m0 5.8h0m0 .5h0m0 0h0m.1 .1h0m.2-.6h0m.1-6.2h0m0 6.9h0m.1-10.7h0m0 7.2h0m0 1.6h0m0 1.5h0m.1-30.1h0m0 23.1h0m0 4.4h0m0 1.6h0m.1-10.8h0m0 5.2h0m0 5.6h0m.1-13.3h0m0 13.8h0m.1-12.4h0m0 3.8h0m0 5h0m0 1.8h0m0 1.3h0m.1-9h0m0 7.6h0m.1-14.6h0m0 4.9h0m0 5.8h0m0 3.8h0m0 .2h0m.1-12.9h0m0 6.2h0m0 9.2h0m0 .1h0m.2-9.3h0m.1 4.2h0m.1-.9h0m.1-22.5h0m0 20.1h0m0 8.1h0m.1-1.2h0m.1-24.8h0m0 17.9h0m0 5.8h0m0 2h0m.1-3.9h0m0 .7h0m.1-35.4h0m0 29.6h0m0 5.4h0m0 .4h0m0 1.8h0m.1-20.1h0m0 22.2h0m.1-3.5h0m0 3h0m.1-9.5h0m0 2.7h0m0 2.4h0m0 2.6h0m.2 1.2h0m0 .1h0m.1-2h0m.1-7.7h0m0 3.6h0m0 2h0m0 4.5h0m.1-7.8h0m0 2.5h0m0 2.8h0m0 1.2h0m.1-10.8h0m0 5.2h0m0 4.7h0m0 .6h0m0 1h0m.1-8.5h0m0 4h0m0 1.7h0m.1-6.7h0m0 2.7h0m0 2.1h0m0 2.8h0m0 1.9h0m0 1.2h0m.1-3.9h0m0 1.8h0m.1-19.4h0m0 20.6h0m.1-5.8h0m0 4.2h0m0 .9h0m0 1.3h0m0 .4h0m.1-13.1h0m0 5.7h0m0 2h0m0 2.3h0m0 3h0m.1-4.5h0m0 2.9h0m0 1.7h0m.1-20.8h0m0 10.2h0m0 1.7h0m0 2.7h0m0 .7h0m0 1.2h0m0 3.3h0m.1-7.9h0m0 2.1h0m0 4.8h0m0 1.7h0m.1-2.6h0m0 1.7h0m0 1.1h0m.1-.1h0m.1-9.6h0m0 6.7h0m0 .6h0m0 .7h0m.1-20h0m0 15.8h0m0 3.9h0m0 .2h0m.1-26.2h0m.1 14h0m0 3.6h0m0 5.2h0m.1-.2h0m0 2.5h0m0 1.6h0m.1-9.3h0m0 6.1h0m.1-7h0m0 2.4h0m0 2.8h0m0 5.3h0m.1-1.5h0m0 .4h0m0 .4h0m0 1h0m.1-34.4h0m0 18.2h0m0 14.5h0m0 2.1h0m.1-2.4h0m0 1.1h0m0 .7h0m.1-9.1h0m0 1.3h0m0 8.6h0m.1-12.2h0m0 6.7h0m0 .7h0m0 .5h0m.2-13.4h0m0 .5h0m0 12.1h0m0 2.4h0m.1-1h0m0 0h0m0 .3h0m0 1.3h0m0 1.3h0m.1-1.5h0m.1-11.1h0m0 6.2h0m.1-19.4h0m0 18.3h0m0 4.1h0m.1 2h0m.1-1h0m.1-8.8h0m0 4.5h0m0 2.2h0m0 4.3h0m.1-9.5h0m0 6.5h0m0 1.7h0m.1-28.3h0m0 24h0m0 3.6h0m0 2.3h0m.1-8.5h0m0 .2h0m.1 .9h0m0 .1h0m0 4.8h0m0 1.8h0m0 .2h0m0 .2h0m.1-14.4h0m0 8.3h0m0 .4h0m0 4.7h0m.1-10.1h0m0 2.4h0m0 3.5h0m0 5.2h0m0 .7h0m.1-4.1h0m0 .6h0m0 2.8h0m.1-10.1h0m0 7.7h0m0 3.1h0m.1-5.6h0m0 2.5h0m.1-8.5h0m0 9.4h0m0 2.1h0m.1-5.5h0m0 3.7h0m0 1.1h0m.1-20h0m0 18.2h0m0 1.6h0m0 .1h0m.1-4.7h0m0 .5h0m0 2.7h0m0 .4h0m.1 1.1h0m0 .3h0m.1-1.1h0m.1-14.5h0m0 9.7h0m0 .6h0m0 3.5h0m0 2.3h0m.2-5.4h0m0 2.6h0m.1-.1h0m0 1.7h0m0 .6h0m.1-6.5h0m0 1.1h0m.1 .6h0m0 .2h0m.1 3.1h0m.1-4.6h0m.1 1.9h0m0 2.2h0m0 .9h0" stroke="#a2a2a6" stroke-width="1.9" stroke-linecap="round" fill="none"/><path d="M108 532.9h0m9.9-10.4h0m12.3 2h0m9.9 2.1h0m9.8 4.2h0m19.7 0h0m6.2-2.1h0m19.7-52.1h0m18.5 52.1h0m19.7 0h0m8.6-8.3h0m8.6 8.3h0m16.1 2.1h0m16 0h0m4.9-6.3h0m19.7 8.4h0m4.9-6.3h0" stroke="#b4b4b8" stroke-width="1.7" stroke-linecap="round" fill="none"/><path d="M75.8 591.3V424.4H326.2V591.3" fill="none" stroke="#000" stroke-width="2"/><line x1="68.8" y1="591.3" x2="327.2" y2="591.3" stroke="#000" stroke-width="2"/><line x1="68.8" y1="591.3" x2="75.8" y2="591.3" stroke="#000" stroke-width="2"/><text x="66.3" y="595.9" font-size="13" text-anchor="end" font-weight="bold" stroke="#000" stroke-width="0.12">0</text><line x1="68.8" y1="549.6" x2="75.8" y2="549.6" stroke="#000" stroke-width="2"/><text x="66.3" y="554.2" font-size="13" text-anchor="end" font-weight="bold" stroke="#000" stroke-width="0.12">2</text><line x1="68.8" y1="507.8" x2="75.8" y2="507.8" stroke="#000" stroke-width="2"/><text x="66.3" y="512.4" font-size="13" text-anchor="end" font-weight="bold" stroke="#000" stroke-width="0.12">4</text><line x1="68.8" y1="466.1" x2="75.8" y2="466.1" stroke="#000" stroke-width="2"/><text x="66.3" y="470.7" font-size="13" text-anchor="end" font-weight="bold" stroke="#000" stroke-width="0.12">6</text><line x1="68.8" y1="424.4" x2="75.8" y2="424.4" stroke="#000" stroke-width="2"/><text x="66.3" y="429.0" font-size="13" text-anchor="end" font-weight="bold" stroke="#000" stroke-width="0.12">8</text><line x1="76.0" y1="591.3" x2="76.0" y2="597.5" stroke="#000" stroke-width="2"/><text x="76.0" y="612.8" font-size="13" text-anchor="middle" font-weight="bold" stroke="#000" stroke-width="0.12">0</text><line x1="137.6" y1="591.3" x2="137.6" y2="597.5" stroke="#000" stroke-width="2"/><text x="137.6" y="612.8" font-size="13" text-anchor="middle" font-weight="bold" stroke="#000" stroke-width="0.12">5000</text><line x1="199.2" y1="591.3" x2="199.2" y2="597.5" stroke="#000" stroke-width="2"/><text x="199.2" y="612.8" font-size="13" text-anchor="middle" font-weight="bold" stroke="#000" stroke-width="0.12">10000</text><line x1="260.8" y1="591.3" x2="260.8" y2="597.5" stroke="#000" stroke-width="2"/><text x="260.8" y="612.8" font-size="13" text-anchor="middle" font-weight="bold" stroke="#000" stroke-width="0.12">15000</text><line x1="322.4" y1="591.3" x2="322.4" y2="597.5" stroke="#000" stroke-width="2"/><text x="322.4" y="612.8" font-size="13" text-anchor="middle" font-weight="bold" stroke="#000" stroke-width="0.12">20000</text><text x="47.0" y="513.0" font-size="14" text-anchor="middle" transform="rotate(-90 47.0 513.0)" stroke="#000" stroke-width="0.35">-LOG10 (MAGeCK p value)</text><text x="191.5" y="634.0" font-size="14" text-anchor="middle" stroke="#000" stroke-width="0.35">Genes</text><path d="M97.6 463.4h0m6 42.4h0m4-1.2h0m11.4 27.4h0m7.4-78.6h0m1.2 39.2h0m3.2-39.2h0m1.2 54.6h0m9.2 2.4h0m0 7.6h0m0 15h0m0 2.4h0m0 2.2h0m24.8-84.2h0m14 46.2h0m24.5 33.7h0m27.4-23.1h0m4.5 9.6h0m50.1-31.1h0m.5 50.6h0m15.5-63h0m12.4-8.5h0m.3 21.2h0" stroke="#000" stroke-width="3.7" stroke-linecap="round" fill="none"/><path d="M143.4 507.2H146.6V539.6H143.4M146.6 523.2H148.6" fill="none" stroke="#000" stroke-width="1"/><text x="78.0" y="455.6" font-size="10" font-weight="bold" textLength="43.4" lengthAdjust="spacingAndGlyphs">C11orf57</text><text x="129.2" y="447.0" font-size="10" font-weight="bold" textLength="25.6" lengthAdjust="spacingAndGlyphs">DBR1</text><text x="123.6" y="465.0" font-size="10" font-weight="bold" fill="#c00000" textLength="21.8" lengthAdjust="spacingAndGlyphs">DIS3</text><text x="158.6" y="468.4" font-size="10" font-weight="bold" textLength="40.4" lengthAdjust="spacingAndGlyphs">HNRNPL</text><text x="77.2" y="497.0" font-size="10" font-weight="bold" textLength="37.6" lengthAdjust="spacingAndGlyphs">CCDC12</text><text x="119.2" y="488.0" font-size="10" font-weight="bold" textLength="24.8" lengthAdjust="spacingAndGlyphs">DCPS</text><text x="167.2" y="493.6" font-size="10" font-weight="bold" textLength="32.6" lengthAdjust="spacingAndGlyphs">KPNA2</text><text x="117.6" y="504.4" font-size="10" font-weight="bold" textLength="37.4" lengthAdjust="spacingAndGlyphs">DNAJC2</text><text x="82.0" y="517.4" font-size="10" font-weight="bold" textLength="32.6" lengthAdjust="spacingAndGlyphs">BUD31</text><text x="94.6" y="527.6" font-size="10" font-weight="bold" fill="#c00000" textLength="32.8" lengthAdjust="spacingAndGlyphs">CNOT4</text><text x="152.6" y="522.4" font-size="10" font-weight="bold" fill="#c00000" textLength="64.8" lengthAdjust="spacingAndGlyphs">EXOSC2,4,7,8</text><text x="218.2" y="503.8" font-size="10" font-weight="bold" fill="#c00000" textLength="39.4" lengthAdjust="spacingAndGlyphs">PABPN1</text><text x="188.2" y="543.8" font-size="10" font-weight="bold" fill="#c00000" textLength="32.2" lengthAdjust="spacingAndGlyphs">NCBP2</text><text x="229.6" y="531.7" font-size="10" font-weight="bold" textLength="28.8" lengthAdjust="spacingAndGlyphs">PELP1</text><text x="273.2" y="536.0" font-size="10" font-weight="bold" textLength="23.9" lengthAdjust="spacingAndGlyphs">TAF7</text><text x="273.2" y="549.5" font-size="10" font-weight="bold" textLength="29.8" lengthAdjust="spacingAndGlyphs">TAF10</text><text x="293.9" y="461.5" font-size="10" font-weight="bold" textLength="30.7" lengthAdjust="spacingAndGlyphs">ZCRB1</text><text x="273.8" y="472.0" font-size="10" font-weight="bold" textLength="29.1" lengthAdjust="spacingAndGlyphs">TTC14</text><text x="271.4" y="484.0" font-size="10" font-weight="bold" textLength="23.6" lengthAdjust="spacingAndGlyphs">TAF6</text><text x="287.6" y="501.3" font-size="10" font-weight="bold" fill="#c00000" textLength="36.2" lengthAdjust="spacingAndGlyphs">ZFC3H1</text><text x="10.4" y="636.8" font-size="16.5" stroke="#000" stroke-width="0.35">d</text><text x="50.8" y="721.0" font-size="14" text-anchor="middle" transform="rotate(-90 50.8 721.0)" stroke="#000" stroke-width="0.35">Normalized cell count</text><text x="81.8" y="679.6" font-size="14" stroke="#000" stroke-width="0.35">si<tspan font-style="italic" dx="1.2">CNOT4</tspan></text><rect x="71.6" y="683.6" width="74.0" height="73.4" fill="#fff" stroke="#a6a6a6" stroke-width="0.8"/><line x1="71.6" y1="683.6" x2="71.6" y2="757.0" stroke="#8c8c8c" stroke-width="0.8"/><line x1="71.6" y1="757.0" x2="145.6" y2="757.0" stroke="#8c8c8c" stroke-width="0.8"/><text x="69.4" y="689.2" font-size="6.6" text-anchor="end" font-weight="bold" fill="#111">100</text><text x="69.4" y="703.6" font-size="6.6" text-anchor="end" font-weight="bold" fill="#111">80</text><text x="69.4" y="717.6" font-size="6.6" text-anchor="end" font-weight="bold" fill="#111">60</text><text x="69.4" y="731.8" font-size="6.6" text-anchor="end" font-weight="bold" fill="#111">40</text><text x="69.4" y="745.8" font-size="6.6" text-anchor="end" font-weight="bold" fill="#111">20</text><text x="69.4" y="756.2" font-size="6.6" text-anchor="end" font-weight="bold" fill="#111">0</text><path d="M70.0 686.8h1.6M70.0 701.2h1.6M70.0 715.2h1.6M70.0 729.4h1.6M70.0 743.4h1.6M70.7 686.8h0.9M70.7 689.6h0.9M70.7 692.5h0.9M70.7 695.3h0.9M70.7 698.1h0.9M70.7 701.0h0.9M70.7 703.8h0.9M70.7 706.6h0.9M70.7 709.4h0.9M70.7 712.3h0.9M70.7 715.1h0.9M70.7 717.9h0.9M70.7 720.8h0.9M70.7 723.6h0.9M70.7 726.4h0.9M70.7 729.3h0.9M70.7 732.1h0.9M70.7 734.9h0.9M70.7 737.7h0.9M70.7 740.6h0.9M70.7 743.4h0.9M70.7 746.2h0.9M70.7 749.1h0.9M70.7 751.9h0.9M70.7 754.7h0.9M70.7 757.6h0.9" stroke="#333" stroke-width="0.6" fill="none"/><text x="72.0" y="768.6" font-size="6.6" font-weight="bold" fill="#111">-10<tspan dy="-4.6" dx="-0.3" font-size="6.2">3</tspan></text><text x="86.2" y="768.6" font-size="6.6" font-weight="bold" fill="#111">0</text><text x="97.2" y="768.6" font-size="6.6" font-weight="bold" fill="#111">10<tspan dy="-4.6" dx="-0.3" font-size="6.2">3</tspan></text><text x="117.8" y="768.6" font-size="6.6" font-weight="bold" fill="#111">10<tspan dy="-4.6" dx="-0.3" font-size="6.2">4</tspan></text><text x="133.8" y="768.6" font-size="6.6" font-weight="bold" fill="#111">10<tspan dy="-4.6" dx="-0.3" font-size="6.2">5</tspan></text><path d="M76.6 757.0v1.6M80.1 757.0v1.6M88.6 757.0v1.6M91.1 757.0v1.6M93.6 757.0v1.6M101.6 757.0v1.6M107.6 757.0v1.6M111.6 757.0v1.6M114.6 757.0v1.6M121.6 757.0v1.6M128.6 757.0v1.6M132.1 757.0v1.6M134.6 757.0v1.6M137.6 757.0v1.6M142.6 757.0v1.6M144.6 757.0v1.6" stroke="#333" stroke-width="0.6" fill="none"/><path d="M88.1 758.2h3" stroke="#111" stroke-width="1.4"/><polygon points="100.5,757.0 101.5,748.0 103.5,744.0 106.5,739.0 109.5,728.0 112.1,718.0 114.5,705.0 116.5,696.0 118.1,692.4 119.1,695.0 119.9,693.6 121.1,700.0 122.5,712.0 124.1,728.0 125.5,742.0 127.5,751.0 129.5,755.0 132.5,757.0" fill="#b88cbc" stroke="#6c2c7c" stroke-width="0.7" stroke-linejoin="round"/><polygon points="99.5,757.0 100.5,748.0 102.5,744.0 105.5,739.0 108.5,728.0 111.1,718.0 113.5,705.0 115.5,695.2 117.1,691.6 118.5,694.2 119.3,693.6 120.5,700.0 121.9,712.0 123.5,728.0 124.9,742.0 126.9,751.0 128.9,755.0 131.9,757.0" fill="#aabfab" stroke="#a4eaa4" stroke-width="0.7" stroke-linejoin="round"/><polyline points="119.1,695.0 119.9,693.6 121.1,700.0 122.5,712.0 124.1,728.0 125.5,742.0 127.5,751.0 129.5,755.0 132.5,757.0" fill="none" stroke="#6c2c7c" stroke-width="0.7"/><text x="113.8" y="782.2" font-size="14" text-anchor="middle" stroke="#000" stroke-width="0.35">Opt-mCherry</text><rect x="164.4" y="683.6" width="74.6" height="73.4" fill="#fff" stroke="#a6a6a6" stroke-width="0.8"/><line x1="164.4" y1="683.6" x2="164.4" y2="757.0" stroke="#8c8c8c" stroke-width="0.8"/><line x1="164.4" y1="757.0" x2="239.0" y2="757.0" stroke="#8c8c8c" stroke-width="0.8"/><text x="162.2" y="689.2" font-size="6.6" text-anchor="end" font-weight="bold" fill="#111">100</text><text x="162.2" y="703.6" font-size="6.6" text-anchor="end" font-weight="bold" fill="#111">80</text><text x="162.2" y="717.6" font-size="6.6" text-anchor="end" font-weight="bold" fill="#111">60</text><text x="162.2" y="731.8" font-size="6.6" text-anchor="end" font-weight="bold" fill="#111">40</text><text x="162.2" y="745.8" font-size="6.6" text-anchor="end" font-weight="bold" fill="#111">20</text><text x="162.2" y="756.2" font-size="6.6" text-anchor="end" font-weight="bold" fill="#111">0</text><path d="M162.8 686.8h1.6M162.8 701.2h1.6M162.8 715.2h1.6M162.8 729.4h1.6M162.8 743.4h1.6M163.5 686.8h0.9M163.5 689.6h0.9M163.5 692.5h0.9M163.5 695.3h0.9M163.5 698.1h0.9M163.5 701.0h0.9M163.5 703.8h0.9M163.5 706.6h0.9M163.5 709.4h0.9M163.5 712.3h0.9M163.5 715.1h0.9M163.5 717.9h0.9M163.5 720.8h0.9M163.5 723.6h0.9M163.5 726.4h0.9M163.5 729.3h0.9M163.5 732.1h0.9M163.5 734.9h0.9M163.5 737.7h0.9M163.5 740.6h0.9M163.5 743.4h0.9M163.5 746.2h0.9M163.5 749.1h0.9M163.5 751.9h0.9M163.5 754.7h0.9M163.5 757.6h0.9" stroke="#333" stroke-width="0.6" fill="none"/><text x="165.2" y="768.6" font-size="6.6" font-weight="bold" fill="#111">-10<tspan dy="-4.6" dx="-0.3" font-size="6.2">3</tspan></text><text x="179.4" y="768.6" font-size="6.6" font-weight="bold" fill="#111">0</text><text x="190.4" y="768.6" font-size="6.6" font-weight="bold" fill="#111">10<tspan dy="-4.6" dx="-0.3" font-size="6.2">3</tspan></text><text x="211.0" y="768.6" font-size="6.6" font-weight="bold" fill="#111">10<tspan dy="-4.6" dx="-0.3" font-size="6.2">4</tspan></text><text x="227.0" y="768.6" font-size="6.6" font-weight="bold" fill="#111">10<tspan dy="-4.6" dx="-0.3" font-size="6.2">5</tspan></text><path d="M169.4 757.0v1.6M172.9 757.0v1.6M181.4 757.0v1.6M183.9 757.0v1.6M186.4 757.0v1.6M194.4 757.0v1.6M200.4 757.0v1.6M204.4 757.0v1.6M207.4 757.0v1.6M214.4 757.0v1.6M221.4 757.0v1.6M224.9 757.0v1.6M227.4 757.0v1.6M230.4 757.0v1.6M235.4 757.0v1.6M237.4 757.0v1.6" stroke="#333" stroke-width="0.6" fill="none"/><path d="M180.9 758.2h3" stroke="#111" stroke-width="1.4"/><polygon points="181.0,757.0 181.8,745.0 182.6,728.0 183.6,708.0 184.6,695.0 185.4,691.0 186.4,692.4 187.4,691.6 188.6,693.6 189.8,696.0 191.0,700.0 193.0,709.0 195.0,718.0 197.0,729.0 199.0,739.0 201.0,747.0 203.0,752.0 206.0,755.6 209.0,757.0" fill="#c8f4c8" stroke="#a4eaa4" stroke-width="0.7" stroke-linejoin="round"/><polygon points="181.0,757.0 182.0,745.0 183.0,733.0 184.0,727.0 185.0,722.0 186.0,716.0 187.0,712.4 188.0,714.0 189.0,713.0 190.0,708.0 191.4,702.0 192.6,699.6 194.0,699.0 195.4,694.6 196.6,696.0 197.8,695.0 199.0,698.0 200.4,700.0 201.6,704.0 203.0,709.0 204.4,716.0 206.0,726.0 208.0,737.0 210.0,745.0 212.0,751.0 214.0,755.0 218.0,757.0" fill="#b88cbc" stroke="#6c2c7c" stroke-width="0.7" stroke-linejoin="round"/><polygon points="181.0,757.0 182.0,745.0 183.0,733.0 184.0,727.0 185.0,722.0 186.0,716.0 187.0,712.4 188.0,714.0 189.0,713.0 190.0,708.0 191.4,702.0 192.0,704.0 193.0,709.0 195.0,718.0 197.0,729.0 199.0,739.0 201.0,747.0 203.0,752.0 206.0,755.6 209.0,757.0" fill="#aabfab"/><polyline points="193.0,709.0 195.0,718.0 197.0,729.0 199.0,739.0 201.0,747.0 203.0,752.0 206.0,755.6 209.0,757.0" fill="none" stroke="#a4eaa4" stroke-width="0.6"/><polyline points="181.0,757.0 182.0,745.0 183.0,733.0 184.0,727.0 185.0,722.0 186.0,716.0 187.0,712.4 188.0,714.0 189.0,713.0 190.0,708.0 191.4,702.0" fill="none" stroke="#7a6a80" stroke-width="0.6"/><text x="201.4" y="782.2" font-size="14" text-anchor="middle" stroke="#000" stroke-width="0.35">wtGFP</text><text x="258.2" y="724.0" font-size="14" text-anchor="middle" transform="rotate(-90 258.2 724.0)" stroke="#000" stroke-width="0.35">Opt-mCherry</text><rect x="281.0" y="683.6" width="73.4" height="73.6" fill="#fff" stroke="#a6a6a6" stroke-width="0.8"/><line x1="281.0" y1="683.6" x2="281.0" y2="757.2" stroke="#8c8c8c" stroke-width="0.8"/><line x1="281.0" y1="757.2" x2="354.4" y2="757.2" stroke="#8c8c8c" stroke-width="0.8"/><text x="278.0" y="694.2" font-size="6.6" text-anchor="end" font-weight="bold" fill="#111">10<tspan dy="-4.6" dx="-0.3" font-size="6.2">5</tspan></text><text x="278.0" y="712.4" font-size="6.6" text-anchor="end" font-weight="bold" fill="#111">10<tspan dy="-4.6" dx="-0.3" font-size="6.2">4</tspan></text><text x="278.0" y="732.4" font-size="6.6" text-anchor="end" font-weight="bold" fill="#111">10<tspan dy="-4.6" dx="-0.3" font-size="6.2">3</tspan></text><text x="274.2" y="744.2" font-size="6.6" text-anchor="end" font-weight="bold" fill="#111">0</text><text x="278.0" y="756.9" font-size="6.6" text-anchor="end" font-weight="bold" fill="#111">-10<tspan dy="-4.6" dx="-0.3" font-size="6.2">3</tspan></text><path d="M279.6 686.6h1.4M279.6 689.1h1.4M279.6 692.4h1.4M279.6 697.6h1.4M279.6 701.6h1.4M279.6 704.6h1.4M279.6 707.1h1.4M279.6 710.6h1.4M279.6 716.6h1.4M279.6 721.6h1.4M279.6 725.1h1.4M279.6 728.1h1.4M279.6 730.6h1.4M279.6 735.6h1.4M279.6 738.6h1.4M279.6 742.6h1.4M279.6 746.6h1.4M279.6 749.6h1.4M279.6 754.6h1.4" stroke="#333" stroke-width="0.6" fill="none"/><path d="M279.6 741.2v3" stroke="#111" stroke-width="1.4"/><text x="282.6" y="768.8" font-size="6.6" font-weight="bold" fill="#111">-10<tspan dy="-4.6" dx="-0.3" font-size="6.2">3</tspan></text><text x="296.8" y="768.8" font-size="6.6" font-weight="bold" fill="#111">0</text><text x="307.8" y="768.8" font-size="6.6" font-weight="bold" fill="#111">10<tspan dy="-4.6" dx="-0.3" font-size="6.2">3</tspan></text><text x="328.4" y="768.8" font-size="6.6" font-weight="bold" fill="#111">10<tspan dy="-4.6" dx="-0.3" font-size="6.2">4</tspan></text><text x="344.4" y="768.8" font-size="6.6" font-weight="bold" fill="#111">10<tspan dy="-4.6" dx="-0.3" font-size="6.2">5</tspan></text><path d="M286.0 757.2v1.6M289.5 757.2v1.6M298.0 757.2v1.6M300.5 757.2v1.6M303.0 757.2v1.6M311.0 757.2v1.6M317.0 757.2v1.6M321.0 757.2v1.6M324.0 757.2v1.6M331.0 757.2v1.6M338.0 757.2v1.6M341.5 757.2v1.6M344.0 757.2v1.6M347.0 757.2v1.6M352.0 757.2v1.6M354.0 757.2v1.6" stroke="#333" stroke-width="0.6" fill="none"/><path d="M297.5 758.4h3" stroke="#111" stroke-width="1.4"/><path d="M296.7 721.1h0m.6-2.9h0m.1 1h0m.6 5.6h0m.5-5.3h0m.6-5.4h0m.2 4.7h0m0 8.1h0m.1-6.9h0m0 6.7h0m.2-6.7h0m.1-5.7h0m.1 7.5h0m0 2.8h0m.2-.9h0m.1-3h0m0 4.4h0m.3-1.6h0m0 1.8h0m.2-7.8h0m0 6.7h0m0 .6h0m.2-6.1h0m.1-3.2h0m0 10.3h0m.1-11.8h0m0 8.1h0m.1-4.3h0m0 9.1h0m.7-10.4h0m.2 8.2h0m.1-4.5h0m.1-13h0m0 18.3h0m.4-3.5h0m.2-2.7h0m.1-4.6h0m.2 5.6h0m0 1.3h0m.1-2.5h0m.3 1.5h0m.3-8.4h0m.3-.6h0m.1 1.3h0m.2 3.2h0m.2-.9h0m0 3.9h0m0 1.4h0m0 .3h0m.1-8.7h0m0 5.1h0m.1-1h0m.1-1.5h0m0 2.5h0m0 .2h0m.3-2.3h0m.1 2.7h0m0 2.6h0m0 2.7h0m.1-5.3h0m.1-.1h0m.2-4.8h0m0 5.9h0m0 1.2h0m.1-13h0m0 .4h0m0 5.8h0m.1 9.1h0m.1-11.8h0m.2 1h0m.3 2.7h0m.3-12h0m.2 11.5h0m.1 .2h0m0 1.9h0m.1 .6h0m.1-8.6h0m.2 8.6h0m.1-7.8h0m.1 3.3h0m0 7.3h0m.3-16.3h0m0 2.5h0m0 3.5h0m0 6h0m.2-1.1h0m.1-1.3h0m.6-1.7h0m.3 3.2h0m.1-3.6h0m0 10.7h0m.1-6.5h0m0 7.9h0m.3-13.3h0m.2 .7h0m0 9.1h0m.1-11.3h0m0 2.1h0m0 4.3h0m.5 4.9h0m.1-13.4h0m.1 8h0m.1-1.6h0m.3 0h0m0 2.1h0m.2-3.5h0m.1 .1h0m.3-3.7h0m.1-1.9h0m.1-3.7h0m0 12.9h0m.5-7.5h0m.2 4.4h0m.3-1.3h0m0 10.5h0m.1-17.9h0m.3 1h0m0 5.9h0m.4-4.7h0m0 .3h0m.2 .2h0m.3 6.3h0m.2-6.3h0m.1 .1h0m.1 2.1h0m0 1.7h0m.4-1.2h0m.2 6.1h0m.2-11.4h0m0 1.4h0m0 4.4h0m.2-2.3h0m.3-2.4h0m.1 6.7h0m0 2h0m.9-10.6h0m0 5.3h0m.1 5.2h0m.4 2.4h0m.2-5.7h0m0 1.6h0m.5-3.9h0m.2-5.2h0m.1 9.4h0m.2-7.8h0m.5-2.3h0m0 3.6h0m.4 1h0m.1 1h0m.4-5.5h0m.2 6.6h0m.1 1h0m1-3.4h0m.2 5.9h0m1.1 1.3h0m1.3-8.4h0m.6 2.9h0" stroke="#5e1a66" stroke-width="0.5" stroke-linecap="round" fill="none" opacity="0.75"/><path d="M297.9 722h0m.4 .4h0m0 .9h0m0 .4h0m.2-1.5h0m0 .7h0m.1-1.4h0m0 .2h0m.1 0h0m0 2h0m.1-2h0m.1-.6h0m.1 2.8h0m.1-4.8h0m0 2.6h0m0 1.6h0m0 0h0m0 1.3h0m0 .5h0m.2-4.7h0m.2-.1h0m0 3h0m.1-2h0m.1-1.5h0m0 .5h0m0 2.3h0m.1-3.6h0m0 3.7h0m0 .2h0m0 1.2h0m.1-6.7h0m0 2.4h0m0 3.8h0m.1-2.1h0m0 .9h0m.1-3.8h0m0 2h0m0 1.9h0m0 2.7h0m.1-2.3h0m.1-4h0m0 2.8h0m0 2.3h0m0 .8h0m.1-6.3h0m0 1.1h0m.1-2.4h0m0 1.6h0m0 .8h0m0 .1h0m0 .6h0m0 .8h0m0 .1h0m0 .6h0m0 .5h0m0 3.4h0m.1-9.4h0m0 2.2h0m0 2.1h0m0 2.8h0m0 .1h0m0 .9h0m.1-4.5h0m0 1.7h0m0 1.6h0m0 1.8h0m0 .4h0m.1-6.5h0m.1 .4h0m0 .9h0m0 .5h0m0 .9h0m.1-3.6h0m0 1.6h0m0 2h0m.1-4h0m0 .3h0m0 .6h0m0 .9h0m0 .2h0m0 2.5h0m.1-2.8h0m0 3h0m.1-5.2h0m0 .2h0m0 .9h0m0 2.1h0m0 .4h0m0 .4h0m0 .7h0m0 .1h0m0 1h0m0 0h0m0 1h0m.1-4.1h0m0 0h0m0 1.6h0m0 .9h0m0 .4h0m.1-5.5h0m0 3.2h0m0 1.9h0m0 1.3h0m0 0h0m.2-6h0m0 .1h0m0 1.7h0m0 .1h0m0 .1h0m0 .2h0m0 3.2h0m.1-4.2h0m0 1.7h0m0 2.9h0m.1-3.6h0m0 1.4h0m0 1.7h0m0 .3h0m.1-6.8h0m0 .5h0m0 2.2h0m0 .7h0m0 0h0m0 1.3h0m.1-2.6h0m0 2h0m0 3.3h0m0 .1h0m.1-6.4h0m0 .6h0m0 1.5h0m0 1.6h0m0 2.5h0m.1-9h0m0 2.6h0m0 1h0m0 1.7h0m0 .8h0m0 2.5h0m.1-7.7h0m0 .9h0m0 1.7h0m0 1.4h0m0 3.1h0m.1-5.2h0m0 .3h0m0 1h0m0 .2h0m0 2.8h0m.1-6.7h0m0 .6h0m0 3.4h0m0 .1h0m0 0h0m0 1.6h0m0 .5h0m0 1.5h0m.1-7.8h0m0 .7h0m0 1.2h0m0 .8h0m.1-1.5h0m0 .9h0m0 1.3h0m.1 2.5h0m0 1.1h0m.1-7h0m0 .6h0m0 1.2h0m0 1.6h0m0 .9h0m0 1.5h0m0 .9h0m0 3.1h0m.1-5.3h0m0 2.2h0m.1-6.5h0m0 .5h0m0 1.3h0m0 1.8h0m.1-3.7h0m0 3.5h0m0 2h0m0 .7h0m.1-5.5h0m0 1h0m0 .4h0m0 3.9h0m.1-6.7h0m0 1h0m0 2.9h0m0 .8h0m0 .5h0m.1-2.4h0m.1-.8h0m0 1.5h0m0 .6h0m0 .6h0m0 1.7h0m0 .2h0m.1-6.7h0m0 4.2h0m.1-4.4h0m.1-2.1h0m0 4.9h0m0 1h0m0 .1h0m0 .8h0m.1-5.2h0m0 .4h0m0 3.6h0m0 1.2h0m.1-5.2h0m0 .1h0m0 1h0m0 .6h0m0 2h0m0 .7h0m0 .6h0m0 1.5h0m.1-2.6h0m0 .1h0m0 1.6h0m.1-5.7h0m0 2.1h0m0 .1h0m0 .4h0m0 .4h0m0 1.7h0m.1-5.1h0m0 2.9h0m0 0h0m0 .4h0m0 1.1h0m0 .1h0m0 .5h0m0 .6h0m0 1h0m.1-7.7h0m0 .8h0m0 .1h0m0 3.3h0m0 .1h0m0 3.5h0m.1-6.2h0m0 3h0m0 .7h0m0 .8h0m.1-5h0m0 .1h0m0 .7h0m0 3.7h0m0 .9h0m0 1.9h0m.2-8.1h0m0 2.6h0m0 0h0m0 .1h0m0 7.9h0m.1-10.3h0m0 3h0m0 0h0m0 1.4h0m0 .9h0m.1-2.2h0m0 .3h0m0 1.2h0m0 1.1h0m.1-5.5h0m0 1.5h0m0 1.8h0m0 4.6h0m.1-4.8h0m0 1.8h0m0 .1h0m.1-5.6h0m0 1.4h0m0 1.7h0m0 1.5h0m0 1h0m.1-5.4h0m0 .8h0m0 1.6h0m0 1.4h0m0 .4h0m0 .1h0m0 .7h0m0 .8h0m.1-3.6h0m0 1h0m0 .7h0m0 .5h0m0 0h0m.1-.3h0m0 .1h0m0 .6h0m.1-5.6h0m0 2h0m0 1.5h0m0 .9h0m.1-4.7h0m0 4.4h0m.1-4.3h0m0 1.9h0m0 .3h0m0 1.6h0m0 .9h0m0 .9h0m.1-5.6h0m0 2.6h0m0 .5h0m0 .6h0m0 1.8h0m.1-4.6h0m0 .9h0m0 .6h0m0 .1h0m0 1.2h0m0 .1h0m0 .8h0m0 1.4h0m.1-5.2h0m0 .9h0m0 .5h0m.1 .1h0m0 1h0m0 .1h0m.1-4h0m0 .1h0m0 2.2h0m0 2h0m.1-3h0m0 1.7h0m0 .7h0m.1-3h0m0 2h0m0 3.4h0m.1-2.6h0m0 .8h0m0 .2h0m.1-4.1h0m0 1.4h0m0 .3h0m0 .4h0m0 .1h0m0 .1h0m0 .1h0m0 .3h0m0 2.6h0m.1-2.8h0m.1-3.4h0m0 1.9h0m0 .1h0m0 1.6h0m0 1.8h0m0 .7h0m.1-5.1h0m0 2.3h0m0 2h0m.1 .2h0m0 1.3h0m0 0h0m.1-7.2h0m0 5.1h0m0 .4h0m0 .4h0m.1-4.8h0m0 .5h0m0 4h0m.1-5.8h0m0 .6h0m.1 1.6h0m0 1.4h0m0 1.3h0m0 .8h0m.1-5.2h0m0 2h0m0 .9h0m0 1.1h0m0 .5h0m0 0h0m.2-.4h0m0 .3h0m0 .8h0m.1-4.6h0m0 3.2h0m.1-3.6h0m0 2.6h0m0 1.6h0m0 .1h0m0 .3h0m.1-6h0m0 2.1h0m0 .3h0m0 3h0m0 .1h0m0 .1h0m0 .5h0m.2-4h0m0 .8h0m0 .3h0m.1-2.3h0m0 .5h0m0 .5h0m0 1.2h0m0 1h0m0 .8h0m.1-2.3h0m0 1.3h0m0 .9h0m0 .2h0m.1-4.9h0m0 1h0m0 0h0m0 1h0m0 .4h0m0 .4h0m0 0h0m0 1.4h0m0 .5h0m0 0h0m.1-2.9h0m0 1.9h0m.1-2.7h0m0 .3h0m0 .1h0m0 1.5h0m0 .6h0m0 .6h0m.1-1.9h0m0 1.5h0m0 1.4h0m.1-6h0m0 2.6h0m0 .9h0m.1-3h0m0 3.1h0m0 2.1h0m0 2.9h0m.1-7.4h0m0 .1h0m0 1.1h0m0 1.3h0m0 1.2h0m.1-3.8h0m0 4.1h0m.1-.2h0m.1-4.5h0m0 .9h0m0 1h0m.1 1h0m.1-.1h0m0 .1h0m.1-1.6h0m0 1.8h0m.1-4.8h0m0 .5h0m0 1.3h0m0 1h0m0 .4h0m0 .6h0m0 2.1h0m0 .1h0m0 .1h0m.1-5.2h0m0 3.3h0m0 1h0m.1-.2h0m.1-3.7h0m0 .8h0m0 1.6h0m0 .3h0m0 .3h0m0 .5h0m0 .4h0m.1-3.6h0m0 4.2h0m.1-2.1h0m0 .7h0m.1-1h0m0 2h0m.2-3.9h0m0 1h0m0 1.6h0m.1-2h0m.1-.7h0m0 .6h0m0 1.4h0m0 1.6h0m.1-2.3h0m0 1.8h0m.1-6.5h0m0 3.4h0m0 1.1h0m0 1.1h0m.1-2.2h0m0 1.6h0m0 .6h0m.1-3.9h0m0 1.8h0m0 3.4h0m0 0h0m.1-2.9h0m.1-2h0m0 5h0m.1-.9h0m0 0h0m.2-5h0m0 1.9h0m.1-.8h0m.1 3.5h0m0 .8h0m.1-5.3h0m0 1.4h0m0 2.3h0m0 2.9h0m.1-6.1h0m0 2.9h0m0 1.1h0m.1-2.9h0m0 0h0m0 .3h0m0 .2h0m0 .1h0m.1-2.3h0m0 .6h0m0 .2h0m0 .4h0m0 2.7h0m.1-3.1h0m0 1.9h0m0 .3h0m.1-3h0m0 .9h0m0 1.2h0m0 .1h0m.1-1.4h0m0 .2h0m.1 3.5h0m.1-3.9h0m0 .7h0m0 .1h0m0 .3h0m0 2.8h0m.1-4.3h0m0 .7h0m0 1.8h0m.1-3.4h0m0 .1h0m0 3.1h0m0 .2h0m.1-3.2h0m0 2h0m0 .6h0m0 1h0m0 1.1h0m.1-6.3h0m0 1.7h0m0 .7h0m.1 0h0m0 .1h0m0 .4h0m0 2.5h0m.1-3.1h0m.1-1.3h0m0 .3h0m0 .2h0m0 2.8h0m0 .9h0m.1-3.7h0m0 2.6h0m0 1.5h0m.1-1.2h0m0 .8h0m.1-4.6h0m0 1.3h0m0 .4h0m0 1.4h0m0 1.8h0m.2-4.9h0m0 .5h0m0 .2h0m0 1.7h0m0 .5h0m0 .9h0m0 .2h0m.1 0h0m.1-2.8h0m0 .7h0m.1-1.4h0m0 .8h0m0 .1h0m.1-1.2h0m0 2.1h0m.1-1.4h0m0 .6h0m0 .4h0m0 2.5h0m0 .8h0m.1-4.8h0m0 1.1h0m0 .6h0m.1-2.4h0m0 .1h0m0 0h0m0 2.1h0m.1-1.4h0m0 3.2h0m.1-1.1h0m.1-1.2h0m0 .8h0m0 .7h0m0 .6h0m0 .7h0m.1-3.2h0m0 2.1h0m0 .8h0m.1-.7h0m.1-2.3h0m0 .6h0m0 .4h0m0 1.5h0m0 .8h0m.1-1h0m.1-2.1h0m.1-1.5h0m0 1.1h0m0 2h0m.1-4.5h0m0 2.3h0m0 0h0m0 2.9h0m.1-4.5h0m.1 3.5h0m0 .4h0m0 .3h0m.1-3.7h0m0 1.3h0m0 .2h0m.1-2.4h0m0 4h0m0 1.6h0m.1-4h0m0 .5h0m0 .7h0m0 2h0m.1-1.5h0m0 2.8h0m0 .2h0m.1-5.2h0m0 1h0m0 1h0m0 .8h0m.1-.3h0m0 .3h0m.1-4.2h0m0 1.2h0m0 3.2h0m0 .4h0m.1-.9h0m.1-2.7h0m0 1.3h0m0 2h0m0 .5h0m.1-2.6h0m0 1.4h0m0 1.4h0m.1-3.8h0m0 .2h0m.1-1h0m.1 1.6h0m.1-1.4h0m.1-1h0m0 4.2h0m.1-1.7h0m0 2.4h0m.1-1.9h0m0 2h0m.1-3.5h0m0 2.3h0m.2 .1h0m0 .3h0m.1-3.1h0m0 2.9h0m.1 .3h0m.1-4.8h0m0 4h0m0 .1h0m0 2.2h0m.5-3.6h0m0 .3h0m.2-1.5h0m.1 3.2h0m.1-.5h0m.2-1.5h0m.1 2.5h0m.3-1.8h0m0 0h0m.2 .7h0m.3-.6h0" stroke="#a4f4a4" stroke-width="0.9" stroke-linecap="round" fill="none"/><polygon points="298.1,727.0 298.1,720.0 302.5,712.0 309.5,706.0 318.3,703.8 319.6,706.0 313.9,711.3 306.9,719.0 302.5,726.6" fill="#a4f4a4"/><path d="M298.7 725.7h0m3.5 1.2h0m.8-2.1h0m.2-2.6h0m.1 .6h0m0 4.3h0m0 .4h0m.2-3.9h0m.1 1.6h0m.1-2.6h0m0 2h0m0 2.5h0m.1-.1h0m.2-2.1h0m0 1.7h0m.3-.1h0m.2-10.3h0m0 3.5h0m.1-.2h0m.1 5.5h0m.1-5h0m.1-.1h0m.2 3.6h0m0 1.5h0m0 1.1h0m.1-4.9h0m.1 .9h0m.4-3.6h0m.1 5.2h0m.1-6.8h0m.1 7.3h0m.1-2.8h0m0 1.2h0m0 2.2h0m.1-2.3h0m.1 4.4h0m.1-12.1h0m.1 .7h0m.1-1.6h0m0 6.2h0m.1 5h0m.1-.9h0m.1-3.7h0m.1-4.6h0m0 7.4h0m0 3.3h0m.1-4.1h0m.1-4.5h0m0 2h0m.1-7h0m.1 7.4h0m.3 5.1h0m.1-2.9h0m0 1.9h0m.1 1.2h0m.1-4.1h0m0 .6h0m.1 5.4h0m.1-9.1h0m0 4.6h0m0 2.6h0m0 .8h0m.2-11.1h0m0 2.6h0m.1-3.9h0m0 10.2h0m.1-3.1h0m.1-5.3h0m.1 3.4h0m.3 4.8h0m0 1.4h0m.2-10.1h0m0 .7h0m.3 7h0m0 0h0m0 .5h0m.2-11.3h0m0 5.6h0m.1-5.3h0m0 7.2h0m.1-6.9h0m.2 .3h0m0 0h0m0 10.3h0m.1-7.6h0m.1 8.5h0m.1-2.8h0m.1-4.1h0m0 4.7h0m.1 .4h0m.1-3.5h0m.1-2.5h0m.1 .1h0m.1-2.2h0m.1 9h0m.1-1.5h0m.1-9.9h0m0 .6h0m0 7.7h0m0 1.7h0m0 3.2h0m0 2.5h0m.2-19.2h0m0 3.7h0m0 1.9h0m0 2.2h0m.1-2.3h0m.1 .2h0m.1-.4h0m0 3.9h0m.3-4.8h0m.2 8.2h0m0 1.1h0m.1-6.6h0m0 4.8h0m.1-2h0m.1-5.1h0m.1-2.1h0m0 5h0m.2 2.3h0m.1-2.3h0m.1-.2h0m0 8.7h0m.1-14.8h0m0 .6h0m0 1h0m.1-3.4h0m0 12.9h0m.1-4.1h0m.1-.6h0m0 3.5h0m.1-3.7h0m.1 3h0m.1-6.2h0m0 1.4h0m.1-4.8h0m0 6.9h0m0 4.8h0m.2-10.8h0m0 3h0m.1-.4h0m.1 2h0m0 1.3h0m.1-2.4h0m0 .6h0m.1 8h0m.2-13.1h0m0 .4h0m0 .8h0m0 13.4h0m.2-10.1h0m.1 .2h0m.2 2.8h0m0 2.9h0m.1-12.5h0m0 8.8h0m.3-6h0m0 1.1h0m0 3.3h0m0 3.2h0m0 2.1h0m.2-11.3h0m0 3.6h0m0 .3h0m.1 7.3h0m.3-2.9h0m.2-5.2h0m0 4.6h0m.2-7.6h0m0 4.9h0m.3-3.7h0m.1 3.5h0m.1-7.7h0m.1 2.6h0m0 2.1h0m.1 3.2h0m.1-4h0m.1-1.5h0m.3-3.8h0m.1 8.2h0m0 4.6h0m.1-10.2h0m.1 4.6h0m0 .9h0m.1-4.9h0m0 .5h0m.2 5.8h0m.1-8.8h0m0 .4h0m0 9.9h0m.1-7.6h0m0 7.5h0m0 2.4h0m.1-4.1h0m.1-9.1h0m.1 5.1h0m0 .5h0m.1-4h0m0 2h0m0 .9h0m.1-4.7h0m0 3.5h0m.2-1.5h0m0 9.7h0m.1-13.6h0m0 3.4h0m.2 5.6h0m.1-4.5h0m.1 5h0m.1-7.5h0m.1 5.8h0m.1-4.1h0m0 2.9h0m.1-7.3h0m0 12.3h0m.2-9.1h0m0 1.7h0m.1 7.8h0m.1-4.4h0m.1-5.9h0m.2-10.6h0m0 11.5h0m.1 7.5h0m.1-5.4h0m0 6.9h0m.1-4.9h0m.1-1.3h0m.4-7.6h0m0 8.9h0m.1-6.4h0m0 14.4h0m.1-18.9h0m0 2.2h0m.1 8h0m0 2.5h0m.2-6.9h0m0 1.3h0m.1-2.1h0m.1 1h0m0 .6h0m.1-3.6h0m0 3.3h0m0 11.7h0m.1-13.6h0m0 4.3h0m0 .8h0m0 3.1h0m.1-.5h0m.2-13.1h0m.1 8h0m.1-1.9h0m.1-3.9h0m.2-3.3h0m0 11.7h0m.4-2.2h0m.1-4.8h0m0 2.6h0m0 5.6h0m.1-6.3h0m0 1h0m.1 2.8h0m.1-2.6h0m0 3.2h0m.3-7.4h0m.1-2.6h0m.2 .6h0m0 5.9h0m.2 2.2h0m.2-4.1h0m.1-.8h0m0 2.2h0m0 .1h0m.1 2.7h0m0 .8h0m.1 .3h0m.2-7.6h0m.2 5.2h0m0 1.9h0m.1-11.1h0m.1 5.9h0m0 7.7h0m.1-9.3h0m0 4.4h0m0 .8h0m0 2.4h0m.1-2h0m.2-8.1h0m0 1h0m.1 0h0m.2 4.6h0m.5-2.2h0m.1 6.5h0m.1-14.3h0m.1 .9h0m0 4.2h0m0 2.7h0m.1 3h0m.1-3.3h0m0 1.4h0m0 2.9h0m0 1.1h0m.1-6.9h0m.1-2.9h0m0 9.9h0m.2-3.4h0m.4 2.2h0m.3-5.6h0m.1-3.8h0m.3 7.3h0m.4-2.1h0m.1-2.5h0m0 1.1h0m0 .3h0m.2 6h0m.1-6.1h0m0 7h0m.1-7.5h0m.1 6.5h0m.1 4h0m.1-10h0m.2 5.5h0m.2-.5h0m.4 3.1h0m.1-6.5h0m1.2-7.3h0m.6 5.3h0m.2 3.6h0" stroke="#5e1a66" stroke-width="0.5" stroke-linecap="round" fill="none" opacity="0.8"/><path d="M299.3 722.3h0m3.8 .2h0m0 3.1h0m.5-1.5h0m.2 .4h0m.2 .9h0m.2-1.8h0m.5-1.7h0m0 2.2h0m0 .7h0m.1-1.3h0m0 3.4h0m.2-2.6h0m.1-1.3h0m.1 1.2h0m0 .8h0m.1 1.3h0m0 0h0m.2-4h0m.2 .2h0m0 2.1h0m.1-.2h0m0 .9h0m0 .4h0m.2 0h0m0 1h0m.1-1.8h0m0 .9h0m0 .2h0m.1-2.3h0m0 .8h0m0 .1h0m0 .6h0m0 2h0m0 .1h0m.1-1.4h0m0 .4h0m.1-.3h0m0 .2h0m.1-1.2h0m.1-.5h0m.1-2.8h0m0 2.1h0m.1 .2h0m0 .1h0m0 1.6h0m.2-5.2h0m0 .1h0m0 3.3h0m0 1.8h0m.1-2.6h0m.2-2.9h0m0 3h0m0 .2h0m.1-1.7h0m0 2.4h0m0 .1h0m.3-1.1h0m0 2.6h0m.1-2.1h0m.1 0h0m.1-6.5h0m0 5.4h0m.1-3.1h0m0 1.1h0m.1-.2h0m0 6.1h0m0 .6h0m.1-7.6h0m.2 4.4h0m.2-3.7h0m0 1.5h0m0 1.8h0m0 1.1h0m.1-7.4h0m0 5.8h0m.2-3h0m0 1.8h0m0 1.2h0m.1-2h0m0 1.8h0m.1-4.9h0m0 3.8h0m0 2.8h0m.1-6.8h0m0 3.3h0m0 2h0m0 1.8h0m.1-4.4h0m0 1.6h0m.1-1.7h0m0 3.7h0m.1-6.9h0m0 4.1h0m.1 .6h0m.1-4.7h0m0 2h0m0 3.1h0m0 1.2h0m0 .3h0m.1-7.1h0m.1 2.5h0m0 .9h0m.1-3.6h0m0 3.5h0m0 .5h0m0 .6h0m0 1.9h0m.1-7h0m0 3.5h0m0 2.4h0m.1 0h0m0 .4h0m.1-1.8h0m0 1.2h0m.1-5.3h0m0 1.4h0m.1 2.5h0m0 2.3h0m.2-5.7h0m0 1.3h0m0 1.4h0m0 .7h0m0 2.5h0m.1-4.9h0m0 .8h0m0 .6h0m0 .6h0m.1-3.5h0m0 2.4h0m0 .4h0m.2-3.3h0m0 3.4h0m.1-4.4h0m0 .7h0m0 1h0m0 6.7h0m.2-4.6h0m0 3.5h0m.1-5.6h0m0 .1h0m0 1.3h0m0 3.3h0m.1-.7h0m.1-4.7h0m0 4h0m0 1h0m.1-8.6h0m0 5.4h0m0 0h0m0 1.1h0m.2-.2h0m0 .5h0m.2-2.9h0m0 3.6h0m.1-5h0m0 1h0m0 0h0m0 1.5h0m0 3.4h0m.1 1h0m.1-9h0m0 2.2h0m0 5.6h0m0 .2h0m0 .1h0m.1-5.3h0m.1-2.9h0m.1 3.1h0m0 .4h0m0 .4h0m0 1.6h0m0 .7h0m.1-4.6h0m0 5.6h0m.1-2.3h0m.1-7.3h0m0 3.9h0m0 1.7h0m0 .4h0m0 .1h0m0 .3h0m.1-3.1h0m0 2.2h0m.1 1.7h0m.1-1.2h0m.1-7.4h0m0 9.1h0m0 1.1h0m.1-4.3h0m0 1.6h0m.1-.1h0m0 1.1h0m.1-8.5h0m0 2.7h0m0 2.7h0m.1 .2h0m.1 1.2h0m0 .4h0m0 .3h0m0 1.3h0m.1-1.2h0m.1-2h0m0 .2h0m.1-1.4h0m0 1.4h0m0 .5h0m.1-4.2h0m0 2.4h0m0 .8h0m0 .8h0m0 0h0m0 3.2h0m.3-3.5h0m0 6.6h0m.2-4.2h0m.1-4.7h0m0 1.5h0m0 1h0m.1-3.3h0m0 6.4h0m.2 2.5h0m.1-8.6h0m0 8.1h0m.1-7.9h0m.1 .5h0m.1-2.9h0m0 1.7h0m0 1.1h0m0 3.4h0m.1-.6h0m.1 3.4h0m.1-9.2h0m0 4.7h0m.1-3.6h0m0 .7h0m.1 8.9h0m.1-10.6h0m0 2.9h0m0 2.6h0m.1-4.5h0m0 4.3h0m.1-6.3h0m0 2.4h0m.1-2.5h0m0 4.6h0m.1-3.5h0m0 .2h0m.1 7.7h0m.1-10.2h0m.1 8.8h0m0 .8h0m.1-5.9h0m0 4.7h0m.1-3.7h0m.1 .3h0m0 2.5h0m.1-.2h0m.1-3.1h0m0 5.1h0m.1-2.2h0m.1-11.2h0m0 6.2h0m0 1.9h0m0 .4h0m.1-1.6h0m0 3.8h0m.1-3.3h0m0 .5h0m0 2.2h0m.1-3.4h0m0 2h0m0 1h0m0 2.5h0m.1-4.7h0m0 2.2h0m0 2.9h0m0 1.3h0m.1-10.1h0m0 5.9h0m0 2.5h0m.1-2.3h0m0 4.2h0m.1-9.8h0m0 .6h0m0 1.2h0m0 2.8h0m0 2.9h0m.2-7h0m.1 1.9h0m0 4h0m.1-5.2h0m0 1.1h0m0 1.2h0m0 .4h0m0 0h0m.3-4.2h0m0 5.6h0m0 1.5h0m.2-7.2h0m0 2h0m0 1h0m0 2.7h0m0 1.9h0m.1-7.7h0m0 4.7h0m.1-11.4h0m0 8.7h0m0 1.5h0m.1-5.3h0m0 2.6h0m0 .8h0m0 1.9h0m.1-8.1h0m0 5.2h0m.1 2.6h0m0 .9h0m.2-2.4h0m0 .1h0m.1-1.7h0m0 2.4h0m0 1h0m.1 4.2h0m.1-7.7h0m.1-2.1h0m0 5.2h0m0 .9h0m0 0h0m.2-8.8h0m0 1.1h0m0 6.1h0m0 4.4h0m.1-3h0m.1-4.8h0m0 .8h0m0 1.1h0m.1-3h0m0 1.5h0m0 1.7h0m0 1.8h0m.1-2.6h0m0 2h0m0 .1h0m.1-7.8h0m0 2.7h0m0 4.9h0m0 .2h0m.1-7.3h0m0 .9h0m0 3.6h0m0 1.5h0m.1-2.9h0m0 3.7h0m.1-4.7h0m0 4h0m0 1.9h0m0 .5h0m0 2.3h0m.1-10.8h0m0 5.1h0m.1-9.9h0m0 8.4h0m0 .9h0m0 1.6h0m.1-2.1h0m0 1.2h0m0 .5h0m0 2.8h0m.1-5.3h0m0 1.7h0m0 1.5h0m0 3.8h0m.1-3h0m0 .9h0m.1-.7h0m0 .2h0m.1-5.5h0m0 6.2h0m.1-4.2h0m0 2.1h0m0 .4h0m.1 4.9h0m.1-13.4h0m0 7.2h0m.1-4.2h0m0 3.9h0m0 .1h0m0 1.7h0m0 .2h0m.1-3.5h0m0 1.2h0m.1-.8h0m0 1.3h0m0 4.3h0m.1-9.1h0m0 1.2h0m0 3.4h0m0 1.1h0m.1-6.3h0m0 1.5h0m0 1.8h0m.1 2.1h0m0 2.3h0m.1-3.3h0m.1 .4h0m.1-1.2h0m.2-.8h0m0 2.6h0m.1-2h0m0 4.5h0m.1-7.8h0m0 .7h0m0 4.6h0m0 .6h0m.1-8.3h0m0 1h0m0 3.2h0m0 .6h0m.2-.3h0m0 5.7h0m0 1.2h0m.1-4.3h0m.2-5.3h0m.1 1.1h0m0 .1h0m0 4.7h0m.1-5.1h0m0 .5h0m0 .1h0m0 1.1h0m0 .7h0m.1-2.3h0m0 3.1h0m.1 .4h0m.1-3.4h0m.1 3.5h0m0 .5h0m.1 1.2h0m0 .6h0m.1-5.2h0m0 3.3h0m0 2.1h0m.1-9.7h0m.1 4.4h0m0 6.3h0m.1-9.4h0m.1 4.4h0m.1 4.4h0m.1-3.6h0m.1-4.2h0m0 .2h0m.1 5.8h0m.1-7.7h0m0 7.1h0m.1-9h0m0 8.1h0m.1-3.8h0m0 5.8h0m.2-1.5h0m0 1.5h0m.1-6.3h0m0 1.1h0m0 2.3h0m0 .2h0m.1-4.4h0m0 .7h0m.2-.3h0m0 2.3h0m0 .8h0m.1-1.2h0m.1-2.5h0m.1-1.3h0m0 1.5h0m.1 3.3h0m0 .2h0m.1-5.2h0m0 3h0m0 2.6h0m0 5h0m.1-10.5h0m0 2.5h0m.2 0h0m.1 1.7h0m0 1.1h0m0 1.2h0m.1-5.6h0m.1 5.3h0m.3-5.6h0m0 3.5h0m0 .1h0m.1-.5h0m0 .6h0m0 1.5h0m.2-6.3h0m0 3.5h0m0 1.7h0m.1-1.8h0m0 .1h0m0 2.4h0m.1-4.9h0m0 .1h0m0 .9h0m0 2.6h0m0 2.6h0m.4-6.2h0m0 1.1h0m0 3h0m.2-1.8h0m.6-.3h0m0 1.6h0m.1-3.3h0m.1 2.1h0m0 1.8h0m.1-4.2h0m.1-.3h0m.3 1.5h0m0 3.8h0m.1-3.2h0m0 .6h0m.3-2.1h0" stroke="#5e1a66" stroke-width="0.5" stroke-linecap="round" fill="none" opacity="0.85"/><path d="M309.8 717.6h0m.5 .7h0m.6-.1h0m.1 .5h0m.1 .9h0m.1-.4h0m.1-1.3h0m.1-.8h0m.2 1.4h0m0 .6h0m.1 1.2h0m.1-2h0m0 1.1h0m.1-1.3h0m.1 .9h0m.1-2.4h0m.1 1.9h0m.1-3.9h0m0 3.5h0m0 2h0m.1-1.2h0m.1-.7h0m0 1h0m.1-2.5h0m0 .6h0m.3 1.5h0m.2-2.8h0m.1 .4h0m.1 .1h0m0 .5h0m.1-1.1h0m0 1h0m0 .6h0m.1-3.3h0m.1 2h0m.1 1.7h0m.2-.2h0m.1-1.7h0m.1-.7h0m0 2.3h0m.2-3.5h0m0 1h0m0 .3h0m0 .1h0m.1-2.5h0m.1 2.5h0m.1-1h0m.1 1.3h0m0 .7h0m.2-1.2h0m0 .2h0m.1-1.3h0m.1-2h0m0 2.9h0m0 .1h0m.1-1.7h0m0 2.3h0m.1-1.3h0m.1-.8h0m.1 .2h0m.1 1.7h0m.2-3.2h0m0 .6h0m.1-.4h0m0 .6h0m0 1.4h0m.1-1.3h0m.3-1h0m0 1.5h0m.2 .9h0m.1-1.3h0m.1 .4h0m.1-.4h0m.1-3.4h0m0 3.4h0m0 2.2h0m.1-2.5h0m.1-.3h0m0 1.1h0m0 .6h0m.1-1.7h0m.1-.6h0m.1-2.8h0m.1 2.7h0m0 0h0m.1 0h0m0 .5h0m.2-.2h0m0 .2h0m0 .1h0m.1-.6h0m.1-1.7h0m0 1h0m0 .7h0m.1-2.2h0m0 2h0m.1-1.5h0m.1 1.4h0m.1-.3h0m.2-1.3h0m0 0h0m.2 2.8h0m.1-.1h0m.1-2.5h0m0 1.9h0m.2-1.4h0m.3-2.5h0m.1 .7h0m.1 1.4h0m.1-1.2h0m0 1.1h0m.1-.4h0m.2 .4h0m0 .2h0m0 .9h0m.2-2.8h0m0 .4h0m.2-2.4h0m.2 1.5h0m0 .2h0m.1-.4h0m0 2.4h0m.1-2.7h0m0 1.3h0m.2-.9h0m.1 .7h0m.2-2.9h0m0 1.1h0m.1-.4h0m0 0h0m0 .1h0m.2 1.2h0m.3-3h0m0 1.8h0m.1-.5h0m.2-.2h0m0 .7h0m.1-1h0m0 .8h0m.5-2.1h0m.2 2.1h0m.1-4h0m.1 4.1h0m.1-.5h0m.1-1.3h0m0 1.3h0m.2-1.4h0m0 2.8h0m.3-2.4h0m0 .7h0m0 1.3h0m.1-1.8h0m.1 3.5h0m.1-4.4h0m.2-1.3h0m.1 2.2h0m0 1.3h0m.1-1.9h0m.1 2.1h0m.1-1.4h0m.1-2.2h0m.1-.5h0m.8 1h0m.2 2.6h0m.2-4.8h0m.2 1.4h0m0 1.6h0m.5-1.4h0m.5 .7h0m.3 .6h0" stroke="#5e1a66" stroke-width="0.55" stroke-linecap="round" fill="none" opacity="0.9"/><text x="314.8" y="782.4" font-size="14" text-anchor="middle" stroke="#000" stroke-width="0.35">wtGFP</text><text x="366.6" y="13.2" font-size="16.5" stroke="#000" stroke-width="0.35">e</text><text x="361.4" y="38.0" font-size="12" stroke="#000" stroke-width="0.35">kDa</text><rect x="391.4" y="38.4" width="65.0" height="23.2" fill="#c2c2c2"/><g clip-path="url(#bc391_38)"><ellipse cx="423.9" cy="36.4" rx="29.2" ry="7" fill="#fff" opacity="0.16" filter="url(#bl3)"/><rect x="393.0" y="49.0" width="12.0" height="1.6" rx="0.8" fill="rgb(88,88,88)" filter="url(#bl1)" transform="rotate(8 399.0 49.8)"/><rect x="409.0" y="51.2" width="12.0" height="1.5" rx="0.8" fill="rgb(136,136,136)" filter="url(#bl2)" transform="rotate(4 415.0 52.0)"/><rect x="424.6" y="50.8" width="15.8" height="5.6" rx="2.8" fill="rgb(0,0,0)" filter="url(#bl1)" transform="rotate(2 432.5 53.6)"/><rect x="442.0" y="52.7" width="14.4" height="4.6" rx="2.3" fill="rgb(0,0,0)" filter="url(#bl1)" transform="rotate(2 449.2 55.0)"/></g><rect x="391.4" y="38.4" width="65.0" height="23.2" fill="none" stroke="#1a1a1a" stroke-width="1.1"/><rect x="391.4" y="66.4" width="65.0" height="23.0" fill="#c2c2c2"/><g clip-path="url(#bc391_66)"><ellipse cx="423.9" cy="64.4" rx="29.2" ry="7" fill="#fff" opacity="0.16" filter="url(#bl3)"/><rect x="391.5" y="74.0" width="17.0" height="3.2" rx="1.6" fill="rgb(10,10,10)" filter="url(#bl1)" transform="rotate(6 400.0 75.6)"/><rect x="410.0" y="76.6" width="14.6" height="3.2" rx="1.6" fill="rgb(10,10,10)" filter="url(#bl1)" transform="rotate(5 417.3 78.2)"/><rect x="427.0" y="78.0" width="14.4" height="2.9" rx="1.4" fill="rgb(10,10,10)" filter="url(#bl1)" transform="rotate(4 434.2 79.4)"/><rect x="444.0" y="79.0" width="13.0" height="2.9" rx="1.4" fill="rgb(10,10,10)" filter="url(#bl1)" transform="rotate(3 450.5 80.4)"/></g><rect x="391.4" y="66.4" width="65.0" height="23.0" fill="none" stroke="#1a1a1a" stroke-width="1.1"/><rect x="391.4" y="94.0" width="65.0" height="23.4" fill="#c2c2c2"/><g clip-path="url(#bc391_94)"><ellipse cx="423.9" cy="92.0" rx="29.2" ry="7" fill="#fff" opacity="0.16" filter="url(#bl3)"/><rect x="394.6" y="104.8" width="12.8" height="4.4" rx="2.2" fill="rgb(0,0,0)" filter="url(#bl1)" transform="rotate(0 401.0 107.0)"/><rect x="410.0" y="106.2" width="12.0" height="2.8" rx="1.4" fill="rgb(19,19,19)" filter="url(#bl1)" transform="rotate(2 416.0 107.6)"/><rect x="425.0" y="105.9" width="13.0" height="4.2" rx="2.1" fill="rgb(0,0,0)" filter="url(#bl1)" transform="rotate(0 431.5 108.0)"/><rect x="439.0" y="105.5" width="14.4" height="5.0" rx="2.5" fill="rgb(0,0,0)" filter="url(#bl1)" transform="rotate(0 446.2 108.0)"/><rect x="427.0" y="113.7" width="9.0" height="1.4" rx="0.7" fill="rgb(160,160,160)" filter="url(#bl2)" transform="rotate(0 431.5 114.4)"/><rect x="441.0" y="113.9" width="11.0" height="1.8" rx="0.9" fill="rgb(136,136,136)" filter="url(#bl2)" transform="rotate(0 446.5 114.8)"/></g><rect x="391.4" y="94.0" width="65.0" height="23.4" fill="none" stroke="#1a1a1a" stroke-width="1.1"/><rect x="391.4" y="121.0" width="65.0" height="23.4" fill="#c2c2c2"/><g clip-path="url(#bc391_121)"><ellipse cx="423.9" cy="119.0" rx="29.2" ry="7" fill="#fff" opacity="0.16" filter="url(#bl3)"/><rect x="394.6" y="128.0" width="14.4" height="4.8" rx="2.4" fill="rgb(0,0,0)" filter="url(#bl1)" transform="rotate(1 401.8 130.4)"/><rect x="410.4" y="128.7" width="14.0" height="4.6" rx="2.3" fill="rgb(0,0,0)" filter="url(#bl1)" transform="rotate(1 417.4 131.0)"/><rect x="426.0" y="130.3" width="12.4" height="3.4" rx="1.7" fill="rgb(4,4,4)" filter="url(#bl1)" transform="rotate(3 432.2 132.0)"/><rect x="440.6" y="131.5" width="14.4" height="3.4" rx="1.7" fill="rgb(4,4,4)" filter="url(#bl1)" transform="rotate(-2 447.8 133.2)"/></g><rect x="391.4" y="121.0" width="65.0" height="23.4" fill="none" stroke="#1a1a1a" stroke-width="1.1"/><text x="382.4" y="58.0" font-size="12" text-anchor="end" stroke="#000" stroke-width="0.35">25</text><line x1="387.0" y1="54.6" x2="391.4" y2="54.6" stroke="#000" stroke-width="1.1"/><text x="382.4" y="83.2" font-size="12" text-anchor="end" stroke="#000" stroke-width="0.35">37</text><line x1="387.0" y1="80.4" x2="391.4" y2="80.4" stroke="#000" stroke-width="1.1"/><text x="382.4" y="118.4" font-size="12" text-anchor="end" stroke="#000" stroke-width="0.35">25</text><line x1="387.0" y1="114.6" x2="391.4" y2="114.6" stroke="#000" stroke-width="1.1"/><text x="382.4" y="139.8" font-size="12" text-anchor="end" stroke="#000" stroke-width="0.35">37</text><line x1="387.0" y1="136.0" x2="391.4" y2="136.0" stroke="#000" stroke-width="1.1"/><text x="459.8" y="59.0" font-size="14" stroke="#000" stroke-width="0.35">wtGFP</text><text x="459.8" y="85.0" font-size="14" stroke="#000" stroke-width="0.35">Actin</text><text x="459.8" y="110.4" font-size="14" stroke="#000" stroke-width="0.35">Opt-mCherry</text><text x="459.8" y="136.0" font-size="14" stroke="#000" stroke-width="0.35">Actin</text><text x="406.0" y="208.0" font-size="14" transform="rotate(-90 406.0 208.0)" stroke="#000" stroke-width="0.35">siControl</text><text x="422.2" y="208.0" font-size="14" transform="rotate(-90 422.2 208.0)" stroke="#000" stroke-width="0.35">siControl</text><text x="438.4" y="208.0" font-size="14" transform="rotate(-90 438.4 208.0)" stroke="#000" stroke-width="0.35">si<tspan font-style="italic" dx="1.2">CNOT4</tspan></text><text x="454.8" y="208.0" font-size="14" transform="rotate(-90 454.8 208.0)" stroke="#000" stroke-width="0.35">si<tspan font-style="italic" dx="1.2">CNOT4</tspan></text><text x="542.2" y="13.2" font-size="16.5" stroke="#000" stroke-width="0.35">f</text><text x="574.0" y="103.0" font-size="14" text-anchor="middle" transform="rotate(-90 574.0 103.0)" stroke="#000" stroke-width="0.35">Relative protein ratio</text><text x="591.0" y="102.6" font-size="14" text-anchor="middle" transform="rotate(-90 591.0 102.6)" stroke="#000" stroke-width="0.35">(wtGFP/Opt-mCherry)</text><rect x="632.0" y="134.5" width="14.0" height="29.5" fill="#a0a0a4" stroke="#000" stroke-width="1.4"/><rect x="654.0" y="78.5" width="14.0" height="85.5" fill="#a0a0a4" stroke="#000" stroke-width="1.4"/><path d="M624.4 164V34.4H676V164" fill="none" stroke="#000" stroke-width="1.2"/><line x1="619.0" y1="164.0" x2="676.6" y2="164.0" stroke="#000" stroke-width="1.2"/><line x1="619.0" y1="164.0" x2="624.4" y2="164.0" stroke="#000" stroke-width="1.2"/><text x="617.8" y="168.4" font-size="12" text-anchor="end" stroke="#000" stroke-width="0.35">0.0</text><line x1="619.0" y1="109.7" x2="624.4" y2="109.7" stroke="#000" stroke-width="1.2"/><text x="617.8" y="114.1" font-size="12" text-anchor="end" stroke="#000" stroke-width="0.35">0.5</text><line x1="619.0" y1="55.4" x2="624.4" y2="55.4" stroke="#000" stroke-width="1.2"/><text x="617.8" y="59.8" font-size="12" text-anchor="end" stroke="#000" stroke-width="0.35">1.0</text><line x1="639.0" y1="164.0" x2="639.0" y2="169.2" stroke="#000" stroke-width="1.2"/><line x1="661.0" y1="164.0" x2="661.0" y2="169.2" stroke="#000" stroke-width="1.2"/><path d="M639.0 127.0V142.4M636.0 127.0h6.0M636.0 142.4h6.0" stroke="#000" stroke-width="0.8" fill="none"/><path d="M661.0 69.0V87.0M658.0 69.0h6.0M658.0 87.0h6.0" stroke="#000" stroke-width="0.8" fill="none"/><circle cx="637.0" cy="127.0" r="1.45" fill="#f4f4f4" stroke="#000" stroke-width="0.65"/><circle cx="641.0" cy="127.0" r="1.45" fill="#f4f4f4" stroke="#000" stroke-width="0.65"/><circle cx="639.0" cy="136.0" r="1.45" fill="#f4f4f4" stroke="#000" stroke-width="0.65"/><circle cx="639.0" cy="144.0" r="1.45" fill="#f4f4f4" stroke="#000" stroke-width="0.65"/><circle cx="661.0" cy="68.0" r="1.45" fill="#f4f4f4" stroke="#000" stroke-width="0.65"/><circle cx="661.0" cy="74.0" r="1.45" fill="#f4f4f4" stroke="#000" stroke-width="0.65"/><circle cx="661.0" cy="83.0" r="1.45" fill="#f4f4f4" stroke="#000" stroke-width="0.65"/><circle cx="661.0" cy="86.4" r="1.45" fill="#f4f4f4" stroke="#000" stroke-width="0.65"/><path d="M639 118V52.4H661V60" fill="none" stroke="#000" stroke-width="1.2"/><text x="650.0" y="47.0" font-size="7" text-anchor="middle">&lt;0.0001</text><text x="641.0" y="181.6" font-size="13.6" text-anchor="end" transform="rotate(-45 641.0 181.6)" stroke="#000" stroke-width="0.35">siControl</text><text x="665" y="180.2" font-size="13.6" text-anchor="end" stroke="#000" stroke-width="0.35" transform="rotate(-45 665 180.2)">si<tspan font-style="italic" dx="1.2">CNOT4</tspan></text><text x="366.0" y="247.4" font-size="16.5" stroke="#000" stroke-width="0.35">g</text><text x="390.6" y="325.0" font-size="14" text-anchor="middle" transform="rotate(-90 390.6 325.0)" stroke="#000" stroke-width="0.35">Opt-mCherry</text><text x="419.2" y="279.0" font-size="14" stroke="#000" stroke-width="0.35">sg<tspan font-style="italic" dx="1.2">DIS3</tspan></text><text x="509.8" y="279.0" font-size="14" stroke="#000" stroke-width="0.35">sg<tspan font-style="italic" dx="1.2">ZFC3H1</tspan></text><text x="601.4" y="279.0" font-size="14" stroke="#000" stroke-width="0.35">sg<tspan font-style="italic" dx="1.2">PABPN1</tspan></text><text x="540.6" y="387.0" font-size="14" text-anchor="middle" stroke="#000" stroke-width="0.35">wtGFP</text><rect x="413.4" y="287.2" width="73.6" height="73.8" fill="#fff" stroke="#a6a6a6" stroke-width="0.8"/><line x1="413.4" y1="287.2" x2="413.4" y2="361.0" stroke="#8c8c8c" stroke-width="0.8"/><line x1="413.4" y1="361.0" x2="487.0" y2="361.0" stroke="#8c8c8c" stroke-width="0.8"/><text x="408.4" y="299.3" font-size="6.2" text-anchor="end" font-weight="bold" fill="#111">10<tspan dy="-4.6" dx="-0.3" font-size="5.8">5</tspan></text><text x="408.4" y="317.5" font-size="6.2" text-anchor="end" font-weight="bold" fill="#111">10<tspan dy="-4.6" dx="-0.3" font-size="5.8">4</tspan></text><text x="408.4" y="337.5" font-size="6.2" text-anchor="end" font-weight="bold" fill="#111">10<tspan dy="-4.6" dx="-0.3" font-size="5.8">3</tspan></text><text x="406.6" y="347.8" font-size="6.2" text-anchor="end" font-weight="bold" fill="#111">0</text><text x="408.4" y="360.5" font-size="6.2" text-anchor="end" font-weight="bold" fill="#111">-10<tspan dy="-4.6" dx="-0.3" font-size="5.8">3</tspan></text><path d="M412.0 290.2h1.4M412.0 292.7h1.4M412.0 296.0h1.4M412.0 301.2h1.4M412.0 305.2h1.4M412.0 308.2h1.4M412.0 310.7h1.4M412.0 314.2h1.4M412.0 320.2h1.4M412.0 325.2h1.4M412.0 328.7h1.4M412.0 331.7h1.4M412.0 334.2h1.4M412.0 339.2h1.4M412.0 342.2h1.4M412.0 346.2h1.4M412.0 350.2h1.4M412.0 353.2h1.4M412.0 358.2h1.4" stroke="#333" stroke-width="0.6" fill="none"/><path d="M412.0 344.8v3" stroke="#111" stroke-width="1.4"/><text x="414.8" y="371.8" font-size="6.2" font-weight="bold" fill="#111">-10<tspan dy="-4.6" dx="-0.3" font-size="5.8">3</tspan></text><text x="429.0" y="371.8" font-size="6.2" font-weight="bold" fill="#111">0</text><text x="440.0" y="371.8" font-size="6.2" font-weight="bold" fill="#111">10<tspan dy="-4.6" dx="-0.3" font-size="5.8">3</tspan></text><text x="460.6" y="371.8" font-size="6.2" font-weight="bold" fill="#111">10<tspan dy="-4.6" dx="-0.3" font-size="5.8">4</tspan></text><text x="476.6" y="371.8" font-size="6.2" font-weight="bold" fill="#111">10<tspan dy="-4.6" dx="-0.3" font-size="5.8">5</tspan></text><path d="M418.4 361.0v1.6M421.9 361.0v1.6M430.4 361.0v1.6M432.9 361.0v1.6M435.4 361.0v1.6M443.4 361.0v1.6M449.4 361.0v1.6M453.4 361.0v1.6M456.4 361.0v1.6M463.4 361.0v1.6M470.4 361.0v1.6M473.9 361.0v1.6M476.4 361.0v1.6M479.4 361.0v1.6M484.4 361.0v1.6M486.4 361.0v1.6" stroke="#333" stroke-width="0.6" fill="none"/><path d="M429.9 362.2h3" stroke="#111" stroke-width="1.4"/><rect x="506.4" y="287.2" width="74.6" height="73.8" fill="#fff" stroke="#a6a6a6" stroke-width="0.8"/><line x1="506.4" y1="287.2" x2="506.4" y2="361.0" stroke="#8c8c8c" stroke-width="0.8"/><line x1="506.4" y1="361.0" x2="581.0" y2="361.0" stroke="#8c8c8c" stroke-width="0.8"/><text x="501.4" y="299.3" font-size="6.2" text-anchor="end" font-weight="bold" fill="#111">10<tspan dy="-4.6" dx="-0.3" font-size="5.8">5</tspan></text><text x="501.4" y="317.5" font-size="6.2" text-anchor="end" font-weight="bold" fill="#111">10<tspan dy="-4.6" dx="-0.3" font-size="5.8">4</tspan></text><text x="501.4" y="337.5" font-size="6.2" text-anchor="end" font-weight="bold" fill="#111">10<tspan dy="-4.6" dx="-0.3" font-size="5.8">3</tspan></text><text x="499.6" y="347.8" font-size="6.2" text-anchor="end" font-weight="bold" fill="#111">0</text><text x="501.4" y="360.5" font-size="6.2" text-anchor="end" font-weight="bold" fill="#111">-10<tspan dy="-4.6" dx="-0.3" font-size="5.8">3</tspan></text><path d="M505.0 290.2h1.4M505.0 292.7h1.4M505.0 296.0h1.4M505.0 301.2h1.4M505.0 305.2h1.4M505.0 308.2h1.4M505.0 310.7h1.4M505.0 314.2h1.4M505.0 320.2h1.4M505.0 325.2h1.4M505.0 328.7h1.4M505.0 331.7h1.4M505.0 334.2h1.4M505.0 339.2h1.4M505.0 342.2h1.4M505.0 346.2h1.4M505.0 350.2h1.4M505.0 353.2h1.4M505.0 358.2h1.4" stroke="#333" stroke-width="0.6" fill="none"/><path d="M505.0 344.8v3" stroke="#111" stroke-width="1.4"/><text x="507.8" y="371.8" font-size="6.2" font-weight="bold" fill="#111">-10<tspan dy="-4.6" dx="-0.3" font-size="5.8">3</tspan></text><text x="522.0" y="371.8" font-size="6.2" font-weight="bold" fill="#111">0</text><text x="533.0" y="371.8" font-size="6.2" font-weight="bold" fill="#111">10<tspan dy="-4.6" dx="-0.3" font-size="5.8">3</tspan></text><text x="553.6" y="371.8" font-size="6.2" font-weight="bold" fill="#111">10<tspan dy="-4.6" dx="-0.3" font-size="5.8">4</tspan></text><text x="569.6" y="371.8" font-size="6.2" font-weight="bold" fill="#111">10<tspan dy="-4.6" dx="-0.3" font-size="5.8">5</tspan></text><path d="M511.4 361.0v1.6M514.9 361.0v1.6M523.4 361.0v1.6M525.9 361.0v1.6M528.4 361.0v1.6M536.4 361.0v1.6M542.4 361.0v1.6M546.4 361.0v1.6M549.4 361.0v1.6M556.4 361.0v1.6M563.4 361.0v1.6M566.9 361.0v1.6M569.4 361.0v1.6M572.4 361.0v1.6M577.4 361.0v1.6M579.4 361.0v1.6" stroke="#333" stroke-width="0.6" fill="none"/><path d="M522.9 362.2h3" stroke="#111" stroke-width="1.4"/><rect x="600.5" y="287.2" width="74.8" height="73.8" fill="#fff" stroke="#a6a6a6" stroke-width="0.8"/><line x1="600.5" y1="287.2" x2="600.5" y2="361.0" stroke="#8c8c8c" stroke-width="0.8"/><line x1="600.5" y1="361.0" x2="675.3" y2="361.0" stroke="#8c8c8c" stroke-width="0.8"/><text x="595.5" y="299.3" font-size="6.2" text-anchor="end" font-weight="bold" fill="#111">10<tspan dy="-4.6" dx="-0.3" font-size="5.8">5</tspan></text><text x="595.5" y="317.5" font-size="6.2" text-anchor="end" font-weight="bold" fill="#111">10<tspan dy="-4.6" dx="-0.3" font-size="5.8">4</tspan></text><text x="595.5" y="337.5" font-size="6.2" text-anchor="end" font-weight="bold" fill="#111">10<tspan dy="-4.6" dx="-0.3" font-size="5.8">3</tspan></text><text x="593.7" y="347.8" font-size="6.2" text-anchor="end" font-weight="bold" fill="#111">0</text><text x="595.5" y="360.5" font-size="6.2" text-anchor="end" font-weight="bold" fill="#111">-10<tspan dy="-4.6" dx="-0.3" font-size="5.8">3</tspan></text><path d="M599.1 290.2h1.4M599.1 292.7h1.4M599.1 296.0h1.4M599.1 301.2h1.4M599.1 305.2h1.4M599.1 308.2h1.4M599.1 310.7h1.4M599.1 314.2h1.4M599.1 320.2h1.4M599.1 325.2h1.4M599.1 328.7h1.4M599.1 331.7h1.4M599.1 334.2h1.4M599.1 339.2h1.4M599.1 342.2h1.4M599.1 346.2h1.4M599.1 350.2h1.4M599.1 353.2h1.4M599.1 358.2h1.4" stroke="#333" stroke-width="0.6" fill="none"/><path d="M599.1 344.8v3" stroke="#111" stroke-width="1.4"/><text x="601.9" y="371.8" font-size="6.2" font-weight="bold" fill="#111">-10<tspan dy="-4.6" dx="-0.3" font-size="5.8">3</tspan></text><text x="616.1" y="371.8" font-size="6.2" font-weight="bold" fill="#111">0</text><text x="627.1" y="371.8" font-size="6.2" font-weight="bold" fill="#111">10<tspan dy="-4.6" dx="-0.3" font-size="5.8">3</tspan></text><text x="647.7" y="371.8" font-size="6.2" font-weight="bold" fill="#111">10<tspan dy="-4.6" dx="-0.3" font-size="5.8">4</tspan></text><text x="663.7" y="371.8" font-size="6.2" font-weight="bold" fill="#111">10<tspan dy="-4.6" dx="-0.3" font-size="5.8">5</tspan></text><path d="M605.5 361.0v1.6M609.0 361.0v1.6M617.5 361.0v1.6M620.0 361.0v1.6M622.5 361.0v1.6M630.5 361.0v1.6M636.5 361.0v1.6M640.5 361.0v1.6M643.5 361.0v1.6M650.5 361.0v1.6M657.5 361.0v1.6M661.0 361.0v1.6M663.5 361.0v1.6M666.5 361.0v1.6M671.5 361.0v1.6M673.5 361.0v1.6" stroke="#333" stroke-width="0.6" fill="none"/><path d="M617.0 362.2h3" stroke="#111" stroke-width="1.4"/><path d="M427.9 320.7h0m.6 2.1h0m0 .6h0m.4-2.3h0m2-2.2h0m0 .2h0m.5 9.6h0m.4-5.7h0m.3-8.3h0m.3 2.8h0m0 15.1h0m.6-16.4h0m.2 14.1h0m.1-12.6h0m.3 3.3h0m0 6.4h0m.2-12.5h0m.3 8.3h0m.2-3.9h0m.3-1.1h0m.1-8.1h0m.1 7.9h0m.1 11.1h0m.1-13.6h0m.2-1.8h0m.2 2.4h0m.1 3.2h0m.1-2.6h0m.2 13.7h0m.1-18h0m.2 1.8h0m.6-2.3h0m0 7.6h0m.1-5.1h0m.4 6.3h0m.1-4.7h0m.1 3.9h0m0 1.1h0m.1 8.6h0m.1-10.6h0m.1-1.3h0m0 2.8h0m.1-4.9h0m0 4.6h0m.1-4.2h0m.2-10.5h0m.1 19.3h0m.2-7.6h0m.1-1.4h0m0 6.6h0m.1-11.1h0m0 6.3h0m.1-2.6h0m.3 3.9h0m.4 4.8h0m.2 2.5h0m.1-14.4h0m0 7.2h0m0 2.4h0m.2-6.2h0m0 3.2h0m.3-3.6h0m.1-3.1h0m.2-6.6h0m0 11.3h0m.1 3.3h0m.1-8.3h0m0 7.1h0m.1 10.6h0m.1-10.7h0m.3-7h0m0 4.9h0m0 0h0m.1-1.2h0m.1 8.1h0m.1-1h0m.1-2.4h0m0 2.7h0m.1-18h0m0 13.9h0m.2-2.6h0m.1-1.4h0m.1-4.7h0m0 5.7h0m.1-3.3h0m.1-.7h0m.2 5.9h0m0 1.5h0m.2-9h0m0 9.1h0m.1-8.4h0m.1 3.9h0m.1-7.6h0m0 .3h0m.1 5.6h0m0 4.4h0m.1 6.1h0m.1-8.1h0m0 5.1h0m.3-7.4h0m.2-1.4h0m.3-1.4h0m0 6.6h0m0 2.5h0m.1-7.5h0m.1 .6h0m0 5.7h0m.1-6.8h0m.1-.9h0m.1 3.1h0m.1-6.2h0m.1 14.1h0m.4-14.8h0m0 12.2h0m.2-4.9h0m0 1.4h0m.3-8.7h0m0 0h0m.1 .5h0m0 8h0m.1 6.5h0m.1-5.1h0m.1 6.8h0m.2-10.2h0m.3-7.1h0m0 11.4h0m.1-1.2h0m.1-8.2h0m0 11.4h0m.2-18h0m.2 10.7h0m0 1.3h0m0 .5h0m.2 .4h0m.1 2.2h0m.3-7.9h0m0 .3h0m.1 1.6h0m.1-8.1h0m0 6.7h0m0 8.5h0m.2-7.1h0m.5-4.9h0m0 .9h0m.1 4h0m.1 2.7h0m.2-5.8h0m.1 5.1h0m0 5.4h0m.1-12.4h0m0 2.7h0m.1 3.5h0m0 1.3h0m.3-3.4h0m0 3.9h0m.1 6.1h0m.2-12.1h0m0 1.5h0m.2-1.6h0m0 8.1h0m.1 1.7h0m0 3.4h0m.1-3.3h0m.2-8.8h0m0 2.6h0m.2-12.4h0m0 10.4h0m0 .5h0m.1 4.2h0m.4-1.3h0m0 .1h0m.1 .2h0m.1-1.9h0m.2 .1h0m.3-14h0m0 10.8h0m.2 8.8h0m.1-11.7h0m.1-8.7h0m0 15.2h0m.2-3.7h0m0 1.7h0m.1-6.7h0m.3 11.4h0m.4-7.3h0m0 3.6h0m.4-6.3h0m.1-8.2h0m.1 15.5h0m.1 8.1h0m.1-15.6h0m0 9.1h0m.1-10.6h0m0 10.1h0m.3-10.5h0m.1-.1h0m.1 3.9h0m.3 2.7h0m0 .1h0m.3-2.7h0m.1 .5h0m.1 5.2h0m.2-13.7h0m.2 7.9h0m.1-3.4h0m0 3.4h0m.1 .8h0m.1-5.7h0m0 1h0m0 4.7h0m.1 .5h0m0 .8h0m.4-2.8h0m.1 .6h0m0 .5h0m.1 2.2h0m.2-.8h0m0 2.3h0m.2-1.7h0m.2-2.6h0m0 7.2h0m.1-4.9h0m.2-3.6h0m.1-3h0m.3 2.3h0m.3 1.1h0m.1-6.3h0m.1 10.8h0m.4-4.9h0m0 9.3h0m.3-6.6h0m.1 2.3h0m.2-11.4h0m.4 9h0m.1-6.2h0m.1 1.9h0m0 1.8h0m.4-4h0m.1 6.4h0m.4-.8h0m.2-7.5h0m0 2.9h0m.1-3.8h0m.3 7.8h0m.2 1.9h0m.2-6.3h0m0 3.1h0m0 .1h0m.5-3.7h0m0 3.1h0m.1-1.2h0m.1-1.5h0m.1-5.8h0m.2 3.8h0m.3 3.5h0m.1-1.4h0m.1-6.2h0m0 9h0m0 5.6h0m.1-12.5h0m.6 2.2h0m.2-3.2h0m.3 6.3h0m.1-4.4h0m.1 1.8h0m0 8.2h0m.1-15.3h0m.2 5.8h0m0 2.9h0m0 4.9h0m.1-5h0m.1-1.3h0m.2-1.9h0m.1-8.5h0m.2 7.8h0m.1 7.2h0m.4 .2h0m.8-7.2h0m0 1.6h0m.3-3.8h0m.3 14h0m.2-8.2h0m.2-.7h0m.2-5h0m0 14.3h0m.1-13.9h0m.2 1.5h0m0 5.6h0m.1 .7h0m.3-1.6h0m.7 2h0m.1-20.1h0m.5 18.3h0m.9-6.7h0m.1 13.8h0m.1-11.8h0m.3 1.2h0m.2 10.1h0m.1-5.4h0m3.9-10.3h0" stroke="#5e1a66" stroke-width="0.5" stroke-linecap="round" fill="none" opacity="0.6"/><path d="M428.8 324.1h0m.5 1.8h0m.3-.8h0m.5-1.6h0m.1 3.1h0m.1-2.1h0m0 .4h0m0 1.3h0m0 1.6h0m.1-1.3h0m.1-.9h0m.1-2.2h0m0 1.6h0m.1-.8h0m.1-1.8h0m0 .8h0m0 .7h0m.1 .8h0m0 2h0m.1-3.3h0m0 2.4h0m.1-2.6h0m0 1.6h0m0 1.5h0m.2-1.8h0m0 .3h0m0 .1h0m.1-1.5h0m0 2.6h0m.1-3.8h0m0 .2h0m0 2.7h0m0 .1h0m.1-5.4h0m0 2.8h0m0 .2h0m0 4.6h0m.1-5.4h0m.1-1.4h0m0 .9h0m0 .2h0m0 1.5h0m0 1.2h0m0 .6h0m.1-5.4h0m0 1.3h0m.1-3.1h0m0 1.7h0m0 1.8h0m0 1h0m0 4.1h0m.1-6h0m0 1.7h0m0 .8h0m0 2.9h0m.1-7.5h0m0 .3h0m0 .4h0m0 3.8h0m0 .3h0m.1-4.1h0m0 .4h0m0 .2h0m0 .3h0m0 3.3h0m.1-4.5h0m0 .4h0m0 .7h0m0 3.4h0m.1-.8h0m.1-2h0m.1-2.3h0m0 3.5h0m0 1.7h0m.1-5.5h0m0 .1h0m0 4.2h0m.1-3h0m0 .1h0m.1-.7h0m.1 2.3h0m0 .1h0m0 0h0m0 .8h0m.1-2.3h0m0 .5h0m.1-3.7h0m.2 1.5h0m.1-2.5h0m.1 3.3h0m0 .3h0m0 2.5h0m.1-1.6h0m0 .1h0m0 .7h0m0 .3h0m.1 .4h0m0 0h0m.1-4.4h0m0 .6h0m0 2.2h0m.1-1.9h0m.1 2.3h0m.1-3.8h0m.1 0h0m0 1h0m.1-2.3h0m.3 3h0m.1-2.4h0m0 1.9h0m.1-2.1h0m0 .7h0m0 4.4h0m.2-1.2h0m.1-5.1h0m0 .5h0m.1 3.6h0m.1-2.5h0m0 1.6h0m.2 2.5h0m.1-3.3h0m.1-.7h0m0 .9h0m0 .3h0m.1-6.8h0m0 3.3h0m0 1.2h0m0 1.8h0m0 1.6h0m.1-1.7h0m.1-2.5h0m0 1.4h0m0 1.9h0m.2-2.2h0m.3-1.9h0m0 .3h0m.1 2.3h0m.1-3h0m0 2.4h0m.1 2h0m.1-2.3h0m0 1.5h0m.1-.6h0m.1-2.7h0m0 1.6h0m.2-2h0m0 .7h0m.2-1.6h0m.3-.7h0m0 .1h0m.2 .1h0m0 .9h0m0 .1h0m0 .1h0m0 1.3h0m0 .5h0m.1-3.3h0m0 2.2h0m0 .1h0m.2-3.7h0m.1 2h0m0 6.2h0m.3-9h0m0 5.2h0m.1-3.9h0m0 3h0m.2-1.6h0m0 1.3h0m0 .7h0m.2-1.2h0m.1-2.8h0m0 1.5h0m0 1.1h0m.2-.8h0m0 2h0m.1-2.3h0m0 1.9h0m0 .4h0m0 .6h0m.1-2.4h0m.1 .7h0m0 .6h0m.1-3.7h0m0 .8h0m.1-2.3h0m0 1.8h0m.1 2.6h0m.1-2.2h0m0 0h0m.1 1.1h0m.1-1.5h0m0 .1h0m0 .1h0m.1-.4h0m0 2h0m.1-1.7h0m.1-.3h0m0 2.6h0m.1 .6h0m.1-2.4h0m0 0h0m.2 1.1h0m0 .4h0m.5 .5h0m.1-2.6h0m.1-.1h0m.4 0h0m.2-1.5h0m0 2.6h0m.1-.8h0m0 2.4h0m.1-4.8h0m0 3.4h0m0 2.1h0m.1-3.8h0m0 1.7h0m.1-1.2h0m0 1h0m.1-1.4h0m.1-2.8h0m.1 1.9h0m.2 .7h0m0 2.2h0m.1-1.6h0m.1-1.9h0m.1 .2h0m.1 .2h0m.4-1.3h0m.1 .4h0m.1 1h0m0 1.9h0m.1-.9h0m.1-2.7h0m.2 .8h0m.1 .1h0m0 1.8h0m.2-2h0m0 1.5h0m.1-.2h0m0 .2h0m.1-.1h0m.1 .8h0m.1-1.8h0m.1-.6h0m0 1.4h0m.1-3.4h0m0 1.8h0m0 .6h0m.1-1.2h0m0 3.4h0m.3-1.3h0m.2-2.4h0m0 2.9h0m.1-1.5h0m0 .5h0m.4-1.5h0m.3 .4h0m.1 .1h0m.4-.7h0" stroke="#a4f4a4" stroke-width="0.7" stroke-linecap="round" fill="none" opacity="0.85"/><path d="M430.4 325.2h0m.5-1.5h0m.2 .3h0m.1-1.6h0m0 1h0m.1-.1h0m.2-1.3h0m0 .1h0m.1-1h0m0 1.7h0m0 1h0m.1-1h0m.1-2.7h0m0 1.9h0m.1 0h0m.1-.6h0m0 .9h0m.3-1.6h0m0 .1h0m0 .8h0m.1-2h0m0 2.5h0m.1-2.2h0m0 .1h0m0 .7h0m.6-2h0m0 .5h0m.2-.3h0m.1-.4h0m0 .6h0m.2-1.3h0m.2-.5h0m0 1h0m.2 1.2h0m.2-2.1h0m0 0h0m.1-.1h0m0 .6h0m.2-2.5h0m0 .9h0m0 .8h0m0 1.8h0m.2-2.8h0m.1-.1h0m0 1h0m0 .2h0m0 .4h0m.1-1.6h0m0 .6h0m0 1h0m.1-2.1h0m0 .2h0m0 .5h0m.1 .5h0m0 .3h0m.1-.1h0m.2-2.7h0m0 3.2h0m.1-2.8h0m0 .8h0m.1 .5h0m.1-.9h0m0 1.4h0m.4-1.9h0m.4-.3h0m.1 .7h0m.2-.9h0m.1-1.3h0m0 1.9h0m.2-1.6h0m.1 1.9h0m.2-.7h0m.1 .4h0m.2-1.3h0m.1-.5h0m.1 .1h0m.1 .5h0m.1-1h0m.1-.1h0m0 .3h0m.2-.5h0m.1-.1h0m.1 0h0m.1-.5h0m.1 .4h0m.2-.1h0m.5-.4h0m.2-.6h0m0 .6h0m0 0h0m.3 .2h0m.3-2.3h0m0 1.3h0m0 .2h0m.2-.2h0m.2-.3h0m.1 .4h0m.2-.9h0m.3-.2h0m.1 .1h0m0 .5h0m.6-.8h0m.3-1.4h0m.5 1.2h0m.2-1.5h0m0 1.8h0m.1-.4h0m.1 0h0m.4-1.4h0m.9 .8h0" stroke="#a4f4a4" stroke-width="0.8" stroke-linecap="round" fill="none"/><path d="M435.1 318.3h0m.3-.9h0m.4-1.3h0m.4 4.4h0m.8-2.4h0m0 1.2h0m.5 1.9h0m.1-5.9h0m.1 3.3h0m.2-2.4h0m0 2.5h0m.1-.9h0m0 5.7h0m.1-9.5h0m0 9.1h0m.1-10.1h0m.4 5.3h0m.2 1.5h0m.1-3.4h0m0 .8h0m.1-.9h0m.2-2.6h0m0 3.4h0m0 .6h0m0 2.5h0m.1-5.7h0m.3 1h0m.1-2.1h0m.3 4.9h0m.1-2.8h0m.1-.3h0m0 3.4h0m.1 1.1h0m.1-2.6h0m.1-5.3h0m0 4.7h0m.1 .5h0m.3-2.6h0m0 .2h0m0 3.7h0m0 1.8h0m.2-5.4h0m.2 1.2h0m.1-1.1h0m.1 2.3h0m.1-3.1h0m0 4.1h0m0 .3h0m0 3.4h0m.1-9.5h0m0 1.5h0m0 7.9h0m.1-7.2h0m.3-2.5h0m0 3.2h0m.2 .9h0m0 4.2h0m.1-8.3h0m0 3.6h0m0 .2h0m0 1.1h0m0 1.5h0m.2-2.2h0m0 1.8h0m0 2.6h0m.1-11.1h0m0 3.9h0m0 1.8h0m.1-1.2h0m.2 4.6h0m0 7.5h0m.2-9.5h0m0 .6h0m0 1.5h0m.1-3.5h0m.1-3.9h0m.1-2.1h0m0 3.7h0m0 1.3h0m.1-.7h0m0 6.5h0m.1-5h0m.1-3.2h0m0 1h0m0 .7h0m0 1h0m.1-2.6h0m0 1h0m0 1.5h0m.1 4.3h0m0 .2h0m.4-8.4h0m0 2.1h0m0 1.5h0m0 4.1h0m.1-2.1h0m0 .3h0m.1-1.5h0m0 1h0m0 3h0m.2-12.7h0m0 5.5h0m0 1h0m0 1.6h0m.1-2h0m.2-.2h0m0 3.3h0m0 2.6h0m.1-12.2h0m0 8.9h0m.1-.2h0m0 1h0m.1-4.5h0m0 .5h0m0 1.2h0m0 4.4h0m.1-.2h0m0 4.7h0m0 .5h0m0 .7h0m.1-13.7h0m0 2.3h0m0 3.9h0m0 .1h0m0 1.6h0m.1-5.2h0m0 7.6h0m.1-10.1h0m0 2.6h0m.1-.8h0m0 .8h0m0 .5h0m0 .8h0m.1-1.8h0m0 1.4h0m0 .1h0m0 2.4h0m0 0h0m0 1.1h0m.1-3.2h0m0 .4h0m.1-8.4h0m0 4.8h0m0 2.4h0m0 .3h0m.1-3.9h0m0 5.4h0m.1-4h0m0 .6h0m.1-1.2h0m0 1.4h0m0 1.1h0m.1-1.2h0m0 2h0m0 .9h0m0 2h0m0 1.7h0m.1-5.4h0m.1-3.2h0m0 3.3h0m0 .7h0m0 .5h0m0 2.6h0m.1-7h0m0 2.1h0m.1-2.1h0m0 6h0m0 .6h0m0 .2h0m.2-5.3h0m0 3.3h0m.2-2.7h0m0 .8h0m0 .1h0m0 4.4h0m0 2h0m.1-11.9h0m.1 3h0m0 3.9h0m0 .9h0m.1-7.1h0m0 .2h0m0 1.7h0m0 1h0m.1-3.2h0m0 2.8h0m0 .8h0m0 1.6h0m0 .4h0m0 3.1h0m.1-3h0m0 2.1h0m.1-5h0m0 3.5h0m0 .6h0m.2-.6h0m0 5.2h0m.1-4.3h0m.1-8.9h0m0 4.7h0m0 2.6h0m0 1.4h0m.1-7.8h0m0 5.9h0m0 2h0m.1-2.7h0m.1 5.6h0m.1-8.7h0m0 3.5h0m0 6h0m.1-10.9h0m0 1h0m0 0h0m0 2.8h0m.1-.6h0m0 .1h0m.1 8.3h0m.1-16h0m0 2h0m0 4.2h0m0 1.3h0m0 .4h0m0 .6h0m0 2h0m.3-3.1h0m0 1.5h0m.1-5.5h0m0 .3h0m0 3.6h0m.1 1.8h0m.1 3.5h0m0 1h0m0 .5h0m.1-6.1h0m.3 5h0m.1-9.7h0m0 2.2h0m0 .7h0m.1 1h0m0 4.9h0m.1-5h0m.1 .1h0m.2 3.2h0m.1-7.5h0m0 5.4h0m0 2.3h0m.1-8h0m0 2h0m.1 4h0m0 2h0m.1-5.1h0m0 2.6h0m0 .8h0m.1-2.8h0m.1-4.9h0m0 2.3h0m0 8.2h0m.1-4.3h0m.1-7h0m.2 6.3h0m0 1h0m.1-6.7h0m0 3.4h0m.1-3.6h0m0 3.5h0m.1 .6h0m0 1.4h0m.3-1h0m.1-.1h0m0 .3h0m0 1h0m.1-7.4h0m0 4h0m.1-4.6h0m0 2.8h0m0 2h0m0 1h0m0 1.9h0m0 6.4h0m.1-11.5h0m0 3.8h0m0 1h0m0 .6h0m.1-5h0m0 .8h0m0 .9h0m0 5.7h0m.1-5.7h0m0 2.8h0m.1-4.8h0m.1 5.1h0m0 .3h0m0 1.1h0m0 .6h0m.1-5.8h0m0 2.6h0m0 1.2h0m0 3.6h0m.1-5h0m0 0h0m0 3.5h0m.1-4.6h0m.2 .1h0m.1-.3h0m0 3h0m0 2h0m0 .3h0m.2-6.6h0m0 7h0m.1-7.7h0m0 5.7h0m0 1.4h0m.1-5.2h0m0 .8h0m.1-5.8h0m0 .1h0m0 9.6h0m.1-1.4h0m.1-3.1h0m0 1.7h0m0 5.1h0m0 1.3h0m.1-6.6h0m0 .7h0m0 .6h0m.1-5.2h0m0 .8h0m0 .7h0m0 2h0m0 .3h0m0 2.2h0m.1 3.4h0m.1-8.2h0m.1-.6h0m0 3.1h0m0 2.6h0m.1-2.3h0m0 2.2h0m.1-8.6h0m0 2.5h0m0 1.6h0m0 1.1h0m0 2.7h0m0 .8h0m.1-5.6h0m0 .1h0m0 5.8h0m.1-8.3h0m0 9.4h0m.1-6.9h0m0 4h0m.2-8h0m0 10.6h0m.1-6.4h0m0 1h0m0 1.7h0m0 5.6h0m.1-7.6h0m0 4.8h0m.1-3.1h0m0 .7h0m0 .9h0m.1-5.4h0m0 1.2h0m.1-3.2h0m0 .1h0m0 2h0m0 3h0m.1-3.2h0m0 2.6h0m0 2.9h0m0 3.7h0m.1-11.7h0m0 7.2h0m.1-2.7h0m.1 4.7h0m.1-6.7h0m0 2.5h0m.1-3.5h0m0 .7h0m0 9.2h0m.1-5.5h0m.1-5.5h0m0 .7h0m0 5.6h0m0 2.6h0m.1-9.1h0m0 3.9h0m0 .2h0m0 2.6h0m.1-4.7h0m0 4.1h0m0 5.8h0m.1-9.9h0m.1-.1h0m0 2.2h0m0 .9h0m.1 1.2h0m0 4.5h0m.1-9.8h0m0 3.7h0m0 4.9h0m.1-8h0m0 3h0m0 1.1h0m0 3.4h0m.1-6.4h0m.1 1.5h0m0 1.3h0m0 0h0m0 2.4h0m.2-1.1h0m.1-6.8h0m0 2.4h0m0 2.2h0m.1-1.2h0m.1 3.9h0m.1-1.3h0m0 2h0m0 .4h0m.2-3.7h0m.1-4.7h0m.1-2.5h0m0 5.1h0m0 4.2h0m.1-11h0m0 5.4h0m0 6.8h0m.1-5.3h0m.1-.5h0m0 3.4h0m0 4.1h0m.1-6.6h0m.1-1.4h0m0 .4h0m0 5h0m.1-2.2h0m.1-6.7h0m0 6.4h0m0 3.1h0m.2-5.7h0m0 2.9h0m.1-7.8h0m.1 2.5h0m0 1.4h0m0 .2h0m0 .6h0m.1 1.7h0m0 1h0m0 2.5h0m.1-8h0m0 2.6h0m0 1.3h0m0 1.1h0m.1-1.7h0m.1-3.2h0m.2 3h0m.1 3.7h0m.1-.9h0m0 4.3h0m.1-4.5h0m.2-9.4h0m0 11h0m.1-10.2h0m.1 7.6h0m.1 .2h0m.1 5h0m.3-7.1h0m0 4.1h0m.1-10.8h0m0 3.5h0m0 2.5h0m0 2.2h0m.2-3h0m0 8.4h0m.1-9.6h0m0 0h0m0 .3h0m0 1.9h0m0 2.2h0m0 1.4h0m.1-2.5h0m.1-9.2h0m0 2.1h0m0 8.3h0m.1-6.5h0m0 6.9h0m.1-3.4h0m.1 9.1h0m.1-10.6h0m0 3.7h0m0 1.8h0m0 1.2h0m0 .9h0m.1-7.6h0m.1 1.3h0m.2-5.9h0m0 6.6h0m.1 2.5h0m0 .5h0m0 .2h0m.1-2.4h0m.1-5.4h0m0 1.8h0m.2 .9h0m.1 4h0m.1-.8h0m0 .7h0m.1-.6h0m0 1h0m0 .3h0m.2-3.7h0m0 1.2h0m0 6h0m.1-1.5h0m.1-4.5h0m.1-1.8h0m0 .4h0m.1 1.1h0m0 2.8h0m.1-4.1h0m0 1.2h0m0 1.3h0m.1 1.3h0m.2-7.1h0m0 6.7h0m.1-10h0m0 6.3h0m0 5.3h0m.1-4.7h0m.1-1.4h0m0 2.7h0m.2 2.7h0m.2-1.4h0m0 .5h0m.3-3.6h0m0 4.1h0m.1 5.7h0m.2-7.2h0m.2-5.8h0m0 6.2h0m.1-3h0m.1 2h0m0 .8h0m.2-1.6h0m.3 .5h0m.1-2.7h0m.2 .2h0m.1 .1h0m.1 .8h0m0 1.1h0m0 2.6h0m.2 .7h0m.2-3h0m.2 0h0m.2 0h0m.7-6.2h0m.1 10.7h0m.3-6.6h0m.1-2h0" stroke="#5e1a66" stroke-width="0.5" stroke-linecap="round" fill="none" opacity="0.65"/><path d="M521.1 315.7h0m.3 14.3h0m.2-.6h0m.4-4.2h0m.2 5.1h0m0 .6h0m.1-3.3h0m.2 .8h0m0 3h0m.5-2.8h0m.6-4.4h0m.1 .7h0m.7-6.9h0m0 8.1h0m.3-7.4h0m.3 12.5h0m.2-3.5h0m0 1.1h0m.2-1.4h0m.1-2.2h0m0 .1h0m0 4.2h0m.1-12.9h0m0 4.6h0m.1 5.7h0m.5-7h0m0 5.1h0m.1-7.1h0m0 7.6h0m0 2h0m.4-1.2h0m0 1.8h0m.2-5.4h0m.1-4.4h0m.3-.6h0m0 3.7h0m0 .6h0m.3-1.7h0m.2 5.4h0m0 4.2h0m0 .2h0m.1-13.9h0m0 .4h0m0 8.5h0m0 4.8h0m.1-11.6h0m.2 1.2h0m0 10.9h0m.3-2.7h0m.1-4.7h0m0 1.5h0m0 4.8h0m.1-3.5h0m.1-.6h0m.1 1.1h0m0 2.3h0m.1-1.2h0m.1-3.6h0m.1-6.4h0m.1-2.5h0m0 6.5h0m.1-4.9h0m.1 4.5h0m.3 5h0m0 2.6h0m.3-12.8h0m.1 10.3h0m.3-3.8h0m.1 2.9h0m.1-8.6h0m0 3.8h0m.2-2.5h0m0 6.4h0m.1-7.8h0m.1 1.3h0m.1 6.8h0m.3-.2h0m.3-2.1h0m0 8.2h0m.2-9.8h0m.1 .2h0m.1 1.8h0m.1-5.2h0m0 6.9h0m.1-4.1h0m0 8.7h0m.2-13.1h0m.1 0h0m0 4.2h0m.1 7.6h0m.5-10.5h0m.2-1h0m0 11.6h0m0 .3h0m.3-10h0m.1-4.1h0m0 1.4h0m0 4.7h0m.1-5h0m.2-6.7h0m0 3.8h0m.1 3.5h0m.2-2.7h0m.6-13.8h0m.1 16.8h0m.2-7.6h0m0 12.7h0m.1-7.4h0m.1-9h0m0 4.3h0m0 7.1h0m.1-6.4h0m.1 4.1h0m.2-9.2h0m0 11.5h0m0 10.3h0m.3-6.3h0m.3-8.8h0m.2-6.6h0m0 .7h0m0 10.2h0m.3-1.2h0m.1 6.7h0m.1-9.7h0m0 7.8h0m.1-11.7h0m0 5.5h0m.3-6.3h0m.1-5.7h0m0 18.1h0m.1-13.4h0m.1 8.7h0m.1-5.4h0m0 2.1h0m.3 .4h0m.2 4.4h0m.1-7.5h0m.1 2.5h0m0 .7h0m.3-1.8h0m0 .4h0m.1 5.9h0m.1-11.3h0m.1 3.4h0m0 4.9h0m0 3.7h0m.1-15.9h0m0 20.2h0m.1-8.8h0m0 3.3h0m.3-5.2h0m0 2.6h0m.2-1.3h0m.3 1.9h0m.1 .6h0m0 3.9h0m.6-11.3h0m.2 3.3h0m.1 10.5h0m.2-8.3h0m.1-2.9h0m0 3.2h0m.1-8.4h0m0 2.8h0m.1 4.8h0m.1-3.8h0m.3-3.6h0m.1-2.8h0m0 6.8h0m0 3.2h0m.4 6.9h0m.1-9.1h0m.4-9.2h0m0 8.7h0m0 7.1h0m.1-4.2h0m.2 6.6h0m.4-11.5h0m0 11h0m.8-20.5h0m.1 11.9h0m.1-2.3h0m.1-6.2h0m.3-4.2h0m0 13.1h0m.4 3.1h0m.1-3.6h0m0 4h0m.1-7.2h0m.1-3h0m0 2.4h0m.2 7.8h0m.1-3.3h0m.2-8.8h0m.2 5h0m.1 11.8h0m.7-17h0m0 3.7h0m.3 5.2h0m.1-5.6h0m.2 1.9h0m.3 4.5h0m.2-12h0m.1 .6h0m0 1.2h0m.5 1.3h0m.3 11.3h0m.4-12h0m.1-.1h0m.1 3.9h0m.2-2.8h0m.5 4.3h0m.4-5.5h0m0 2.8h0m.1-8.5h0m0 15.6h0m.5-7.2h0m.2-7.2h0m0 2.4h0m0 6.7h0m.4 2.9h0m1.6-5.7h0m.1 6.3h0m.1-5.7h0m1 .2h0m.4-6.6h0m1.4 7.6h0m.7 .1h0" stroke="#5e1a66" stroke-width="0.5" stroke-linecap="round" fill="none" opacity="0.7"/><path d="M522.8 328.4h0m.1 .2h0m0 .3h0m.1-.7h0m.1-2.1h0m0 .3h0m.1 1h0m.1-2.4h0m.1 4.6h0m.1-3.7h0m.1-2.4h0m.1-2.4h0m0 1.1h0m0 .8h0m0 1.8h0m0 4.9h0m.1-8h0m0 1.5h0m0 2.7h0m0 .4h0m0 1h0m0 .8h0m.1-4.7h0m0 3.9h0m.1-9.4h0m0 4.4h0m0 .3h0m0 7.5h0m.1-8.5h0m0 .1h0m0 1.6h0m0 2h0m0 2h0m.1-5.7h0m0 7.2h0m0 .3h0m0 .9h0m.1-8h0m0 4.4h0m.1-5.2h0m0 3.1h0m0 2.3h0m.1-4.9h0m0 2.3h0m0 3.5h0m0 1.3h0m.1-6h0m.1-3.6h0m0 1.2h0m0 4.3h0m0 .1h0m0 1.3h0m0 1.8h0m0 .3h0m.1-9.1h0m0 1.6h0m0 1.8h0m0 6.2h0m.1-9.4h0m0 4h0m0 3.7h0m.1-6.1h0m0 3h0m0 1.6h0m0 .2h0m0 3.9h0m.1-9.3h0m0 5.3h0m0 3.3h0m.1-9.9h0m0 9.2h0m0 .5h0m0 .4h0m.1-8.1h0m0 1.6h0m0 3h0m0 2h0m0 .7h0m.1-5h0m0 1.9h0m.1-7.1h0m0 .3h0m0 2.4h0m0 5.9h0m.1-10.6h0m0 4.4h0m0 .3h0m.1-2.4h0m0 3.1h0m0 1.7h0m.1-6.5h0m0 .1h0m0 1.8h0m0 .2h0m0 3.2h0m0 2.1h0m.1 .4h0m.1-7.9h0m0 .7h0m0 1.1h0m0 1.7h0m0 .6h0m0 3.8h0m.1-4.3h0m.1 .9h0m.1-2.9h0m0 .5h0m.1-4.5h0m.1 .5h0m0 4.3h0m0 .9h0m.1-6.2h0m0 1.1h0m0 .7h0m0 1.8h0m0 0h0m0 .4h0m0 2.2h0m0 3.2h0m.1-7.3h0m0 1.9h0m0 1.6h0m0 .1h0m0 2.9h0m.1-8.1h0m0 7.7h0m.1-7.1h0m0 3.8h0m.1-2.7h0m0 7.3h0m.1-4.9h0m0 1.7h0m.1-12.6h0m0 10.4h0m0 .4h0m.1-6.2h0m0 9.3h0m.1-3.8h0m.1-4.5h0m0 4.7h0m.1-.7h0m.1-6.5h0m0 .8h0m0 .4h0m0 1.9h0m0 4.9h0m0 1.2h0m0 .1h0m.1-6.5h0m0 8h0m.1-8.6h0m0 1.9h0m.1 1.4h0m.1-3.3h0m0 5.6h0m.1-9.4h0m0 4.9h0m0 .2h0m0 1.2h0m0 .6h0m0 1.4h0m.1-7h0m0 4.8h0m0 1.4h0m0 1.5h0m.1-7.3h0m0 1.4h0m.1-1.1h0m.1 1h0m.1-1.6h0m0 2.5h0m0 .3h0m0 3.3h0m0 3.8h0m.1-8.7h0m0 1.4h0m0 0h0m.1-2.9h0m.1-.7h0m0 4.8h0m.1-4h0m0 4.2h0m0 .5h0m.1-3.9h0m.1 0h0m0 4.6h0m.1-3.2h0m0 .1h0m0 1.8h0m.1-3.2h0m.1-2.6h0m0 .7h0m.1 5.9h0m.1-.8h0m.1-5.3h0m0 2.3h0m.1 2h0m0 .8h0m.1-4.9h0m0 .8h0m0 .4h0m0 3.7h0m.1-6.8h0m0 3.2h0m0 3.7h0m.1-7.3h0m0 1.7h0m.1-.1h0m0 3.9h0m.2-.5h0m0 .2h0m0 .8h0m.2-5.4h0m0 3.8h0m0 1.6h0m.2-2.3h0m.1-1.6h0m0 2.8h0m.1-5.2h0m.1 1.6h0m.1-1.3h0m0 3.8h0m.1-2.1h0m0 .7h0m.1-1.2h0m0 2.6h0m.1-1.4h0m0 3.1h0m0 3h0m.1-9.7h0m0 2h0m.1-2.6h0m.1 4.3h0m.2-1.1h0m.1 1.1h0m0 .1h0m.2-.5h0m.3-1.6h0m0 2.4h0m.1-2.1h0m.2 1.5h0m0 .2h0m.1-2.3h0m.1-2.1h0m0 2.6h0m.1 2.4h0m0 .1h0m.1-6h0m0 .7h0m.4 .9h0m0 3.1h0m.1-1.9h0m.4 .6h0m.2-.1h0m.3-1.2h0m.3-.3h0m.2 3.8h0m.3-2.2h0m.1-.2h0m0 .2h0" stroke="#a4f4a4" stroke-width="0.8" stroke-linecap="round" fill="none"/><polygon points="522.3,331.9 522.8,318.7 524.8,311.5 527.9,306.4 535.5,307.4 534.5,310.0 530.4,317.6 526.9,326.8 525.3,331.9" fill="#a4f4a4"/><path d="M524 324.2h0m.2 4.7h0m0 1h0m0 1.2h0m.7-.9h0m.1-.1h0m0 1.3h0m.1-2.3h0m.1 .5h0m.1-1.9h0m.1 .5h0m0 .6h0m0 1.3h0m0 .4h0m0 1.4h0m.1-4.5h0m0 3.2h0m.1-10.7h0m0 10.7h0m.1-4.9h0m0 5.8h0m.1-2.4h0m.2-1.6h0m0 .8h0m.1 1.3h0m.1-5.5h0m0 4.5h0m0 1h0m0 1.8h0m.2-8.2h0m0 5.9h0m0 2.5h0m.1-5.2h0m0 1.2h0m0 .3h0m0 1.3h0m0 .6h0m.1-.5h0m0 .1h0m0 .8h0m.1-10h0m0 9.2h0m0 2h0m.1-9.2h0m0 2.4h0m0 .1h0m0 4.6h0m0 1.5h0m.1-6.4h0m0 3.9h0m.1-5.2h0m0 3.7h0m0 .9h0m0 2.6h0m.1-6.9h0m0 1.8h0m0 3.3h0m0 2.8h0m.1-4.8h0m0 3h0m0 1h0m.2-6.1h0m0 .9h0m0 1.9h0m0 2.4h0m0 .7h0m0 .2h0m.1-8.1h0m0 6.8h0m0 .7h0m.1-6.3h0m0 1.8h0m0 .1h0m0 1.8h0m0 3.6h0m.1-9.7h0m0 .8h0m0 1h0m0 2.3h0m0 1h0m.1 .4h0m0 1.8h0m.1-6.7h0m0 2.6h0m0 .4h0m.1-2.9h0m0 .9h0m0 1.6h0m0 4.4h0m.1-9.3h0m.1 3.7h0m0 6.7h0m0 .2h0m.1-9h0m0 1.4h0m0 2.8h0m0 .4h0m0 1.1h0m.1 .2h0m0 .2h0m.1-3.2h0m0 3.1h0m.1-5.7h0m0 1.6h0m0 2.3h0m.1-5.7h0m0 5.8h0m0 1.5h0m.1-6.5h0m0 2.6h0m0 2.2h0m0 .1h0m0 0h0m0 .5h0m0 1.6h0m.1-3h0m0 .3h0m0 3.5h0m0 1.1h0m.1-9.1h0m0 1.5h0m0 .6h0m0 1.8h0m0 2.1h0m0 .1h0m0 .6h0m0 .5h0m0 3.2h0m.1-9.9h0m0 .6h0m0 5.4h0m.1-7.4h0m.1 4.3h0m0 1.9h0m0 .4h0m.1-7.5h0m0 3.5h0m0 .1h0m0 .3h0m0 4h0m0 .1h0m.2 .4h0m.1-6.6h0m0 .8h0m0 .1h0m0 1.1h0m0 1.3h0m0 .3h0m.1-3.7h0m0 2.7h0m0 3h0m.1-3.8h0m0 .7h0m0 1.7h0m0 3.9h0m.1-9.2h0m0 .3h0m0 1.7h0m0 2.4h0m.1-3.3h0m0 1.4h0m0 2.3h0m.1-4h0m0 2h0m0 2.9h0m0 1.5h0m0 .1h0m.1-6.1h0m0 .6h0m0 1.4h0m.1-9.4h0m0 10.8h0m0 .9h0m.1-3.9h0m0 .7h0m0 1.1h0m0 .5h0m0 .5h0m0 1.6h0m0 4.1h0m.1-6.9h0m0 .8h0m0 .5h0m0 1.6h0m.1-5.3h0m0 2.5h0m0 1.4h0m.1 .1h0m0 1.1h0m.1-2.7h0m0 2.7h0m0 .9h0m.1-11.4h0m0 2.8h0m0 .7h0m0 1.9h0m0 4.8h0m.1-9.4h0m0 .2h0m0 .3h0m0 1.4h0m0 1.4h0m0 3.1h0m.1-7.4h0m0 3.1h0m0 1.2h0m0 .8h0m0 5.4h0m0 .6h0m.1-10.9h0m0 1h0m0 1h0m0 4h0m.1-6.5h0m0 3.8h0m0 .9h0m0 .1h0m0 1.2h0m0 .2h0m.1-2.6h0m0 3.6h0m0 2.5h0m.1-5.2h0m0 1.9h0m0 3.7h0m.2-8.2h0m0 1.8h0m0 1.2h0m0 4.6h0m.1-10.2h0m0 4.8h0m0 1.8h0m0 .7h0m0 .8h0m0 1.4h0m.1-8.5h0m0 2.3h0m0 .6h0m0 3.2h0m0 .5h0m0 1.3h0m0 .7h0m.1-8.3h0m0 3.9h0m0 3.3h0m0 1.1h0m.1-4.6h0m0 2.3h0m.1-11.2h0m0 3.4h0m0 5h0m0 .6h0m0 1.5h0m.1-1.7h0m0 1.2h0m0 4.2h0m.1-5.9h0m0 .5h0m0 .7h0m0 .1h0m0 2.8h0m.1-3.2h0m0 1.8h0m.1-4.5h0m0 .8h0m0 4h0m.1-1.3h0m.1-.1h0m0 1.5h0m.1-1.6h0m0 1.4h0m0 1.1h0m0 1.8h0m.1-7.7h0m0 5.5h0m0 .2h0m.2-5.9h0m0 1.4h0m.1-3.4h0m0 2.7h0m0 .6h0m0 6.9h0m.1-11.5h0m0 5.1h0m0 1.6h0m0 .6h0m0 1.8h0m0 1.6h0m.1-7.4h0m0 .1h0m0 1.4h0m0 2.1h0m.1-9.5h0m0 4.1h0m0 2.2h0m0 4.7h0m0 .1h0m0 .8h0m.1-10.1h0m0 8h0m.1-5h0m0 1.9h0m0 1.2h0m0 3.4h0m0 1.6h0m.1-6.1h0m0 2.2h0m.1-8.2h0m0 1.9h0m0 .8h0m0 .3h0m0 .3h0m0 2.6h0m.1-2.3h0m0 .4h0m0 5.6h0m.1-6.7h0m0 2.4h0m.1-2.3h0m0 .7h0m0 1.8h0m0 3.1h0m.1-8h0m0 2.7h0m0 1.2h0m0 1.9h0m0 .9h0m.2-4.1h0m0 1.9h0m0 1.6h0m0 2h0m.1-6.8h0m0 1h0m0 2.2h0m0 2.1h0m.1-7.1h0m0 3.7h0m0 2.5h0m.1 .2h0m0 .5h0m.1 3.9h0m.1-9.2h0m0 .1h0m0 2.2h0m0 2.2h0m0 .9h0m0 .1h0m.1-7.7h0m0 5.4h0m0 .3h0m.1-1.4h0m0 3.2h0m.1-2.1h0m0 1.1h0m0 .9h0m.1-7.1h0m0 2.6h0m0 .3h0m0 1.9h0m.1-8h0m0 3.6h0m.1 4.8h0m0 .3h0m.1-6.4h0m0 3.2h0m0 3.3h0m0 1.5h0m0 2.1h0m.1-5.2h0m0 .9h0m.1-3.8h0m0 0h0m0 2.8h0m0 1.5h0m.1-6.9h0m0 5.5h0m.2-6.5h0m0 5.2h0m0 .7h0m0 2.7h0m.1-4.8h0m0 1.4h0m0 2.8h0m.1-1.7h0m.1-1.3h0m0 .4h0m.1-7.4h0m0 6.9h0m0 3h0m0 1.3h0m.1-6.2h0m0 4.5h0m.1-6.8h0m0 6.5h0m0 1.8h0m0 .4h0m.1-7.4h0m0 1h0m0 .5h0m0 2.1h0m0 2.7h0m.1-5h0m0 .2h0m0 1h0m.1-5.5h0m0 3.1h0m0 3.9h0m.1-5.3h0m.1 2.9h0m0 2.9h0m.1-5.9h0m0 1.1h0m0 3.8h0m.1-4.3h0m0 .7h0m0 7.5h0m0 .4h0m.1-9.8h0m0 2.3h0m0 3.5h0m0 .8h0m.1-5.7h0m0 3.6h0m0 2.2h0m.1-6.7h0m0 4.7h0m0 4.6h0m.2-7.9h0m0 3h0m0 .5h0m0 3.3h0m.1-5.6h0m0 1.7h0m.1-8.7h0m0 7.3h0m0 1.9h0m0 2.4h0m0 .4h0m.1-6h0m0 .1h0m0 .5h0m0 1.7h0m.1-2.8h0m0 1h0m.1 3.4h0m.1-3.4h0m0 1.1h0m0 .3h0m0 2.8h0m0 2.2h0m.1-5.7h0m0 .3h0m0 1.1h0m0 2.7h0m.1-4.7h0m0 1.3h0m0 .3h0m.1-4.8h0m0 5.2h0m0 .1h0m0 3.4h0m.1 1.5h0m.1-10.9h0m.1 3.4h0m0 .9h0m0 2h0m0 .3h0m0 1.7h0m.1-4.4h0m0 1h0m0 1.8h0m0 .2h0m.1-5.6h0m0 3.5h0m0 1.4h0m0 4h0m.1-10.4h0m0 .7h0m0 2.2h0m0 2.9h0m0 .9h0m0 .2h0m.1-3.7h0m0 .5h0m0 2.9h0m0 .1h0m.1-5.7h0m0 8.8h0m.1-6.6h0m0 .8h0m0 2.7h0m0 0h0m0 4.1h0m.1-8.1h0m0 1h0m0 1.8h0m.1-2.3h0m.1 .1h0m0 2.8h0m.1 .2h0m.1-3.5h0m0 .5h0m0 .4h0m.1 .5h0m0 6.5h0m.2-9.3h0m.1 .2h0m0 3.9h0m0 .1h0m.1-3.3h0m0 1.3h0m0 .3h0m0 1.3h0m0 3.2h0m.1-3.3h0m.1-4.7h0m0 6.4h0m.1-7.3h0m0 5.1h0m0 .8h0m.1 .3h0m.1-9h0m0 2.6h0m0 2.2h0m.1 4.6h0m0 1.9h0m.1-4.6h0m0 .3h0m0 2.8h0m0 .5h0m.1-1.4h0m.1-6.5h0m.1 1h0m0 4.6h0m.1-3.2h0m0 2.2h0m0 .5h0m0 1.5h0m0 .5h0m.1 2.9h0m.1-10.6h0m0 3h0m0 2h0m.1-4.5h0m.1-2h0m0 1.8h0m0 5.1h0m.1-1.9h0m0 .2h0m0 1h0m.1 1.5h0m.1-5.7h0m0 4.5h0m.1-4.4h0m0 2h0m0 .9h0m0 2.6h0m.1-.5h0m.1-4.7h0m.1 1.4h0m.2 1.4h0m.1-.6h0m0 .6h0m0 .1h0m.1 1.1h0m0 1.2h0m.1 1h0m.1-4.2h0m0 .8h0m.1-2.6h0m0 3.5h0m0 .1h0m0 .9h0m.1-1.7h0m0 1.7h0m.1-3h0m0 .4h0m0 2.6h0m0 .2h0m.1-6.6h0m0 4.3h0m0 .3h0m.1-2.8h0m0 4h0m0 .5h0m.1-1.9h0m.2-2.8h0m0 2.7h0m.1-2.3h0m0 .3h0m0 0h0m0 1.4h0m0 2.4h0m0 .9h0m.1-3.1h0m.1-6.4h0m0 4h0m.1-1.2h0m0 3.1h0m0 .5h0m.1-3.6h0m0 8.5h0m.1-8.3h0m0 1.2h0m.1 .2h0m.1-1h0m0 6.1h0m.2-8.5h0m0 .7h0m0 4.4h0m0 4.8h0m.1-7.8h0m0 4.1h0m.2-3.2h0m.1 4.6h0m.1-3h0m0 1.9h0m0 .4h0m.1-.2h0m.1 3.1h0m.1-2.9h0m.1-1.5h0m0 1.6h0m.2-4h0m.1 .7h0m.1 1.8h0m.3 0h0m.3 1.1h0m.2 .1h0m0 .9h0m.1-1h0m.2-.4h0m.1 1.8h0m.6-3.6h0m1-.9h0m0 2.6h0m0 1.9h0" stroke="#5e1a66" stroke-width="0.5" stroke-linecap="round" fill="none" opacity="0.85"/><path d="M527 328.1h0m.1-1.7h0m.5-2.7h0m0 2.1h0m0 1.9h0m0 .7h0m.1-1.6h0m0 1.5h0m.1-.6h0m.1-3.4h0m.1 .8h0m.1-1.7h0m.1 .2h0m.1 1.4h0m0 1.5h0m.1-2h0m0 1.8h0m.1-1.8h0m0 .1h0m0 .9h0m0 2.3h0m.1-3.8h0m0 .1h0m0 1.9h0m.1-2.1h0m0 2.1h0m0 1.3h0m.1-3.1h0m0 3.4h0m.1-3.5h0m.3-1.2h0m0 .7h0m0 .2h0m.1 1.3h0m0 .4h0m0 .2h0m.1-3.8h0m0 .1h0m0 .2h0m0 .3h0m0 1.4h0m.1 1.6h0m.1-4h0m0 .6h0m0 3.2h0m.2-4.2h0m0 2.1h0m.1-1.5h0m0 3.9h0m.1-2.2h0m.1-1.8h0m0 1.1h0m0 .1h0m.1-.8h0m0 2.1h0m.1-2.8h0m0 1.2h0m.1-1.1h0m0 .1h0m0 1.3h0m0 .5h0m.1-4.3h0m0 3.9h0m.1-1.1h0m.1-2.3h0m0 1.4h0m0 2.1h0m.1-2.7h0m.1 .6h0m0 .3h0m.1-2.9h0m0 3.3h0m0 .1h0m.1-1.1h0m.1-.3h0m.1 1.1h0m0 .3h0m.2-5.1h0m0 3.7h0m0 .7h0m0 1.4h0m.2-1.6h0m.1-.1h0m.1-3.4h0m.1 2.4h0m.1 .2h0m.1-5.1h0m.2 2.9h0m0 .3h0m.2 1.3h0m0 .1h0m0 .5h0m.2-3.7h0m0 1.1h0m0 .6h0m.1 1.9h0m.2-3.1h0m0 1.4h0m.1-2.6h0m0 1.5h0m0 2.2h0m.2-4.3h0m0 3.5h0m0 .3h0m.1-1.4h0m.1-1.5h0m0 .6h0m0 1h0m0 .3h0m.1 .5h0m.1 .1h0m.1-2.1h0m.1-.2h0m0 .7h0m0 .1h0m.2-2h0m.1-1.8h0m0 .5h0m0 3h0m0 .2h0m.1 1.3h0m.1-2.9h0m0 1.1h0m.1-1.1h0m.1 1.5h0m.2-1.6h0m0 1h0m.1-1.9h0m0 .3h0m0 1.7h0m0 2.2h0m.1-2.7h0m0 .1h0m.1-2.6h0m0 1.2h0m.1-.1h0m0 .2h0m0 .7h0m.1-2.3h0m0 .6h0m.1-.8h0m.4 1h0m.1-1.4h0m0 .6h0m0 2.4h0m.1 .5h0m.1-2h0m0 1h0m.1-1.6h0m.1 1.5h0m0 .2h0m.2-1.1h0m.1-.3h0m.1 1.1h0m.1-1.8h0m0 .7h0m.2-1.3h0m.1 1.9h0m.1-.9h0m0 1.8h0m0 .3h0m.1-2.5h0m0 1h0m.1-1.9h0m0 .4h0m0 1.5h0m0 2.1h0m.1-4.3h0m0 0h0m.1 .4h0m0 3.6h0m.1-7.3h0m0 4.8h0m.2-3.4h0m0 .5h0m0 1.4h0m.1 2.6h0m.1-2.6h0m.1 2.4h0m.2-1.7h0m.1-4h0m.1 2.5h0m.1 1.5h0m.1-2.3h0m0 1.8h0m.1-3.1h0m0 3.6h0m.1-3.6h0m0 1.6h0m0 2.1h0m0 1.3h0m.1-1.2h0m.1-.3h0m.2 .2h0m.1-2.6h0m0 2.1h0m.1-2.1h0m.1-.1h0m0 0h0m.3-.7h0m0 2h0m.2-2.5h0m.3 .6h0m0 .1h0m.1-1.6h0m0 1.5h0m.1-1h0m.1 1.5h0m.1 2.6h0m.3-4.3h0m0 1.8h0m.1-2.3h0m.2 1.8h0m0 .9h0m.2-.2h0m.1 1.2h0m.2 1.1h0m.1-1.3h0m.2-1.5h0m1 .9h0" stroke="#5e1a66" stroke-width="0.55" stroke-linecap="round" fill="none" opacity="0.9"/><path d="M614.4 331.9h0m2.1-3.9h0m.9-1.7h0m.3-1.4h0m.5 2h0m.2 1.6h0m1.1 3h0m.1-.9h0m.2-2.1h0m.3-3.2h0m0 6.6h0m.1-3.4h0m.3-2.6h0m.2 2.9h0m.6 0h0m.1-7.6h0m0 7.4h0m0 2.8h0m.2-1.4h0m.2-7.3h0m.1 1h0m0 5h0m0 1.2h0m.1-9.1h0m.2-2.8h0m0 2h0m0 3.6h0m.1-5.9h0m.1 .1h0m.3-4.3h0m0 5.3h0m0 3.1h0m0 2.1h0m.1 3.6h0m.1-13.1h0m0 15.7h0m.2-8.1h0m0 2.5h0m0 2.3h0m0 2.1h0m.2-12.5h0m0 10.2h0m0 4.1h0m.1-14.3h0m0 2h0m.1 7.3h0m0 .3h0m.2-4.5h0m.1-1.1h0m.3 1.1h0m.5 4.1h0m.2-5.7h0m.1 6.1h0m0 2.3h0m0 2.1h0m.3-12.8h0m.2-1.3h0m.1 2.5h0m0 5.3h0m.2-9.8h0m0 5.8h0m0 11h0m.1-7.3h0m.2-9.2h0m.1 7.9h0m.1-10.3h0m0 18.4h0m.1-5.5h0m.3-15.6h0m.1 10.6h0m0 4.4h0m0 3.5h0m.1-10.1h0m0 6.3h0m0 5h0m.1-9.3h0m.1-13.1h0m.1 11.1h0m0 5h0m.1-15.2h0m0 4.6h0m0 12.9h0m0 4.5h0m.1-7h0m.1-2h0m.1-8.4h0m.2 14.4h0m0 4.6h0m.1-14h0m.1 3.5h0m0 3.1h0m.3-6.7h0m.1-3.4h0m0 5.4h0m.2-2.6h0m.1 12.2h0m.1-15.2h0m0 8.4h0m.5-21.1h0m.1 9h0m.1 8.1h0m0 .2h0m.3-5.1h0m.3-3.4h0m.1-1.3h0m.3 9.2h0m.1 6.5h0m.1-11.1h0m.1-7.5h0m0 4.2h0m0 9.5h0m.1-2.8h0m0 1.3h0m.1-6.9h0m.3-2.1h0m.2 5.3h0m0 5h0m.1 8.5h0m.1-15.2h0m0 8.6h0m.2-8.4h0m.1 5.4h0m0 1.7h0m.2-3.6h0m.1-7.7h0m0 1.8h0m0 .6h0m0 6.4h0m.1-5.4h0m0 8.8h0m.3 2.7h0m.1-21.3h0m0 10.2h0m.1-3.8h0m0 1.8h0m.1 1.7h0m0 7.5h0m.1-10.9h0m.1-3.4h0m.2 3.1h0m0 4.5h0m0 8.2h0m.1-5.9h0m.2-7.2h0m0 8.1h0m.4-11.5h0m0 25.1h0m.4-16.7h0m.3 3.4h0m.4-3.7h0m0 2.4h0m.3-7.3h0m0 13.1h0m.1-18.4h0m.1 10h0m.1-8h0m0 13.3h0m.3-6.1h0m.4-1.2h0m.1-.4h0m.1-4.6h0m0 3.3h0m0 2h0m.4-5.1h0m0 .4h0m.1 2.6h0m.2-1.8h0m.2 5.1h0m.1-8.4h0m.1 1.9h0m.1 3.4h0m0 2.4h0m.1-13h0m.1 5.8h0m.1-3h0m0 12.9h0m.2-7.7h0m0 1.6h0m.3-.6h0m.1-.7h0m.1-11.7h0m0 4.8h0m.3 13.3h0m0 3.2h0m.6-9.4h0m.1-5.8h0m.7 11.3h0m0 4.9h0m.1-15.5h0m.3 .9h0m0 6.7h0m.4-.1h0m.2-4.7h0m.1-3.5h0m0 3h0m.2 4.1h0m.1-11.3h0m.2 8.2h0m.2 .1h0m0 2.7h0m.1-1.4h0m0 .1h0m.1 4h0m0 6.9h0m.1-23.2h0m.1 3.4h0m.2-4.6h0m0 7h0m.1-6.8h0m0 10.8h0m.1-.8h0m.1-1.8h0m0 5.8h0m.2-1.8h0m0 1.8h0m.2-4.7h0m.2 .4h0m0 9.9h0m.1-6.1h0m.5 1h0m.2-.2h0m.1-1.3h0m.1-.6h0m.1-4.5h0m0 6.4h0m.3-3.5h0m.3 1.9h0m.1-5.2h0m0 4.1h0m.4 1.5h0m.4-3.4h0m.1 2.4h0m.1-4.1h0m.1 4.4h0m.3-.4h0m.1 3.8h0m.2-6.4h0m.1-.5h0m.1 7h0m.4-7.1h0m.2-5h0m.2 11.1h0m.3-13h0m1 5.7h0m.5 4.3h0m.1 4.4h0m.4-4.3h0m.3-.8h0m.1-1.1h0m.6-2.9h0m.4 4.1h0m4.1 4.8h0m.6 .8h0" stroke="#5e1a66" stroke-width="0.5" stroke-linecap="round" fill="none" opacity="0.65"/><path d="M617.9 328.7h0m.1-2h0m0 2.4h0m.1-1.3h0m.1 .6h0m.1-3.5h0m.2 .8h0m0 .9h0m0 .2h0m0 3.3h0m.1-9.9h0m0 4.6h0m0 1h0m.1 3.6h0m.1-4h0m0 4.5h0m.1-6.4h0m0 .6h0m0 5.6h0m.1-8.2h0m0 .7h0m0 2.7h0m.1 .2h0m0 3.1h0m0 1.8h0m.1-1.3h0m.1-6.6h0m0 7.3h0m0 .5h0m.1-4.9h0m0 .6h0m0 2h0m.1-6.6h0m0 4.9h0m0 1.8h0m0 .8h0m0 .4h0m0 1.6h0m.1-6h0m0 3.1h0m0 1.7h0m0 0h0m0 .2h0m.1-10h0m0 1.6h0m0 .4h0m0 1h0m0 2.2h0m0 .4h0m0 3.4h0m.1-5h0m0 4.1h0m.1-5.9h0m0 3.4h0m.1 .9h0m0 2.3h0m0 1.5h0m.1-7.6h0m.1-1.8h0m0 1.6h0m0 1.6h0m0 .6h0m0 4.3h0m.1-5.4h0m0 1.7h0m0 1.2h0m0 .4h0m.1-6.8h0m0 2.7h0m.1-2.9h0m0 7h0m.1-9.4h0m0 1.7h0m0 1.5h0m.1 2h0m0 4.3h0m.1-11.1h0m0 3.2h0m.1-1.7h0m.1-.5h0m0 7.3h0m0 .7h0m0 .4h0m0 0h0m.1-10.2h0m0 1h0m0 1.7h0m0 1.5h0m0 4h0m.1-3.7h0m0 5.2h0m.1-8.8h0m0 .8h0m.1-4.4h0m0 6.6h0m0 4.9h0m.1-5.6h0m0 1.5h0m0 1.5h0m0 .1h0m0 1.3h0m.1-10.3h0m0 9.1h0m.1-1.6h0m.1-6.1h0m0 5.1h0m0 1.8h0m0 1.3h0m.1-12.5h0m0 3.7h0m.1 8.2h0m.1-6.7h0m0 3.2h0m0 .1h0m0 .3h0m0 1.3h0m.1-5.3h0m0 6.9h0m0 2.5h0m.2-11.2h0m0 1.8h0m0 2.9h0m.1-8.3h0m0 5h0m0 2.9h0m.1 4.7h0m.1-3.4h0m0 .6h0m.1-5.4h0m0 .4h0m0 2.7h0m0 .9h0m.1-4.6h0m0 6.5h0m0 .4h0m.3-8.4h0m0 3.3h0m0 1.8h0m0 2.4h0m0 .3h0m.1-1.3h0m0 .6h0m.1-7.6h0m0 1.2h0m0 .4h0m0 1.8h0m.1 1.6h0m.1-3.3h0m.1 .8h0m0 .3h0m0 2.8h0m.1-.3h0m0 1.5h0m.1-7.3h0m0 1.5h0m0 .6h0m0 .6h0m0 1.4h0m.2-2.6h0m0 1.2h0m0 2.8h0m.1-3.1h0m.1-1.2h0m0 5.4h0m.1-6.6h0m.1-.1h0m.2-.8h0m0 2.2h0m.1-1.3h0m.2-1.6h0m0 1.1h0m0 1.3h0m0 .1h0m0 3h0m.1-5.7h0m0 3.9h0m.1-.7h0m.1 1.9h0m.1-5.1h0m0 5.2h0m0 .5h0m.2-3.8h0m.1 2.1h0m.1 1.8h0m.1-5.4h0m0 .6h0m0 2.3h0m.2-2h0m.1-1.2h0m.1-.3h0m0 2.7h0m0 .9h0m0 1.2h0m.1-3.4h0m.3 2.9h0m.2-3.3h0m.1-2.3h0m0 2.5h0m.1 1h0m.3-2.5h0m0 2.5h0m.2-1h0m0 1.2h0m0 .7h0m0 3h0m.2-3.6h0m.1-3h0m0 2.1h0m0 .6h0m.1 .1h0m.1-4.5h0m.1 2.6h0m.2 1.3h0m.1-.2h0m0 1h0m.3-1.7h0m.1 1.7h0m.1-2.1h0m.3-1.5h0m1.1 4.1h0" stroke="#a4f4a4" stroke-width="0.8" stroke-linecap="round" fill="none"/><polygon points="617.3,331.4 617.8,318.7 620.3,311.5 623.9,308.4 629.0,309.0 628.0,312.0 624.9,317.6 621.9,325.8 620.3,331.4" fill="#a4f4a4"/><path d="M620 329.9h0m.2-1.4h0m.1 1.9h0m.3-6.6h0m0 6.1h0m.1 .3h0m0 0h0m.1-5.8h0m0 3.5h0m0 2.3h0m.1-.3h0m.1-.6h0m0 2.1h0m.1-1.7h0m.1-.9h0m0 .5h0m.1-1.9h0m0 3.4h0m.1-5.5h0m0 1.4h0m0 2.1h0m0 .7h0m0 1h0m.2-5.8h0m0 1.2h0m.1 3.1h0m0 .5h0m.1-1.1h0m.1 1.8h0m0 .2h0m.1-1.2h0m0 1.7h0m0 .5h0m0 .6h0m.1-3.8h0m0 1h0m0 .1h0m0 .9h0m0 .2h0m0 .3h0m.1-6.7h0m0 1.7h0m.1 3.6h0m.1-8.6h0m0 5.4h0m0 .3h0m0 .6h0m0 1.1h0m0 .9h0m0 .1h0m.1-7.1h0m0 1.7h0m0 2.2h0m0 .6h0m0 1.9h0m0 .6h0m0 2.3h0m.1-8h0m0 6.4h0m0 .1h0m.1-5.9h0m0 1.1h0m0 .8h0m0 .2h0m0 2.3h0m.1-4.6h0m0 2.4h0m0 4.1h0m0 .3h0m0 .7h0m.1-5.5h0m.1 3.6h0m.2-5.2h0m0 .8h0m0 .2h0m0 3h0m0 .5h0m0 .4h0m.1-2.9h0m0 3.1h0m0 .2h0m.1-9.3h0m0 1.2h0m0 3.6h0m0 1.5h0m0 .6h0m.1-3.2h0m.1-3h0m0 6.2h0m0 1.8h0m.1-10.1h0m0 9.6h0m0 1.5h0m.1-7.7h0m0 1.1h0m0 3.8h0m.1-1.1h0m.1-3.7h0m0 3.3h0m.2-1.2h0m0 1h0m.1-3h0m.1 5.8h0m.1-5.8h0m0 3.4h0m0 2.6h0m.1-4.1h0m.1 3.1h0m0 .1h0m0 1.1h0m0 2.2h0m.1-11.3h0m0 1.4h0m0 .5h0m0 0h0m0 2.9h0m0 1.3h0m0 1.6h0m0 .4h0m.1-7.9h0m0 2.3h0m0 .6h0m0 2.1h0m0 4.8h0m.1-9.4h0m0 .7h0m0 3.9h0m0 .6h0m0 1.8h0m.1-4.8h0m0 2.5h0m.1-1.9h0m0 1h0m.1-.9h0m.1 2h0m.1-2.4h0m0 .1h0m0 1.3h0m0 1.3h0m0 .4h0m0 .8h0m.1-5.6h0m0 2h0m0 1.9h0m.1-4.7h0m0 6.3h0m.1-7h0m0 1.1h0m0 2.1h0m0 3.4h0m.1-5h0m0 .8h0m0 2.3h0m.1-1.9h0m.1-1.8h0m0 1.7h0m0 1.8h0m0 0h0m0 .3h0m.1-6.1h0m0 1.9h0m0 3.3h0m0 1.9h0m.1-3.1h0m0 2.4h0m0 3.8h0m.1-6.6h0m0 1.4h0m0 .1h0m0 1.7h0m.1-2.7h0m.1-3h0m0 .3h0m0 .3h0m0 .9h0m0 2.6h0m0 4.4h0m.1-4.3h0m0 1.5h0m0 2.9h0m.1-8.3h0m0 .3h0m0 2.2h0m.1-8.9h0m0 6.8h0m.1 2.6h0m0 3.2h0m.1-2.9h0m.1-8.1h0m0 .7h0m0 5.6h0m.1-3.2h0m0 1.8h0m0 2h0m0 1.1h0m.1-8.8h0m0 8.2h0m0 2.3h0m0 .5h0m.1-6.1h0m0 3.7h0m.1-7.8h0m0 4h0m0 .4h0m0 5.8h0m.1-10.2h0m0 4.3h0m0 1.8h0m.1-6.6h0m0 8.4h0m0 .4h0m.1-7.9h0m0 6.2h0m0 1h0m0 1.1h0m.2-10.5h0m0 6.9h0m.2 .7h0m.1-.4h0m.1-2h0m0 3.7h0m.1-5h0m0 2.1h0m0 .7h0m0 2.9h0m.1-8.3h0m0 3.3h0m0 2.6h0m0 .5h0m0 1.4h0m.1-7.2h0m0 0h0m0 4.8h0m.1-6h0m0 3h0m0 1.8h0m0 1.5h0m0 .3h0m.1-4.6h0m0 7.4h0m.1-3.1h0m.1-6.7h0m0 2.7h0m0 1.9h0m0 2h0m0 .9h0m0 1h0m.1-3.3h0m0 .5h0m.1-4.2h0m0 .4h0m.1 1.8h0m.1-3.2h0m0 4h0m0 3.4h0m0 0h0m.1-3.2h0m0 .2h0m0 4.2h0m.1-3.6h0m0 .3h0m.1 .4h0m.3-8.8h0m.1 3.1h0m0 3.3h0m.1 4h0m.1-8h0m0 3.6h0m0 1.5h0m0 .2h0m.1-3.2h0m0 .5h0m.1-7.4h0m0 2.7h0m0 6h0m.1-4.5h0m0 6.9h0m.1-9.5h0m0 2.5h0m0 3.4h0m0 2.8h0m.1-7h0m0 7.2h0m.1-4.3h0m0 .4h0m0 1.5h0m0 .1h0m.1-2.5h0m0 1.5h0m0 .6h0m0 1.3h0m0 .8h0m0 4.7h0m.1-11.1h0m0 .9h0m0 2.7h0m0 2.7h0m.1-7.4h0m0 6.1h0m.1 4.5h0m0 .9h0m.1-7h0m0 1.9h0m.1-6.7h0m.1-1.4h0m.1-1.8h0m0 11.1h0m.2-11.1h0m0 10.7h0m.1-2.5h0m0 1.6h0m.1-2h0m0 3.4h0m0 .7h0m.1-9.3h0m0 12.1h0m.1-10.1h0m.4 2.7h0m0 1.3h0m.1-1.2h0m0 .9h0m.1-4.4h0m.1 5.2h0m0 2.7h0m.1-9.1h0m0 2.7h0m0 1.9h0m.1-6.3h0m0 2.1h0m0 2.2h0m0 1.6h0m.1-5.6h0m0 4.8h0m0 .5h0m.1-1.5h0m.1 1h0m0 0h0m0 1.8h0m0 4.8h0m.1-10.6h0m0 7.7h0m0 1.4h0m.1-6.2h0m0 3.7h0m.1-2.1h0m.1-2.3h0m0 .5h0m0 3.1h0m.2-6.2h0m0 1.9h0m0 .6h0m0 4.6h0m.1-9.1h0m0 1.1h0m0 1.5h0m0 3.7h0m0 1.9h0m0 3.2h0m.1-9.3h0m.1-2.2h0m0 10.7h0m.1-7.5h0m0 .8h0m0 2.6h0m.1-3.1h0m0 5.3h0m.1-8.2h0m.1-.6h0m0 .3h0m0 4.8h0m.1 .4h0m0 3.4h0m0 1.6h0m.1-7.9h0m0 2.6h0m.1-5.6h0m0 6.2h0m0 4h0m.1-7.6h0m0 .7h0m.1-6.7h0m0 4.7h0m0 7.4h0m.1-7.9h0m0 3.3h0m0 4.2h0m.1-5.2h0m0 1.6h0m0 1.8h0m0 .4h0m.1-5.8h0m0 7.4h0m.1-4.8h0m0 1.6h0m0 1.3h0m0 .2h0m.1-9.6h0m0 6.2h0m.1 7.9h0m.1-3.4h0m.1-2.5h0m.2-5.9h0m0 4.6h0m0 4.1h0m.1-3.6h0m.2-3.2h0m.1-1.3h0m0 5h0m.1-1.4h0m.3 .3h0m.1-5.6h0m0 8.1h0m.1-10.5h0m0 5.2h0m0 .9h0m0 .9h0m0 1h0m0 .6h0m.2-5.5h0m.1-1.2h0m.2 6.4h0m0 .2h0m.1-2.3h0m0 7.7h0m.1-10.5h0m.1 3.7h0m0 .7h0m0 .4h0m0 .7h0m0 .1h0m.1-6.7h0m0 4h0m0 4.8h0m.1-6.9h0m.2-3.7h0m0 13h0m.1-9.2h0m0 2h0m0 .5h0m0 3h0m.2-8.4h0m0 6.5h0m0 2.5h0m.1-6.2h0m0 2.4h0m0 1.5h0m.1-.8h0m.2-.8h0m.2-1.5h0m0 3.1h0m.1-6h0m0 .8h0m0 2.1h0m0 6.9h0m.1-4.3h0m.1-2.9h0m.1 8.2h0m.1-9.6h0m.3 2.8h0m.1-2.9h0m.1-1.5h0m0 2.8h0m.1-2.9h0m0 1.8h0m0 3.7h0m.1 1.1h0m.1-3.3h0m.1 2.6h0m.1-3.6h0m.1-2.4h0m0 4.5h0m0 .2h0m.1-4.3h0m0 1.5h0m0 5.8h0m.1-4.8h0m.2-5.4h0m0 6.6h0m0 .3h0m.4-.3h0m.2-4.6h0m0 .4h0m0 2.3h0m.1 .2h0m0 2.5h0m.3-5.2h0m.1 .7h0m.1 6.4h0m.1-4.6h0m.1-.5h0m0 2.4h0m.1-4.7h0m0 3.6h0m0 0h0m0 1.3h0m.1-3h0m.1 4.5h0m.1-6.2h0m0 1.8h0m0 2.3h0m0 4h0m.1-4h0m.2-6.7h0m.3 4h0m.3 2.1h0m.3 2h0m.1-7.4h0m0 6.2h0m.2-7.7h0m0 5.3h0m.2 .4h0m.2-.2h0m.1-.3h0m.6 .8h0m0 .5h0m.2 1.2h0m1-3.9h0m.3 2.6h0m0 2h0m1.7 .6h0" stroke="#5e1a66" stroke-width="0.5" stroke-linecap="round" fill="none" opacity="0.8"/><path d="M625.3 319.3h0m.1 1.6h0m.2-1.1h0m.1 .6h0m.1-1h0m.2 1.2h0m.1-.9h0m0 .2h0m.1 .9h0m.1-.5h0m.2 .1h0m.1-1.4h0m0 1.6h0m.1-4.6h0m0 1.9h0m.1 2.1h0m.1-3h0m.1 3h0m0 .1h0m0 .5h0m.1-3.4h0m0 2.9h0m.1-1.9h0m.1 2.1h0m.1-2h0m0 1.8h0m.2-4.9h0m.1 .5h0m0 3.3h0m.1-2h0m0 .8h0m0 .3h0m0 .4h0m.1-3.4h0m0 1.7h0m0 3.1h0m.3-6.1h0m0 2.2h0m0 2.4h0m.1-4.8h0m.3 2.5h0m.1-.8h0m.1 .6h0m0 .6h0m0 1.2h0m.1-3h0m0 1.5h0m0 2.3h0m.1-.4h0m0 .7h0m.3-3.3h0m.1 5h0m.1-5.2h0m0 1.4h0m.1-.8h0m.1-2.7h0m0 2h0m0 2.8h0m.1-.5h0m.1-2.9h0m.1-.6h0m0 1.8h0m.1-2.2h0m0 .1h0m0 .4h0m0 .9h0m.2 .6h0m.1 1.4h0m.2-1h0m.1-5.1h0m0 3.2h0m0 1.5h0m.5 .4h0m.2 .4h0m.1-2.6h0m0 1.2h0m.1-4.5h0m0 2.2h0m0 1.7h0m.1-.2h0m0 .3h0m.1-2h0m0 1.8h0m.1-2.6h0m.1-1.6h0m.1 2.8h0m.1-.8h0m0 .6h0m.1 .2h0m0 1.7h0m.2-.6h0m.2-1.9h0m0 1.1h0m.1-2.1h0m.2-1.2h0m0 .3h0m0 .8h0m0 .9h0m0 .8h0m0 .1h0m.1-.1h0m0 1.1h0m0 1.6h0m.1-1.2h0m.1-1.4h0m.1-1h0m0 2.6h0m.1 .7h0m.2-3.6h0m0 .3h0m.1-.9h0m0 .2h0m0 0h0m.1-2.3h0m0 2.2h0m0 0h0m.6 1.4h0m0 .7h0m.1-1.9h0m0 1.2h0m.1-2.8h0m0 2.9h0m.3-2.4h0m.1 2.2h0m.1-5.2h0m.3 1.6h0m0 1.8h0m.2-.9h0m0 .4h0m.1 1.7h0m.1-1.4h0m0 .4h0m0 .6h0m.3-2.7h0m.1 .2h0m0 2.2h0m0 .5h0m.2-3.1h0m0 .9h0m.2-.1h0m0 .5h0m.1-2.8h0m0 .7h0m.5 1.7h0m.1 2.3h0m.4-3.6h0m0 1.9h0m0 .8h0m.2-3.2h0m0 .3h0m0 2.5h0m.1-.4h0m0 .3h0m.4-3.2h0m.3-.2h0m.3 1.4h0m0 .1h0m0 1.5h0m.2-.1h0m.2 .2h0" stroke="#5e1a66" stroke-width="0.55" stroke-linecap="round" fill="none" opacity="0.85"/><text x="371.6" y="418.0" font-size="16.5" stroke="#000" stroke-width="0.35">h</text><text x="410.0" y="513.0" font-size="12" stroke="#000" stroke-width="0.35">kDa</text><rect x="439.6" y="518.4" width="90.2" height="34.8" fill="#bdbdbd"/><g clip-path="url(#bc439_518)"><ellipse cx="484.7" cy="516.4" rx="40.6" ry="7" fill="#fff" opacity="0.16" filter="url(#bl3)"/><rect x="443.4" y="537.8" width="9.6" height="1.6" rx="0.8" fill="rgb(131,131,131)" filter="url(#bl2)" transform="rotate(0 448.2 538.6)"/><rect x="458.0" y="535.7" width="15.4" height="4.6" rx="2.3" fill="rgb(0,0,0)" filter="url(#bl1)" transform="rotate(0 465.7 538.0)"/><rect x="475.4" y="536.0" width="15.0" height="4.0" rx="2.0" fill="rgb(0,0,0)" filter="url(#bl1)" transform="rotate(-2 482.9 538.0)"/><rect x="494.2" y="536.0" width="15.0" height="4.0" rx="2.0" fill="rgb(0,0,0)" filter="url(#bl1)" transform="rotate(1 501.7 538.0)"/><rect x="512.0" y="535.6" width="15.2" height="4.0" rx="2.0" fill="rgb(0,0,0)" filter="url(#bl1)" transform="rotate(-3 519.6 537.6)"/></g><rect x="439.6" y="518.4" width="90.2" height="34.8" fill="none" stroke="#1a1a1a" stroke-width="1.1"/><rect x="536.4" y="518.4" width="63.2" height="34.8" fill="#bdbdbd"/><g clip-path="url(#bc536_518)"><ellipse cx="568.0" cy="516.4" rx="28.4" ry="7" fill="#fff" opacity="0.16" filter="url(#bl3)"/><rect x="547.6" y="530.1" width="11.0" height="3.0" rx="1.5" fill="rgb(113,113,113)" filter="url(#bl2)" transform="rotate(0 553.1 531.6)"/><rect x="564.4" y="529.0" width="13.6" height="7.6" rx="3.8" fill="rgb(0,0,0)" filter="url(#bl1)" transform="rotate(0 571.2 532.8)"/><rect x="582.0" y="530.0" width="12.2" height="5.6" rx="2.8" fill="rgb(6,6,6)" filter="url(#bl1)" transform="rotate(0 588.1 532.8)"/></g><rect x="536.4" y="518.4" width="63.2" height="34.8" fill="none" stroke="#1a1a1a" stroke-width="1.1"/><rect x="439.6" y="559.2" width="90.2" height="36.0" fill="#bdbdbd"/><g clip-path="url(#bc439_559)"><ellipse cx="484.7" cy="557.2" rx="40.6" ry="7" fill="#fff" opacity="0.16" filter="url(#bl3)"/><rect x="441.0" y="572.2" width="3.0" height="1.6" rx="0.8" fill="rgb(156,156,156)" filter="url(#bl2)" transform="rotate(0 442.5 573.0)"/><rect x="448.2" y="573.7" width="11.4" height="5.2" rx="2.6" fill="rgb(0,0,0)" filter="url(#bl1)" transform="rotate(0 453.9 576.3)"/><rect x="462.0" y="574.9" width="14.2" height="4.2" rx="2.1" fill="rgb(0,0,0)" filter="url(#bl1)" transform="rotate(1 469.1 577.0)"/><rect x="480.4" y="575.5" width="12.8" height="4.2" rx="2.1" fill="rgb(0,0,0)" filter="url(#bl1)" transform="rotate(-1 486.8 577.6)"/><rect x="496.0" y="574.0" width="14.6" height="6.0" rx="3.0" fill="rgb(0,0,0)" filter="url(#bl1)" transform="rotate(0 503.3 577.0)"/><rect x="512.4" y="573.9" width="15.6" height="6.2" rx="3.1" fill="rgb(0,0,0)" filter="url(#bl1)" transform="rotate(0 520.2 577.0)"/><rect x="450.0" y="585.0" width="8.0" height="2.0" rx="1.0" fill="rgb(156,156,156)" filter="url(#bl2)" transform="rotate(0 454.0 586.0)"/><rect x="464.0" y="585.5" width="10.0" height="1.8" rx="0.9" fill="rgb(164,164,164)" filter="url(#bl2)" transform="rotate(0 469.0 586.4)"/><rect x="482.0" y="585.5" width="10.0" height="1.8" rx="0.9" fill="rgb(164,164,164)" filter="url(#bl2)" transform="rotate(0 487.0 586.4)"/><rect x="499.0" y="585.5" width="9.0" height="1.8" rx="0.9" fill="rgb(172,172,172)" filter="url(#bl2)" transform="rotate(0 503.5 586.4)"/><rect x="515.0" y="585.4" width="11.0" height="2.0" rx="1.0" fill="rgb(156,156,156)" filter="url(#bl2)" transform="rotate(0 520.5 586.4)"/></g><rect x="439.6" y="559.2" width="90.2" height="36.0" fill="none" stroke="#1a1a1a" stroke-width="1.1"/><rect x="536.4" y="559.2" width="63.2" height="36.0" fill="#bdbdbd"/><g clip-path="url(#bc536_559)"><ellipse cx="568.0" cy="557.2" rx="28.4" ry="7" fill="#fff" opacity="0.16" filter="url(#bl3)"/><rect x="546.2" y="571.5" width="14.4" height="5.0" rx="2.5" fill="rgb(0,0,0)" filter="url(#bl1)" transform="rotate(0 553.4 574.0)"/><rect x="563.4" y="572.4" width="15.4" height="5.6" rx="2.8" fill="rgb(0,0,0)" filter="url(#bl1)" transform="rotate(0 571.1 575.2)"/><rect x="581.0" y="572.7" width="15.6" height="4.6" rx="2.3" fill="rgb(0,0,0)" filter="url(#bl1)" transform="rotate(0 588.8 575.0)"/><rect x="548.0" y="583.8" width="10.0" height="1.6" rx="0.8" fill="rgb(172,172,172)" filter="url(#bl2)" transform="rotate(0 553.0 584.6)"/><rect x="566.0" y="583.6" width="11.0" height="2.8" rx="1.4" fill="rgb(98,98,98)" filter="url(#bl2)" transform="rotate(0 571.5 585.0)"/><rect x="583.4" y="584.0" width="10.2" height="2.0" rx="1.0" fill="rgb(152,152,152)" filter="url(#bl2)" transform="rotate(0 588.5 585.0)"/></g><rect x="536.4" y="559.2" width="63.2" height="36.0" fill="none" stroke="#1a1a1a" stroke-width="1.1"/><text x="432.6" y="544.8" font-size="12" text-anchor="end" stroke="#000" stroke-width="0.35">25</text><line x1="435.8" y1="541.0" x2="439.6" y2="541.0" stroke="#000" stroke-width="1.1"/><text x="432.6" y="590.2" font-size="12" text-anchor="end" stroke="#000" stroke-width="0.35">25</text><line x1="435.8" y1="586.4" x2="439.6" y2="586.4" stroke="#000" stroke-width="1.1"/><text x="603.4" y="537.6" font-size="14" stroke="#000" stroke-width="0.35">wtGFP</text><text x="603.8" y="577.0" font-size="14" stroke="#000" stroke-width="0.35">Opt-mCherry</text><text x="452.0" y="512.0" font-size="14" transform="rotate(-90 452.0 512.0)" stroke="#000" stroke-width="0.35">sgControl</text><text x="470.4" y="512.0" font-size="14" transform="rotate(-90 470.4 512.0)" stroke="#000" stroke-width="0.35">sg<tspan font-style="italic" dx="1.2">DIS3</tspan></text><text x="488.6" y="512.0" font-size="14" transform="rotate(-90 488.6 512.0)" stroke="#000" stroke-width="0.35">sg<tspan font-style="italic" dx="1.2">DIS3</tspan></text><text x="506.8" y="512.0" font-size="14" transform="rotate(-90 506.8 512.0)" stroke="#000" stroke-width="0.35">sg<tspan font-style="italic" dx="1.2">ZFC3H1</tspan></text><text x="524.2" y="512.0" font-size="14" transform="rotate(-90 524.2 512.0)" stroke="#000" stroke-width="0.35">sg<tspan font-style="italic" dx="1.2">ZFC3H1</tspan></text><text x="552.4" y="512.0" font-size="14" transform="rotate(-90 552.4 512.0)" stroke="#000" stroke-width="0.35">sgControl</text><text x="570.6" y="512.0" font-size="14" transform="rotate(-90 570.6 512.0)" stroke="#000" stroke-width="0.35">sg<tspan font-style="italic" dx="1.2">PABPN1</tspan></text><text x="589.8" y="512.0" font-size="14" transform="rotate(-90 589.8 512.0)" stroke="#000" stroke-width="0.35">sg<tspan font-style="italic" dx="1.2">PABPN1</tspan></text><text x="369.0" y="636.8" font-size="16.5" stroke="#000" stroke-width="0.35">i</text><text x="411.8" y="716.5" font-size="14" text-anchor="middle" transform="rotate(-90 411.8 716.5)" stroke="#000" stroke-width="0.35">Relative protein ratio</text><text x="429.0" y="716.7" font-size="14" text-anchor="middle" transform="rotate(-90 429.0 716.7)" stroke="#000" stroke-width="0.35">(wtGFP/Opt-mCherry)</text><rect x="472.4" y="760.6" width="19.0" height="12.7" fill="#a0a0a4" stroke="#000" stroke-width="1.5"/><rect x="502.6" y="716.8" width="19.1" height="56.5" fill="#a0a0a4" stroke="#000" stroke-width="1.5"/><rect x="532.3" y="721.5" width="19.5" height="51.8" fill="#a0a0a4" stroke="#000" stroke-width="1.5"/><rect x="562.3" y="716.2" width="19.3" height="57.1" fill="#a0a0a4" stroke="#000" stroke-width="1.5"/><path d="M463 773.3V643.9H592.6V773.3" fill="none" stroke="#000" stroke-width="1.2"/><line x1="457.4" y1="773.3" x2="593.2" y2="773.3" stroke="#000" stroke-width="1.2"/><line x1="457.4" y1="773.3" x2="463.0" y2="773.3" stroke="#000" stroke-width="1.2"/><text x="455.6" y="777.7" font-size="12" text-anchor="end" stroke="#000" stroke-width="0.35">0.0</text><line x1="457.4" y1="740.9" x2="463.0" y2="740.9" stroke="#000" stroke-width="1.2"/><text x="455.6" y="745.3" font-size="12" text-anchor="end" stroke="#000" stroke-width="0.35">0.5</text><line x1="457.4" y1="708.6" x2="463.0" y2="708.6" stroke="#000" stroke-width="1.2"/><text x="455.6" y="713.0" font-size="12" text-anchor="end" stroke="#000" stroke-width="0.35">1.0</text><line x1="457.4" y1="676.2" x2="463.0" y2="676.2" stroke="#000" stroke-width="1.2"/><text x="455.6" y="680.6" font-size="12" text-anchor="end" stroke="#000" stroke-width="0.35">1.5</text><line x1="457.4" y1="643.9" x2="463.0" y2="643.9" stroke="#000" stroke-width="1.2"/><text x="455.6" y="648.3" font-size="12" text-anchor="end" stroke="#000" stroke-width="0.35">2.0</text><line x1="482.0" y1="773.3" x2="482.0" y2="778.5" stroke="#000" stroke-width="1.2"/><line x1="512.0" y1="773.3" x2="512.0" y2="778.5" stroke="#000" stroke-width="1.2"/><line x1="542.0" y1="773.3" x2="542.0" y2="778.5" stroke="#000" stroke-width="1.2"/><line x1="572.0" y1="773.3" x2="572.0" y2="778.5" stroke="#000" stroke-width="1.2"/><path d="M482.0 758.2V763.0M477.6 758.2h8.8M477.6 763.0h8.8" stroke="#000" stroke-width="0.8" fill="none"/><path d="M512.2 692.5V739.5M507.6 692.5h9.2M507.6 739.5h9.2" stroke="#000" stroke-width="0.8" fill="none"/><path d="M542.0 705.4V736.5M537.4 705.4h9.2M537.4 736.5h9.2" stroke="#000" stroke-width="0.8" fill="none"/><path d="M572.0 703.5V727.9M567.4 703.5h9.2M567.4 727.9h9.2" stroke="#000" stroke-width="0.8" fill="none"/><circle cx="474.6" cy="759.6" r="1.3" fill="#f4f4f4" stroke="#000" stroke-width="0.65"/><circle cx="477.0" cy="758.6" r="1.3" fill="#f4f4f4" stroke="#000" stroke-width="0.65"/><circle cx="479.4" cy="759.0" r="1.3" fill="#f4f4f4" stroke="#000" stroke-width="0.65"/><circle cx="481.6" cy="759.4" r="1.3" fill="#f4f4f4" stroke="#000" stroke-width="0.65"/><circle cx="484.0" cy="759.0" r="1.3" fill="#f4f4f4" stroke="#000" stroke-width="0.65"/><circle cx="486.4" cy="759.4" r="1.3" fill="#f4f4f4" stroke="#000" stroke-width="0.65"/><circle cx="488.6" cy="758.6" r="1.3" fill="#f4f4f4" stroke="#000" stroke-width="0.65"/><circle cx="490.8" cy="756.8" r="1.3" fill="#f4f4f4" stroke="#000" stroke-width="0.65"/><circle cx="480.6" cy="763.2" r="1.3" fill="#f4f4f4" stroke="#000" stroke-width="0.65"/><circle cx="483.6" cy="763.2" r="1.3" fill="#f4f4f4" stroke="#000" stroke-width="0.65"/><circle cx="512.2" cy="686.6" r="1.5" fill="#f4f4f4" stroke="#000" stroke-width="0.65"/><circle cx="512.2" cy="697.4" r="1.5" fill="#f4f4f4" stroke="#000" stroke-width="0.65"/><circle cx="512.2" cy="710.5" r="1.5" fill="#f4f4f4" stroke="#000" stroke-width="0.65"/><circle cx="512.2" cy="715.8" r="1.5" fill="#f4f4f4" stroke="#000" stroke-width="0.65"/><circle cx="514.8" cy="742.3" r="1.5" fill="#f4f4f4" stroke="#000" stroke-width="0.65"/><circle cx="509.4" cy="745.0" r="1.5" fill="#f4f4f4" stroke="#000" stroke-width="0.65"/><circle cx="542.0" cy="694.2" r="1.5" fill="#f4f4f4" stroke="#000" stroke-width="0.65"/><circle cx="542.0" cy="715.4" r="1.5" fill="#f4f4f4" stroke="#000" stroke-width="0.65"/><circle cx="542.0" cy="721.5" r="1.5" fill="#f4f4f4" stroke="#000" stroke-width="0.65"/><circle cx="542.0" cy="724.3" r="1.5" fill="#f4f4f4" stroke="#000" stroke-width="0.65"/><circle cx="542.0" cy="733.8" r="1.5" fill="#f4f4f4" stroke="#000" stroke-width="0.65"/><circle cx="542.0" cy="738.0" r="1.5" fill="#f4f4f4" stroke="#000" stroke-width="0.65"/><circle cx="572.0" cy="696.1" r="1.5" fill="#f4f4f4" stroke="#000" stroke-width="0.65"/><circle cx="572.0" cy="709.4" r="1.5" fill="#f4f4f4" stroke="#000" stroke-width="0.65"/><circle cx="572.0" cy="712.6" r="1.5" fill="#f4f4f4" stroke="#000" stroke-width="0.65"/><circle cx="569.4" cy="723.2" r="1.5" fill="#f4f4f4" stroke="#000" stroke-width="0.65"/><circle cx="574.4" cy="723.2" r="1.5" fill="#f4f4f4" stroke="#000" stroke-width="0.65"/><circle cx="572.0" cy="728.5" r="1.5" fill="#f4f4f4" stroke="#000" stroke-width="0.65"/><path d="M482 748V657.5H572V688.2M482 667.7H542V688.2M482 679.3H512.2V681.4" fill="none" stroke="#000" stroke-width="1.2"/><text x="527.0" y="654.4" font-size="7" text-anchor="middle">&lt;0.0001</text><text x="512.0" y="664.6" font-size="7" text-anchor="middle">0.0002</text><text x="496.6" y="675.6" font-size="7" text-anchor="middle">&lt;0.0001</text><text x="485.6" y="789.0" font-size="13.5" text-anchor="end" transform="rotate(-45 485.6 789.0)" stroke="#000" stroke-width="0.35">sgControl</text><text x="516" y="789" font-size="13.5" text-anchor="end" stroke="#000" stroke-width="0.35" transform="rotate(-45 516 789)">sg<tspan font-style="italic" dx="1.2">Dis3</tspan></text><text x="545.6" y="789" font-size="13.5" text-anchor="end" stroke="#000" stroke-width="0.35" transform="rotate(-45 545.6 789)">sg<tspan font-style="italic" dx="1.2">ZFC3H1</tspan></text><text x="575.6" y="789" font-size="13.5" text-anchor="end" stroke="#000" stroke-width="0.35" transform="rotate(-45 575.6 789)">sg<tspan font-style="italic" dx="1.2">PABPN1</tspan></text></svg></body></html>
